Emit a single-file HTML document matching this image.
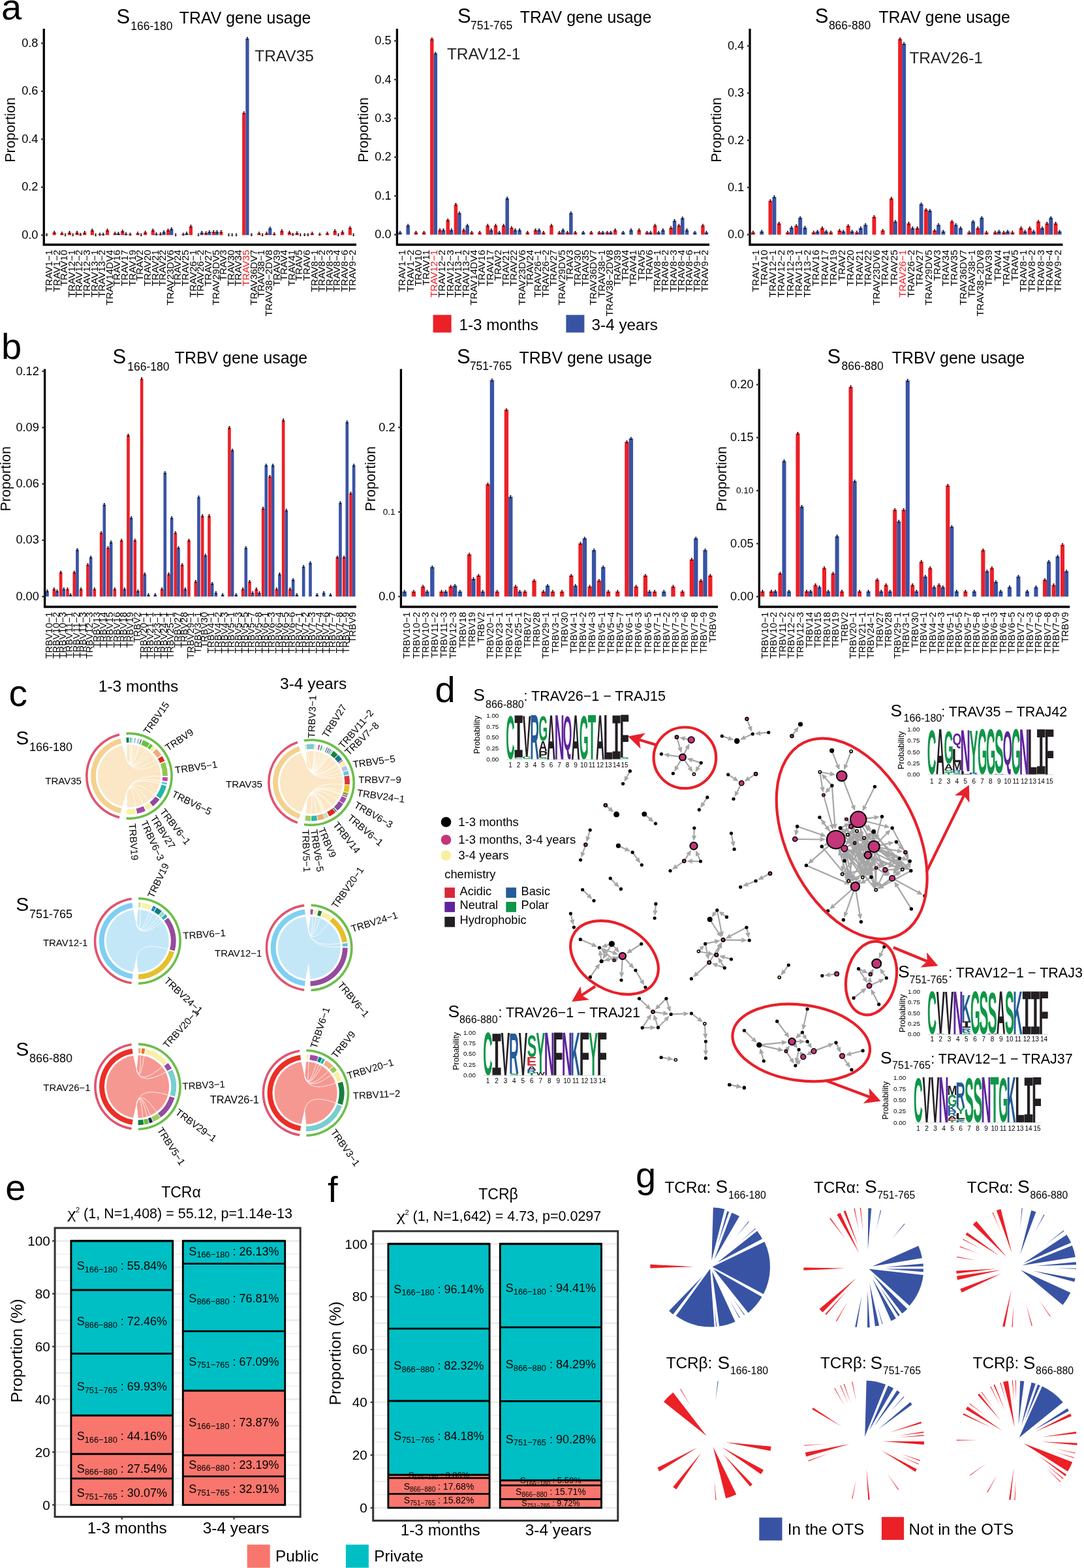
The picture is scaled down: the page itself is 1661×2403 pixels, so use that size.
<!DOCTYPE html>
<html><head><meta charset="utf-8"><title>Figure</title>
<style>
html,body{margin:0;padding:0;background:#fff;}
svg{display:block;font-family:"Liberation Sans",Arial,Helvetica,sans-serif;}
</style></head><body>
<svg width="1661" height="2403" viewBox="0 0 1661 2403">
<rect width="1661" height="2403" fill="#fff"/>
<text x="2.0" y="30.3" font-size="56">a</text>
<text x="2.0" y="550.3" font-size="56">b</text>
<rect x="68.99" y="359.56" width="5.23" height="0.73" fill="#EC2027"/>
<path d="M70.51 357.96h2.2M71.61 357.96v3.2M70.51 361.17h2.2" stroke="#000" stroke-width="1.1" fill="none"/>
<text transform="translate(79.89,383.00) rotate(-90)" font-size="15.0" text-anchor="end">TRAV1−1</text>
<rect x="80.61" y="355.89" width="5.23" height="4.41" fill="#EC2027"/>
<path d="M82.13 354.29h2.2M83.23 354.29v3.2M82.13 357.49h2.2" stroke="#000" stroke-width="1.1" fill="none"/>
<text transform="translate(91.51,383.00) rotate(-90)" font-size="15.0" text-anchor="end">TRAV1−2</text>
<rect x="92.23" y="357.36" width="5.23" height="2.94" fill="#EC2027"/>
<path d="M93.75 355.76h2.2M94.85 355.76v3.2M93.75 358.96h2.2" stroke="#000" stroke-width="1.1" fill="none"/>
<rect x="97.46" y="359.93" width="5.23" height="0.37" fill="#3953A4"/>
<path d="M98.98 358.33h2.2M100.08 358.33v3.2M98.98 361.53h2.2" stroke="#000" stroke-width="1.1" fill="none"/>
<text transform="translate(103.13,383.00) rotate(-90)" font-size="15.0" text-anchor="end">TRAV10</text>
<rect x="103.85" y="356.26" width="5.23" height="4.04" fill="#EC2027"/>
<path d="M105.37 354.66h2.2M106.47 354.66v3.2M105.37 357.86h2.2" stroke="#000" stroke-width="1.1" fill="none"/>
<rect x="109.08" y="359.93" width="5.23" height="0.37" fill="#3953A4"/>
<path d="M110.60 358.33h2.2M111.70 358.33v3.2M110.60 361.53h2.2" stroke="#000" stroke-width="1.1" fill="none"/>
<text transform="translate(114.75,383.00) rotate(-90)" font-size="15.0" text-anchor="end">TRAV12−1</text>
<rect x="115.47" y="356.26" width="5.23" height="4.04" fill="#EC2027"/>
<path d="M116.99 354.66h2.2M118.09 354.66v3.2M116.99 357.86h2.2" stroke="#000" stroke-width="1.1" fill="none"/>
<rect x="120.70" y="359.20" width="5.23" height="1.10" fill="#3953A4"/>
<path d="M122.22 357.60h2.2M123.32 357.60v3.2M122.22 360.80h2.2" stroke="#000" stroke-width="1.1" fill="none"/>
<text transform="translate(126.37,383.00) rotate(-90)" font-size="15.0" text-anchor="end">TRAV12−2</text>
<rect x="127.09" y="356.26" width="5.23" height="4.04" fill="#EC2027"/>
<path d="M128.61 354.66h2.2M129.71 354.66v3.2M128.61 357.86h2.2" stroke="#000" stroke-width="1.1" fill="none"/>
<text transform="translate(137.99,383.00) rotate(-90)" font-size="15.0" text-anchor="end">TRAV12−3</text>
<rect x="138.71" y="352.58" width="5.23" height="7.72" fill="#EC2027"/>
<path d="M140.23 350.98h2.2M141.33 350.98v3.2M140.23 354.18h2.2" stroke="#000" stroke-width="1.1" fill="none"/>
<rect x="143.94" y="359.93" width="5.23" height="0.37" fill="#3953A4"/>
<path d="M145.46 358.33h2.2M146.56 358.33v3.2M145.46 361.53h2.2" stroke="#000" stroke-width="1.1" fill="none"/>
<text transform="translate(149.61,383.00) rotate(-90)" font-size="15.0" text-anchor="end">TRAV13−1</text>
<rect x="150.33" y="358.83" width="5.23" height="1.47" fill="#EC2027"/>
<path d="M151.85 357.23h2.2M152.95 357.23v3.2M151.85 360.43h2.2" stroke="#000" stroke-width="1.1" fill="none"/>
<rect x="155.56" y="358.83" width="5.23" height="1.47" fill="#3953A4"/>
<path d="M157.08 357.23h2.2M158.18 357.23v3.2M157.08 360.43h2.2" stroke="#000" stroke-width="1.1" fill="none"/>
<text transform="translate(161.23,383.00) rotate(-90)" font-size="15.0" text-anchor="end">TRAV13−2</text>
<rect x="161.95" y="352.58" width="5.23" height="7.72" fill="#EC2027"/>
<path d="M163.47 350.98h2.2M164.57 350.98v3.2M163.47 354.18h2.2" stroke="#000" stroke-width="1.1" fill="none"/>
<text transform="translate(172.85,383.00) rotate(-90)" font-size="15.0" text-anchor="end">TRAV14DV4</text>
<rect x="173.57" y="357.36" width="5.23" height="2.94" fill="#EC2027"/>
<path d="M175.09 355.76h2.2M176.19 355.76v3.2M175.09 358.96h2.2" stroke="#000" stroke-width="1.1" fill="none"/>
<rect x="178.80" y="357.73" width="5.23" height="2.57" fill="#3953A4"/>
<path d="M180.32 356.13h2.2M181.42 356.13v3.2M180.32 359.33h2.2" stroke="#000" stroke-width="1.1" fill="none"/>
<text transform="translate(184.47,383.00) rotate(-90)" font-size="15.0" text-anchor="end">TRAV16</text>
<rect x="185.19" y="354.05" width="5.23" height="6.25" fill="#EC2027"/>
<path d="M186.71 352.45h2.2M187.81 352.45v3.2M186.71 355.65h2.2" stroke="#000" stroke-width="1.1" fill="none"/>
<rect x="190.42" y="358.46" width="5.23" height="1.84" fill="#3953A4"/>
<path d="M191.94 356.86h2.2M193.04 356.86v3.2M191.94 360.06h2.2" stroke="#000" stroke-width="1.1" fill="none"/>
<text transform="translate(196.09,383.00) rotate(-90)" font-size="15.0" text-anchor="end">TRAV17</text>
<rect x="196.81" y="358.83" width="5.23" height="1.47" fill="#EC2027"/>
<path d="M198.33 357.23h2.2M199.43 357.23v3.2M198.33 360.43h2.2" stroke="#000" stroke-width="1.1" fill="none"/>
<text transform="translate(207.71,383.00) rotate(-90)" font-size="15.0" text-anchor="end">TRAV19</text>
<rect x="208.43" y="357.36" width="5.23" height="2.94" fill="#EC2027"/>
<path d="M209.95 355.76h2.2M211.05 355.76v3.2M209.95 358.96h2.2" stroke="#000" stroke-width="1.1" fill="none"/>
<rect x="213.66" y="359.93" width="5.23" height="0.37" fill="#3953A4"/>
<path d="M215.18 358.33h2.2M216.28 358.33v3.2M215.18 361.53h2.2" stroke="#000" stroke-width="1.1" fill="none"/>
<text transform="translate(219.33,383.00) rotate(-90)" font-size="15.0" text-anchor="end">TRAV2</text>
<rect x="220.05" y="355.89" width="5.23" height="4.41" fill="#EC2027"/>
<path d="M221.57 354.29h2.2M222.67 354.29v3.2M221.57 357.49h2.2" stroke="#000" stroke-width="1.1" fill="none"/>
<text transform="translate(230.95,383.00) rotate(-90)" font-size="15.0" text-anchor="end">TRAV20</text>
<rect x="231.68" y="352.58" width="5.23" height="7.72" fill="#EC2027"/>
<path d="M233.19 350.98h2.2M234.29 350.98v3.2M233.19 354.18h2.2" stroke="#000" stroke-width="1.1" fill="none"/>
<rect x="236.90" y="358.46" width="5.23" height="1.84" fill="#3953A4"/>
<path d="M238.42 356.86h2.2M239.52 356.86v3.2M238.42 360.06h2.2" stroke="#000" stroke-width="1.1" fill="none"/>
<text transform="translate(242.57,383.00) rotate(-90)" font-size="15.0" text-anchor="end">TRAV21</text>
<rect x="243.30" y="358.46" width="5.23" height="1.84" fill="#EC2027"/>
<path d="M244.81 356.86h2.2M245.91 356.86v3.2M244.81 360.06h2.2" stroke="#000" stroke-width="1.1" fill="none"/>
<rect x="248.52" y="355.52" width="5.23" height="4.78" fill="#3953A4"/>
<path d="M250.04 353.92h2.2M251.14 353.92v3.2M250.04 357.12h2.2" stroke="#000" stroke-width="1.1" fill="none"/>
<text transform="translate(254.19,383.00) rotate(-90)" font-size="15.0" text-anchor="end">TRAV22</text>
<rect x="254.92" y="352.58" width="5.23" height="7.72" fill="#EC2027"/>
<path d="M256.43 350.98h2.2M257.53 350.98v3.2M256.43 354.18h2.2" stroke="#000" stroke-width="1.1" fill="none"/>
<rect x="260.14" y="350.75" width="5.23" height="9.55" fill="#3953A4"/>
<path d="M261.66 349.14h2.2M262.76 349.14v3.2M261.66 352.35h2.2" stroke="#000" stroke-width="1.1" fill="none"/>
<text transform="translate(265.81,383.00) rotate(-90)" font-size="15.0" text-anchor="end">TRAV23DV6</text>
<rect x="266.54" y="359.93" width="5.23" height="0.37" fill="#EC2027"/>
<path d="M268.05 358.33h2.2M269.15 358.33v3.2M268.05 361.53h2.2" stroke="#000" stroke-width="1.1" fill="none"/>
<text transform="translate(277.43,383.00) rotate(-90)" font-size="15.0" text-anchor="end">TRAV24</text>
<rect x="278.16" y="358.83" width="5.23" height="1.47" fill="#EC2027"/>
<path d="M279.67 357.23h2.2M280.77 357.23v3.2M279.67 360.43h2.2" stroke="#000" stroke-width="1.1" fill="none"/>
<rect x="283.38" y="357.36" width="5.23" height="2.94" fill="#3953A4"/>
<path d="M284.90 355.76h2.2M286.00 355.76v3.2M284.90 358.96h2.2" stroke="#000" stroke-width="1.1" fill="none"/>
<text transform="translate(289.05,383.00) rotate(-90)" font-size="15.0" text-anchor="end">TRAV25</text>
<rect x="289.78" y="346.70" width="5.23" height="13.60" fill="#EC2027"/>
<path d="M291.29 345.10h2.2M292.39 345.10v3.2M291.29 348.30h2.2" stroke="#000" stroke-width="1.1" fill="none"/>
<text transform="translate(300.67,383.00) rotate(-90)" font-size="15.0" text-anchor="end">TRAV26−1</text>
<rect x="301.40" y="359.93" width="5.23" height="0.37" fill="#EC2027"/>
<path d="M302.91 358.33h2.2M304.01 358.33v3.2M302.91 361.53h2.2" stroke="#000" stroke-width="1.1" fill="none"/>
<rect x="306.62" y="356.26" width="5.23" height="4.04" fill="#3953A4"/>
<path d="M308.14 354.66h2.2M309.24 354.66v3.2M308.14 357.86h2.2" stroke="#000" stroke-width="1.1" fill="none"/>
<text transform="translate(312.30,383.00) rotate(-90)" font-size="15.0" text-anchor="end">TRAV26−2</text>
<rect x="313.02" y="356.99" width="5.23" height="3.31" fill="#EC2027"/>
<path d="M314.53 355.39h2.2M315.63 355.39v3.2M314.53 358.59h2.2" stroke="#000" stroke-width="1.1" fill="none"/>
<rect x="318.25" y="355.16" width="5.23" height="5.15" fill="#3953A4"/>
<path d="M319.76 353.56h2.2M320.86 353.56v3.2M319.76 356.76h2.2" stroke="#000" stroke-width="1.1" fill="none"/>
<text transform="translate(323.92,383.00) rotate(-90)" font-size="15.0" text-anchor="end">TRAV27</text>
<rect x="324.64" y="355.16" width="5.23" height="5.15" fill="#EC2027"/>
<path d="M326.15 353.56h2.2M327.25 353.56v3.2M326.15 356.76h2.2" stroke="#000" stroke-width="1.1" fill="none"/>
<rect x="329.87" y="355.16" width="5.23" height="5.15" fill="#3953A4"/>
<path d="M331.38 353.56h2.2M332.48 353.56v3.2M331.38 356.76h2.2" stroke="#000" stroke-width="1.1" fill="none"/>
<text transform="translate(335.54,383.00) rotate(-90)" font-size="15.0" text-anchor="end">TRAV29DV5</text>
<rect x="336.26" y="355.16" width="5.23" height="5.15" fill="#EC2027"/>
<path d="M337.77 353.56h2.2M338.87 353.56v3.2M337.77 356.76h2.2" stroke="#000" stroke-width="1.1" fill="none"/>
<text transform="translate(347.16,383.00) rotate(-90)" font-size="15.0" text-anchor="end">TRAV3</text>
<rect x="347.88" y="359.93" width="5.23" height="0.37" fill="#EC2027"/>
<path d="M349.39 358.33h2.2M350.49 358.33v3.2M349.39 361.53h2.2" stroke="#000" stroke-width="1.1" fill="none"/>
<rect x="353.11" y="359.93" width="5.23" height="0.37" fill="#3953A4"/>
<path d="M354.62 358.33h2.2M355.72 358.33v3.2M354.62 361.53h2.2" stroke="#000" stroke-width="1.1" fill="none"/>
<text transform="translate(358.78,383.00) rotate(-90)" font-size="15.0" text-anchor="end">TRAV30</text>
<rect x="359.50" y="359.93" width="5.23" height="0.37" fill="#3953A4"/>
<path d="M361.01 358.33h2.2M362.11 358.33v3.2M361.01 361.53h2.2" stroke="#000" stroke-width="1.1" fill="none"/>
<text transform="translate(370.40,383.00) rotate(-90)" font-size="15.0" text-anchor="end">TRAV34</text>
<rect x="371.12" y="172.88" width="5.23" height="187.43" fill="#EC2027"/>
<path d="M372.63 171.28h2.2M373.73 171.28v3.2M372.63 174.47h2.2" stroke="#000" stroke-width="1.1" fill="none"/>
<rect x="376.35" y="58.95" width="5.23" height="301.35" fill="#3953A4"/>
<path d="M377.86 57.35h2.2M378.96 57.35v3.2M377.86 60.55h2.2" stroke="#000" stroke-width="1.1" fill="none"/>
<text transform="translate(382.02,383.00) rotate(-90)" font-size="15.0" text-anchor="end" fill="#EC2027">TRAV35</text>
<rect x="382.74" y="359.56" width="5.23" height="0.73" fill="#EC2027"/>
<path d="M384.25 357.96h2.2M385.35 357.96v3.2M384.25 361.17h2.2" stroke="#000" stroke-width="1.1" fill="none"/>
<text transform="translate(393.64,383.00) rotate(-90)" font-size="15.0" text-anchor="end">TRAV36DV7</text>
<rect x="394.36" y="357.36" width="5.23" height="2.94" fill="#EC2027"/>
<path d="M395.87 355.76h2.2M396.97 355.76v3.2M395.87 358.96h2.2" stroke="#000" stroke-width="1.1" fill="none"/>
<rect x="399.59" y="359.93" width="5.23" height="0.37" fill="#3953A4"/>
<path d="M401.10 358.33h2.2M402.20 358.33v3.2M401.10 361.53h2.2" stroke="#000" stroke-width="1.1" fill="none"/>
<text transform="translate(405.26,383.00) rotate(-90)" font-size="15.0" text-anchor="end">TRAV38−1</text>
<rect x="405.98" y="357.36" width="5.23" height="2.94" fill="#EC2027"/>
<path d="M407.49 355.76h2.2M408.59 355.76v3.2M407.49 358.96h2.2" stroke="#000" stroke-width="1.1" fill="none"/>
<rect x="411.21" y="349.64" width="5.23" height="10.66" fill="#3953A4"/>
<path d="M412.72 348.04h2.2M413.82 348.04v3.2M412.72 351.24h2.2" stroke="#000" stroke-width="1.1" fill="none"/>
<text transform="translate(416.88,383.00) rotate(-90)" font-size="15.0" text-anchor="end">TRAV38−2DV8</text>
<rect x="417.60" y="358.46" width="5.23" height="1.84" fill="#EC2027"/>
<path d="M419.11 356.86h2.2M420.21 356.86v3.2M419.11 360.06h2.2" stroke="#000" stroke-width="1.1" fill="none"/>
<text transform="translate(428.50,383.00) rotate(-90)" font-size="15.0" text-anchor="end">TRAV39</text>
<rect x="429.22" y="353.69" width="5.23" height="6.61" fill="#EC2027"/>
<path d="M430.73 352.08h2.2M431.83 352.08v3.2M430.73 355.29h2.2" stroke="#000" stroke-width="1.1" fill="none"/>
<text transform="translate(440.12,383.00) rotate(-90)" font-size="15.0" text-anchor="end">TRAV4</text>
<rect x="440.84" y="355.89" width="5.23" height="4.41" fill="#EC2027"/>
<path d="M442.35 354.29h2.2M443.45 354.29v3.2M442.35 357.49h2.2" stroke="#000" stroke-width="1.1" fill="none"/>
<rect x="446.07" y="359.20" width="5.23" height="1.10" fill="#3953A4"/>
<path d="M447.58 357.60h2.2M448.68 357.60v3.2M447.58 360.80h2.2" stroke="#000" stroke-width="1.1" fill="none"/>
<text transform="translate(451.74,383.00) rotate(-90)" font-size="15.0" text-anchor="end">TRAV41</text>
<rect x="452.46" y="356.99" width="5.23" height="3.31" fill="#EC2027"/>
<path d="M453.97 355.39h2.2M455.07 355.39v3.2M453.97 358.59h2.2" stroke="#000" stroke-width="1.1" fill="none"/>
<rect x="457.69" y="359.93" width="5.23" height="0.37" fill="#3953A4"/>
<path d="M459.20 358.33h2.2M460.30 358.33v3.2M459.20 361.53h2.2" stroke="#000" stroke-width="1.1" fill="none"/>
<text transform="translate(463.36,383.00) rotate(-90)" font-size="15.0" text-anchor="end">TRAV5</text>
<rect x="464.08" y="359.56" width="5.23" height="0.73" fill="#EC2027"/>
<path d="M465.59 357.96h2.2M466.69 357.96v3.2M465.59 361.17h2.2" stroke="#000" stroke-width="1.1" fill="none"/>
<rect x="469.31" y="359.56" width="5.23" height="0.73" fill="#3953A4"/>
<path d="M470.82 357.96h2.2M471.92 357.96v3.2M470.82 361.17h2.2" stroke="#000" stroke-width="1.1" fill="none"/>
<text transform="translate(474.98,383.00) rotate(-90)" font-size="15.0" text-anchor="end">TRAV6</text>
<rect x="475.70" y="357.36" width="5.23" height="2.94" fill="#EC2027"/>
<path d="M477.21 355.76h2.2M478.31 355.76v3.2M477.21 358.96h2.2" stroke="#000" stroke-width="1.1" fill="none"/>
<text transform="translate(486.60,383.00) rotate(-90)" font-size="15.0" text-anchor="end">TRAV8−1</text>
<rect x="487.32" y="358.83" width="5.23" height="1.47" fill="#EC2027"/>
<path d="M488.83 357.23h2.2M489.93 357.23v3.2M488.83 360.43h2.2" stroke="#000" stroke-width="1.1" fill="none"/>
<text transform="translate(498.22,383.00) rotate(-90)" font-size="15.0" text-anchor="end">TRAV8−2</text>
<rect x="498.94" y="357.36" width="5.23" height="2.94" fill="#EC2027"/>
<path d="M500.45 355.76h2.2M501.55 355.76v3.2M500.45 358.96h2.2" stroke="#000" stroke-width="1.1" fill="none"/>
<text transform="translate(509.84,383.00) rotate(-90)" font-size="15.0" text-anchor="end">TRAV8−3</text>
<rect x="510.56" y="353.69" width="5.23" height="6.61" fill="#EC2027"/>
<path d="M512.07 352.08h2.2M513.17 352.08v3.2M512.07 355.29h2.2" stroke="#000" stroke-width="1.1" fill="none"/>
<rect x="515.79" y="359.93" width="5.23" height="0.37" fill="#3953A4"/>
<path d="M517.30 358.33h2.2M518.40 358.33v3.2M517.30 361.53h2.2" stroke="#000" stroke-width="1.1" fill="none"/>
<text transform="translate(521.46,383.00) rotate(-90)" font-size="15.0" text-anchor="end">TRAV8−4</text>
<rect x="522.18" y="355.52" width="5.23" height="4.78" fill="#EC2027"/>
<path d="M523.69 353.92h2.2M524.79 353.92v3.2M523.69 357.12h2.2" stroke="#000" stroke-width="1.1" fill="none"/>
<text transform="translate(533.08,383.00) rotate(-90)" font-size="15.0" text-anchor="end">TRAV8−6</text>
<rect x="533.80" y="348.91" width="5.23" height="11.39" fill="#EC2027"/>
<path d="M535.31 347.31h2.2M536.41 347.31v3.2M535.31 350.51h2.2" stroke="#000" stroke-width="1.1" fill="none"/>
<rect x="539.03" y="359.93" width="5.23" height="0.37" fill="#3953A4"/>
<path d="M540.54 358.33h2.2M541.64 358.33v3.2M540.54 361.53h2.2" stroke="#000" stroke-width="1.1" fill="none"/>
<text transform="translate(544.70,383.00) rotate(-90)" font-size="15.0" text-anchor="end">TRAV9−2</text>
<path d="M67.25 44.00V376.60M65.65 375.00H546.00" stroke="#000" stroke-width="3.3" fill="none"/>
<path d="M63.05 360.30H67.25" stroke="#333" stroke-width="2.4"/>
<text x="58.5" y="365.8" font-size="18.2" text-anchor="end">0.0</text>
<path d="M63.05 286.80H67.25" stroke="#333" stroke-width="2.4"/>
<text x="58.5" y="292.3" font-size="18.2" text-anchor="end">0.2</text>
<path d="M63.05 213.30H67.25" stroke="#333" stroke-width="2.4"/>
<text x="58.5" y="218.8" font-size="18.2" text-anchor="end">0.4</text>
<path d="M63.05 139.80H67.25" stroke="#333" stroke-width="2.4"/>
<text x="58.5" y="145.3" font-size="18.2" text-anchor="end">0.6</text>
<path d="M63.05 66.30H67.25" stroke="#333" stroke-width="2.4"/>
<text x="58.5" y="71.8" font-size="18.2" text-anchor="end">0.8</text>
<text x="178.5" y="35.6" font-size="31">S</text>
<text x="200.2" y="45.7" font-size="17.5">166-180</text>
<text x="274.8" y="35.6" font-size="24.9">TRAV gene usage</text>
<text transform="translate(22.90,248.80) rotate(-90)" font-size="21.6">Proportion</text>
<text x="390.2" y="94.0" font-size="24.5" fill="#222">TRAV35</text>
<rect x="610.23" y="356.04" width="5.49" height="3.56" fill="#3953A4"/>
<path d="M611.88 354.44h2.2M612.98 354.44v3.2M611.88 357.64h2.2" stroke="#000" stroke-width="1.1" fill="none"/>
<text transform="translate(621.40,383.00) rotate(-90)" font-size="15.0" text-anchor="end">TRAV1−1</text>
<rect x="622.44" y="345.34" width="5.49" height="14.26" fill="#3953A4"/>
<path d="M624.09 343.74h2.2M625.19 343.74v3.2M624.09 346.94h2.2" stroke="#000" stroke-width="1.1" fill="none"/>
<text transform="translate(633.60,383.00) rotate(-90)" font-size="15.0" text-anchor="end">TRAV1−2</text>
<rect x="634.65" y="356.04" width="5.49" height="3.56" fill="#EC2027"/>
<path d="M636.30 354.44h2.2M637.40 354.44v3.2M636.30 357.64h2.2" stroke="#000" stroke-width="1.1" fill="none"/>
<text transform="translate(645.81,383.00) rotate(-90)" font-size="15.0" text-anchor="end">TRAV10</text>
<rect x="646.86" y="356.04" width="5.49" height="3.56" fill="#EC2027"/>
<path d="M648.51 354.44h2.2M649.61 354.44v3.2M648.51 357.64h2.2" stroke="#000" stroke-width="1.1" fill="none"/>
<text transform="translate(658.02,383.00) rotate(-90)" font-size="15.0" text-anchor="end">TRAV11</text>
<rect x="659.07" y="59.63" width="5.49" height="299.97" fill="#EC2027"/>
<path d="M660.72 58.03h2.2M661.82 58.03v3.2M660.72 61.23h2.2" stroke="#000" stroke-width="1.1" fill="none"/>
<rect x="664.56" y="81.61" width="5.49" height="277.99" fill="#3953A4"/>
<path d="M666.21 80.01h2.2M667.31 80.01v3.2M666.21 83.21h2.2" stroke="#000" stroke-width="1.1" fill="none"/>
<text transform="translate(670.23,383.00) rotate(-90)" font-size="15.0" text-anchor="end" fill="#EC2027">TRAV12−1</text>
<rect x="671.28" y="352.47" width="5.49" height="7.13" fill="#EC2027"/>
<path d="M672.92 350.87h2.2M674.02 350.87v3.2M672.92 354.07h2.2" stroke="#000" stroke-width="1.1" fill="none"/>
<rect x="676.77" y="352.47" width="5.49" height="7.13" fill="#3953A4"/>
<path d="M678.42 350.87h2.2M679.52 350.87v3.2M678.42 354.07h2.2" stroke="#000" stroke-width="1.1" fill="none"/>
<text transform="translate(682.44,383.00) rotate(-90)" font-size="15.0" text-anchor="end">TRAV12−2</text>
<rect x="683.49" y="337.03" width="5.49" height="22.57" fill="#EC2027"/>
<path d="M685.13 335.43h2.2M686.23 335.43v3.2M685.13 338.63h2.2" stroke="#000" stroke-width="1.1" fill="none"/>
<rect x="688.98" y="352.47" width="5.49" height="7.13" fill="#3953A4"/>
<path d="M690.63 350.87h2.2M691.73 350.87v3.2M690.63 354.07h2.2" stroke="#000" stroke-width="1.1" fill="none"/>
<text transform="translate(694.65,383.00) rotate(-90)" font-size="15.0" text-anchor="end">TRAV12−3</text>
<rect x="695.70" y="313.27" width="5.49" height="46.33" fill="#EC2027"/>
<path d="M697.34 311.67h2.2M698.44 311.67v3.2M697.34 314.87h2.2" stroke="#000" stroke-width="1.1" fill="none"/>
<rect x="701.19" y="326.34" width="5.49" height="33.26" fill="#3953A4"/>
<path d="M702.84 324.74h2.2M703.94 324.74v3.2M702.84 327.94h2.2" stroke="#000" stroke-width="1.1" fill="none"/>
<text transform="translate(706.86,383.00) rotate(-90)" font-size="15.0" text-anchor="end">TRAV13−1</text>
<rect x="707.90" y="352.47" width="5.49" height="7.13" fill="#EC2027"/>
<path d="M709.55 350.87h2.2M710.65 350.87v3.2M709.55 354.07h2.2" stroke="#000" stroke-width="1.1" fill="none"/>
<rect x="713.40" y="345.34" width="5.49" height="14.26" fill="#3953A4"/>
<path d="M715.05 343.74h2.2M716.15 343.74v3.2M715.05 346.94h2.2" stroke="#000" stroke-width="1.1" fill="none"/>
<text transform="translate(719.07,383.00) rotate(-90)" font-size="15.0" text-anchor="end">TRAV13−2</text>
<rect x="720.11" y="356.04" width="5.49" height="3.56" fill="#EC2027"/>
<path d="M721.76 354.44h2.2M722.86 354.44v3.2M721.76 357.64h2.2" stroke="#000" stroke-width="1.1" fill="none"/>
<text transform="translate(731.28,383.00) rotate(-90)" font-size="15.0" text-anchor="end">TRAV14DV4</text>
<rect x="732.32" y="356.04" width="5.49" height="3.56" fill="#EC2027"/>
<path d="M733.97 354.44h2.2M735.07 354.44v3.2M733.97 357.64h2.2" stroke="#000" stroke-width="1.1" fill="none"/>
<text transform="translate(743.49,383.00) rotate(-90)" font-size="15.0" text-anchor="end">TRAV16</text>
<rect x="744.53" y="345.34" width="5.49" height="14.26" fill="#EC2027"/>
<path d="M746.18 343.74h2.2M747.28 343.74v3.2M746.18 346.94h2.2" stroke="#000" stroke-width="1.1" fill="none"/>
<rect x="750.03" y="352.47" width="5.49" height="7.13" fill="#3953A4"/>
<path d="M751.67 350.87h2.2M752.77 350.87v3.2M751.67 354.07h2.2" stroke="#000" stroke-width="1.1" fill="none"/>
<text transform="translate(755.70,383.00) rotate(-90)" font-size="15.0" text-anchor="end">TRAV17</text>
<rect x="756.74" y="345.34" width="5.49" height="14.26" fill="#EC2027"/>
<path d="M758.39 343.74h2.2M759.49 343.74v3.2M758.39 346.94h2.2" stroke="#000" stroke-width="1.1" fill="none"/>
<rect x="762.24" y="356.04" width="5.49" height="3.56" fill="#3953A4"/>
<path d="M763.88 354.44h2.2M764.98 354.44v3.2M763.88 357.64h2.2" stroke="#000" stroke-width="1.1" fill="none"/>
<text transform="translate(767.91,383.00) rotate(-90)" font-size="15.0" text-anchor="end">TRAV2</text>
<rect x="768.95" y="345.34" width="5.49" height="14.26" fill="#EC2027"/>
<path d="M770.60 343.74h2.2M771.70 343.74v3.2M770.60 346.94h2.2" stroke="#000" stroke-width="1.1" fill="none"/>
<rect x="774.44" y="303.76" width="5.49" height="55.84" fill="#3953A4"/>
<path d="M776.09 302.16h2.2M777.19 302.16v3.2M776.09 305.36h2.2" stroke="#000" stroke-width="1.1" fill="none"/>
<text transform="translate(780.11,383.00) rotate(-90)" font-size="15.0" text-anchor="end">TRAV21</text>
<rect x="781.16" y="348.91" width="5.49" height="10.69" fill="#EC2027"/>
<path d="M782.81 347.31h2.2M783.91 347.31v3.2M782.81 350.51h2.2" stroke="#000" stroke-width="1.1" fill="none"/>
<rect x="786.65" y="352.47" width="5.49" height="7.13" fill="#3953A4"/>
<path d="M788.30 350.87h2.2M789.40 350.87v3.2M788.30 354.07h2.2" stroke="#000" stroke-width="1.1" fill="none"/>
<text transform="translate(792.32,383.00) rotate(-90)" font-size="15.0" text-anchor="end">TRAV22</text>
<rect x="793.37" y="352.47" width="5.49" height="7.13" fill="#3953A4"/>
<path d="M795.02 350.87h2.2M796.12 350.87v3.2M795.02 354.07h2.2" stroke="#000" stroke-width="1.1" fill="none"/>
<text transform="translate(804.53,383.00) rotate(-90)" font-size="15.0" text-anchor="end">TRAV23DV6</text>
<rect x="805.58" y="356.04" width="5.49" height="3.56" fill="#EC2027"/>
<path d="M807.23 354.44h2.2M808.33 354.44v3.2M807.23 357.64h2.2" stroke="#000" stroke-width="1.1" fill="none"/>
<text transform="translate(816.74,383.00) rotate(-90)" font-size="15.0" text-anchor="end">TRAV24</text>
<rect x="817.79" y="352.47" width="5.49" height="7.13" fill="#EC2027"/>
<path d="M819.43 350.87h2.2M820.53 350.87v3.2M819.43 354.07h2.2" stroke="#000" stroke-width="1.1" fill="none"/>
<rect x="823.28" y="352.47" width="5.49" height="7.13" fill="#3953A4"/>
<path d="M824.93 350.87h2.2M826.03 350.87v3.2M824.93 354.07h2.2" stroke="#000" stroke-width="1.1" fill="none"/>
<text transform="translate(828.95,383.00) rotate(-90)" font-size="15.0" text-anchor="end">TRAV26−1</text>
<rect x="830.00" y="356.04" width="5.49" height="3.56" fill="#EC2027"/>
<path d="M831.64 354.44h2.2M832.74 354.44v3.2M831.64 357.64h2.2" stroke="#000" stroke-width="1.1" fill="none"/>
<text transform="translate(841.16,383.00) rotate(-90)" font-size="15.0" text-anchor="end">TRAV26−2</text>
<rect x="842.21" y="345.34" width="5.49" height="14.26" fill="#EC2027"/>
<path d="M843.85 343.74h2.2M844.95 343.74v3.2M843.85 346.94h2.2" stroke="#000" stroke-width="1.1" fill="none"/>
<text transform="translate(853.37,383.00) rotate(-90)" font-size="15.0" text-anchor="end">TRAV27</text>
<rect x="854.42" y="356.04" width="5.49" height="3.56" fill="#EC2027"/>
<path d="M856.06 354.44h2.2M857.16 354.44v3.2M856.06 357.64h2.2" stroke="#000" stroke-width="1.1" fill="none"/>
<rect x="859.91" y="352.47" width="5.49" height="7.13" fill="#3953A4"/>
<path d="M861.56 350.87h2.2M862.66 350.87v3.2M861.56 354.07h2.2" stroke="#000" stroke-width="1.1" fill="none"/>
<text transform="translate(865.58,383.00) rotate(-90)" font-size="15.0" text-anchor="end">TRAV29DV5</text>
<rect x="866.62" y="356.04" width="5.49" height="3.56" fill="#EC2027"/>
<path d="M868.27 354.44h2.2M869.37 354.44v3.2M868.27 357.64h2.2" stroke="#000" stroke-width="1.1" fill="none"/>
<rect x="872.12" y="326.34" width="5.49" height="33.26" fill="#3953A4"/>
<path d="M873.77 324.74h2.2M874.87 324.74v3.2M873.77 327.94h2.2" stroke="#000" stroke-width="1.1" fill="none"/>
<text transform="translate(877.79,383.00) rotate(-90)" font-size="15.0" text-anchor="end">TRAV3</text>
<rect x="878.83" y="356.04" width="5.49" height="3.56" fill="#EC2027"/>
<path d="M880.48 354.44h2.2M881.58 354.44v3.2M880.48 357.64h2.2" stroke="#000" stroke-width="1.1" fill="none"/>
<text transform="translate(890.00,383.00) rotate(-90)" font-size="15.0" text-anchor="end">TRAV30</text>
<rect x="891.04" y="356.04" width="5.49" height="3.56" fill="#3953A4"/>
<path d="M892.69 354.44h2.2M893.79 354.44v3.2M892.69 357.64h2.2" stroke="#000" stroke-width="1.1" fill="none"/>
<text transform="translate(902.21,383.00) rotate(-90)" font-size="15.0" text-anchor="end">TRAV35</text>
<rect x="903.25" y="356.04" width="5.49" height="3.56" fill="#EC2027"/>
<path d="M904.90 354.44h2.2M906.00 354.44v3.2M904.90 357.64h2.2" stroke="#000" stroke-width="1.1" fill="none"/>
<text transform="translate(914.42,383.00) rotate(-90)" font-size="15.0" text-anchor="end">TRAV36DV7</text>
<rect x="915.46" y="356.04" width="5.49" height="3.56" fill="#EC2027"/>
<path d="M917.11 354.44h2.2M918.21 354.44v3.2M917.11 357.64h2.2" stroke="#000" stroke-width="1.1" fill="none"/>
<rect x="920.96" y="356.04" width="5.49" height="3.56" fill="#3953A4"/>
<path d="M922.60 354.44h2.2M923.70 354.44v3.2M922.60 357.64h2.2" stroke="#000" stroke-width="1.1" fill="none"/>
<text transform="translate(926.63,383.00) rotate(-90)" font-size="15.0" text-anchor="end">TRAV38−1</text>
<rect x="927.67" y="356.04" width="5.49" height="3.56" fill="#EC2027"/>
<path d="M929.32 354.44h2.2M930.42 354.44v3.2M929.32 357.64h2.2" stroke="#000" stroke-width="1.1" fill="none"/>
<rect x="933.16" y="356.04" width="5.49" height="3.56" fill="#3953A4"/>
<path d="M934.81 354.44h2.2M935.91 354.44v3.2M934.81 357.64h2.2" stroke="#000" stroke-width="1.1" fill="none"/>
<text transform="translate(938.83,383.00) rotate(-90)" font-size="15.0" text-anchor="end">TRAV38−2DV8</text>
<rect x="939.88" y="352.47" width="5.49" height="7.13" fill="#EC2027"/>
<path d="M941.53 350.87h2.2M942.63 350.87v3.2M941.53 354.07h2.2" stroke="#000" stroke-width="1.1" fill="none"/>
<text transform="translate(951.04,383.00) rotate(-90)" font-size="15.0" text-anchor="end">TRAV39</text>
<rect x="952.09" y="356.04" width="5.49" height="3.56" fill="#3953A4"/>
<path d="M953.74 354.44h2.2M954.84 354.44v3.2M953.74 357.64h2.2" stroke="#000" stroke-width="1.1" fill="none"/>
<text transform="translate(963.25,383.00) rotate(-90)" font-size="15.0" text-anchor="end">TRAV4</text>
<rect x="964.30" y="352.47" width="5.49" height="7.13" fill="#3953A4"/>
<path d="M965.94 350.87h2.2M967.04 350.87v3.2M965.94 354.07h2.2" stroke="#000" stroke-width="1.1" fill="none"/>
<text transform="translate(975.46,383.00) rotate(-90)" font-size="15.0" text-anchor="end">TRAV41</text>
<rect x="976.51" y="352.47" width="5.49" height="7.13" fill="#EC2027"/>
<path d="M978.15 350.87h2.2M979.25 350.87v3.2M978.15 354.07h2.2" stroke="#000" stroke-width="1.1" fill="none"/>
<text transform="translate(987.67,383.00) rotate(-90)" font-size="15.0" text-anchor="end">TRAV5</text>
<rect x="988.72" y="356.04" width="5.49" height="3.56" fill="#EC2027"/>
<path d="M990.36 354.44h2.2M991.46 354.44v3.2M990.36 357.64h2.2" stroke="#000" stroke-width="1.1" fill="none"/>
<rect x="994.21" y="356.04" width="5.49" height="3.56" fill="#3953A4"/>
<path d="M995.86 354.44h2.2M996.96 354.44v3.2M995.86 357.64h2.2" stroke="#000" stroke-width="1.1" fill="none"/>
<text transform="translate(999.88,383.00) rotate(-90)" font-size="15.0" text-anchor="end">TRAV6</text>
<rect x="1000.93" y="345.34" width="5.49" height="14.26" fill="#EC2027"/>
<path d="M1002.57 343.74h2.2M1003.67 343.74v3.2M1002.57 346.94h2.2" stroke="#000" stroke-width="1.1" fill="none"/>
<rect x="1006.42" y="356.04" width="5.49" height="3.56" fill="#3953A4"/>
<path d="M1008.07 354.44h2.2M1009.17 354.44v3.2M1008.07 357.64h2.2" stroke="#000" stroke-width="1.1" fill="none"/>
<text transform="translate(1012.09,383.00) rotate(-90)" font-size="15.0" text-anchor="end">TRAV8−1</text>
<rect x="1013.13" y="352.47" width="5.49" height="7.13" fill="#3953A4"/>
<path d="M1014.78 350.87h2.2M1015.88 350.87v3.2M1014.78 354.07h2.2" stroke="#000" stroke-width="1.1" fill="none"/>
<text transform="translate(1024.30,383.00) rotate(-90)" font-size="15.0" text-anchor="end">TRAV8−2</text>
<rect x="1025.34" y="348.91" width="5.49" height="10.69" fill="#EC2027"/>
<path d="M1026.99 347.31h2.2M1028.09 347.31v3.2M1026.99 350.51h2.2" stroke="#000" stroke-width="1.1" fill="none"/>
<rect x="1030.84" y="338.22" width="5.49" height="21.38" fill="#3953A4"/>
<path d="M1032.48 336.62h2.2M1033.58 336.62v3.2M1032.48 339.82h2.2" stroke="#000" stroke-width="1.1" fill="none"/>
<text transform="translate(1036.51,383.00) rotate(-90)" font-size="15.0" text-anchor="end">TRAV8−3</text>
<rect x="1037.55" y="345.34" width="5.49" height="14.26" fill="#EC2027"/>
<path d="M1039.20 343.74h2.2M1040.30 343.74v3.2M1039.20 346.94h2.2" stroke="#000" stroke-width="1.1" fill="none"/>
<rect x="1043.05" y="334.06" width="5.49" height="25.54" fill="#3953A4"/>
<path d="M1044.69 332.46h2.2M1045.79 332.46v3.2M1044.69 335.66h2.2" stroke="#000" stroke-width="1.1" fill="none"/>
<text transform="translate(1048.72,383.00) rotate(-90)" font-size="15.0" text-anchor="end">TRAV8−4</text>
<rect x="1049.76" y="352.47" width="5.49" height="7.13" fill="#3953A4"/>
<path d="M1051.41 350.87h2.2M1052.51 350.87v3.2M1051.41 354.07h2.2" stroke="#000" stroke-width="1.1" fill="none"/>
<text transform="translate(1060.93,383.00) rotate(-90)" font-size="15.0" text-anchor="end">TRAV8−6</text>
<rect x="1061.97" y="356.04" width="5.49" height="3.56" fill="#3953A4"/>
<path d="M1063.62 354.44h2.2M1064.72 354.44v3.2M1063.62 357.64h2.2" stroke="#000" stroke-width="1.1" fill="none"/>
<text transform="translate(1073.14,383.00) rotate(-90)" font-size="15.0" text-anchor="end">TRAV9−1</text>
<rect x="1074.18" y="345.34" width="5.49" height="14.26" fill="#EC2027"/>
<path d="M1075.83 343.74h2.2M1076.93 343.74v3.2M1075.83 346.94h2.2" stroke="#000" stroke-width="1.1" fill="none"/>
<rect x="1079.67" y="356.04" width="5.49" height="3.56" fill="#3953A4"/>
<path d="M1081.32 354.44h2.2M1082.42 354.44v3.2M1081.32 357.64h2.2" stroke="#000" stroke-width="1.1" fill="none"/>
<text transform="translate(1085.34,383.00) rotate(-90)" font-size="15.0" text-anchor="end">TRAV9−2</text>
<path d="M608.40 44.00V376.60M606.80 375.00H1087.00" stroke="#000" stroke-width="3.3" fill="none"/>
<path d="M604.20 359.60H608.4" stroke="#333" stroke-width="2.4"/>
<text x="599.6" y="365.1" font-size="18.2" text-anchor="end">0.0</text>
<path d="M604.20 300.20H608.4" stroke="#333" stroke-width="2.4"/>
<text x="599.6" y="305.7" font-size="18.2" text-anchor="end">0.1</text>
<path d="M604.20 240.80H608.4" stroke="#333" stroke-width="2.4"/>
<text x="599.6" y="246.3" font-size="18.2" text-anchor="end">0.2</text>
<path d="M604.20 181.40H608.4" stroke="#333" stroke-width="2.4"/>
<text x="599.6" y="186.9" font-size="18.2" text-anchor="end">0.3</text>
<path d="M604.20 122.00H608.4" stroke="#333" stroke-width="2.4"/>
<text x="599.6" y="127.5" font-size="18.2" text-anchor="end">0.4</text>
<path d="M604.20 62.60H608.4" stroke="#333" stroke-width="2.4"/>
<text x="599.6" y="68.1" font-size="18.2" text-anchor="end">0.5</text>
<text x="701.0" y="35.4" font-size="31">S</text>
<text x="721.0" y="45.2" font-size="17.5">751-765</text>
<text x="796.7" y="35.4" font-size="24.9">TRAV gene usage</text>
<text transform="translate(563.90,248.80) rotate(-90)" font-size="21.6">Proportion</text>
<text x="684.9" y="91.2" font-size="24.5" fill="#222">TRAV12-1</text>
<rect x="1150.99" y="355.99" width="5.96" height="3.62" fill="#EC2027"/>
<path d="M1152.87 354.38h2.2M1153.97 354.38v3.2M1152.87 357.59h2.2" stroke="#000" stroke-width="1.1" fill="none"/>
<text transform="translate(1162.62,383.00) rotate(-90)" font-size="15.0" text-anchor="end">TRAV1−1</text>
<rect x="1164.23" y="354.54" width="5.96" height="5.06" fill="#3953A4"/>
<path d="M1166.11 352.94h2.2M1167.21 352.94v3.2M1166.11 356.14h2.2" stroke="#000" stroke-width="1.1" fill="none"/>
<text transform="translate(1175.86,383.00) rotate(-90)" font-size="15.0" text-anchor="end">TRAV10</text>
<rect x="1177.48" y="307.54" width="5.96" height="52.06" fill="#EC2027"/>
<path d="M1179.36 305.94h2.2M1180.46 305.94v3.2M1179.36 309.14h2.2" stroke="#000" stroke-width="1.1" fill="none"/>
<rect x="1183.44" y="301.76" width="5.96" height="57.84" fill="#3953A4"/>
<path d="M1185.32 300.16h2.2M1186.42 300.16v3.2M1185.32 303.36h2.2" stroke="#000" stroke-width="1.1" fill="none"/>
<text transform="translate(1189.11,383.00) rotate(-90)" font-size="15.0" text-anchor="end">TRAV12−1</text>
<rect x="1190.72" y="342.25" width="5.96" height="17.35" fill="#EC2027"/>
<path d="M1192.60 340.65h2.2M1193.70 340.65v3.2M1192.60 343.85h2.2" stroke="#000" stroke-width="1.1" fill="none"/>
<text transform="translate(1202.36,383.00) rotate(-90)" font-size="15.0" text-anchor="end">TRAV12−2</text>
<rect x="1203.97" y="355.99" width="5.96" height="3.62" fill="#EC2027"/>
<path d="M1205.85 354.38h2.2M1206.95 354.38v3.2M1205.85 357.59h2.2" stroke="#000" stroke-width="1.1" fill="none"/>
<rect x="1209.93" y="348.75" width="5.96" height="10.84" fill="#3953A4"/>
<path d="M1211.81 347.15h2.2M1212.91 347.15v3.2M1211.81 350.36h2.2" stroke="#000" stroke-width="1.1" fill="none"/>
<text transform="translate(1215.60,383.00) rotate(-90)" font-size="15.0" text-anchor="end">TRAV12−3</text>
<rect x="1217.22" y="345.86" width="5.96" height="13.74" fill="#EC2027"/>
<path d="M1219.10 344.26h2.2M1220.20 344.26v3.2M1219.10 347.46h2.2" stroke="#000" stroke-width="1.1" fill="none"/>
<rect x="1223.18" y="333.57" width="5.96" height="26.03" fill="#3953A4"/>
<path d="M1225.06 331.97h2.2M1226.16 331.97v3.2M1225.06 335.17h2.2" stroke="#000" stroke-width="1.1" fill="none"/>
<text transform="translate(1228.85,383.00) rotate(-90)" font-size="15.0" text-anchor="end">TRAV13−1</text>
<rect x="1230.46" y="348.75" width="5.96" height="10.84" fill="#3953A4"/>
<path d="M1232.34 347.15h2.2M1233.44 347.15v3.2M1232.34 350.36h2.2" stroke="#000" stroke-width="1.1" fill="none"/>
<text transform="translate(1242.09,383.00) rotate(-90)" font-size="15.0" text-anchor="end">TRAV13−2</text>
<rect x="1243.71" y="355.99" width="5.96" height="3.62" fill="#EC2027"/>
<path d="M1245.59 354.38h2.2M1246.69 354.38v3.2M1245.59 357.59h2.2" stroke="#000" stroke-width="1.1" fill="none"/>
<rect x="1249.67" y="354.54" width="5.96" height="5.06" fill="#3953A4"/>
<path d="M1251.55 352.94h2.2M1252.65 352.94v3.2M1251.55 356.14h2.2" stroke="#000" stroke-width="1.1" fill="none"/>
<text transform="translate(1255.34,383.00) rotate(-90)" font-size="15.0" text-anchor="end">TRAV16</text>
<rect x="1256.95" y="349.48" width="5.96" height="10.12" fill="#EC2027"/>
<path d="M1258.83 347.88h2.2M1259.93 347.88v3.2M1258.83 351.08h2.2" stroke="#000" stroke-width="1.1" fill="none"/>
<rect x="1262.91" y="354.54" width="5.96" height="5.06" fill="#3953A4"/>
<path d="M1264.79 352.94h2.2M1265.89 352.94v3.2M1264.79 356.14h2.2" stroke="#000" stroke-width="1.1" fill="none"/>
<text transform="translate(1268.58,383.00) rotate(-90)" font-size="15.0" text-anchor="end">TRAV17</text>
<rect x="1270.20" y="355.99" width="5.96" height="3.62" fill="#EC2027"/>
<path d="M1272.08 354.38h2.2M1273.18 354.38v3.2M1272.08 357.59h2.2" stroke="#000" stroke-width="1.1" fill="none"/>
<text transform="translate(1281.83,383.00) rotate(-90)" font-size="15.0" text-anchor="end">TRAV19</text>
<rect x="1283.45" y="353.09" width="5.96" height="6.51" fill="#EC2027"/>
<path d="M1285.33 351.49h2.2M1286.43 351.49v3.2M1285.33 354.69h2.2" stroke="#000" stroke-width="1.1" fill="none"/>
<rect x="1289.41" y="354.54" width="5.96" height="5.06" fill="#3953A4"/>
<path d="M1291.29 352.94h2.2M1292.39 352.94v3.2M1291.29 356.14h2.2" stroke="#000" stroke-width="1.1" fill="none"/>
<text transform="translate(1295.08,383.00) rotate(-90)" font-size="15.0" text-anchor="end">TRAV2</text>
<rect x="1296.69" y="345.86" width="5.96" height="13.74" fill="#EC2027"/>
<path d="M1298.57 344.26h2.2M1299.67 344.26v3.2M1298.57 347.46h2.2" stroke="#000" stroke-width="1.1" fill="none"/>
<rect x="1302.65" y="354.54" width="5.96" height="5.06" fill="#3953A4"/>
<path d="M1304.53 352.94h2.2M1305.63 352.94v3.2M1304.53 356.14h2.2" stroke="#000" stroke-width="1.1" fill="none"/>
<text transform="translate(1308.32,383.00) rotate(-90)" font-size="15.0" text-anchor="end">TRAV20</text>
<rect x="1309.94" y="355.99" width="5.96" height="3.62" fill="#EC2027"/>
<path d="M1311.82 354.38h2.2M1312.92 354.38v3.2M1311.82 357.59h2.2" stroke="#000" stroke-width="1.1" fill="none"/>
<rect x="1315.90" y="349.48" width="5.96" height="10.12" fill="#3953A4"/>
<path d="M1317.78 347.88h2.2M1318.88 347.88v3.2M1317.78 351.08h2.2" stroke="#000" stroke-width="1.1" fill="none"/>
<text transform="translate(1321.57,383.00) rotate(-90)" font-size="15.0" text-anchor="end">TRAV21</text>
<rect x="1323.18" y="344.42" width="5.96" height="15.18" fill="#3953A4"/>
<path d="M1325.06 342.82h2.2M1326.16 342.82v3.2M1325.06 346.02h2.2" stroke="#000" stroke-width="1.1" fill="none"/>
<text transform="translate(1334.81,383.00) rotate(-90)" font-size="15.0" text-anchor="end">TRAV22</text>
<rect x="1336.43" y="332.13" width="5.96" height="27.47" fill="#EC2027"/>
<path d="M1338.31 330.53h2.2M1339.41 330.53v3.2M1338.31 333.73h2.2" stroke="#000" stroke-width="1.1" fill="none"/>
<text transform="translate(1348.06,383.00) rotate(-90)" font-size="15.0" text-anchor="end">TRAV23DV6</text>
<rect x="1349.67" y="353.09" width="5.96" height="6.51" fill="#EC2027"/>
<path d="M1351.56 351.49h2.2M1352.66 351.49v3.2M1351.56 354.69h2.2" stroke="#000" stroke-width="1.1" fill="none"/>
<text transform="translate(1361.31,383.00) rotate(-90)" font-size="15.0" text-anchor="end">TRAV24</text>
<rect x="1362.92" y="303.93" width="5.96" height="55.67" fill="#EC2027"/>
<path d="M1364.80 302.33h2.2M1365.90 302.33v3.2M1364.80 305.53h2.2" stroke="#000" stroke-width="1.1" fill="none"/>
<rect x="1368.88" y="339.36" width="5.96" height="20.24" fill="#3953A4"/>
<path d="M1370.76 337.76h2.2M1371.86 337.76v3.2M1370.76 340.96h2.2" stroke="#000" stroke-width="1.1" fill="none"/>
<text transform="translate(1374.55,383.00) rotate(-90)" font-size="15.0" text-anchor="end">TRAV25</text>
<rect x="1376.17" y="59.56" width="5.96" height="300.04" fill="#EC2027"/>
<path d="M1378.05 57.96h2.2M1379.15 57.96v3.2M1378.05 61.16h2.2" stroke="#000" stroke-width="1.1" fill="none"/>
<rect x="1382.13" y="66.79" width="5.96" height="292.81" fill="#3953A4"/>
<path d="M1384.01 65.19h2.2M1385.11 65.19v3.2M1384.01 68.39h2.2" stroke="#000" stroke-width="1.1" fill="none"/>
<text transform="translate(1387.80,383.00) rotate(-90)" font-size="15.0" text-anchor="end" fill="#EC2027">TRAV26−1</text>
<rect x="1389.41" y="342.25" width="5.96" height="17.35" fill="#EC2027"/>
<path d="M1391.29 340.65h2.2M1392.39 340.65v3.2M1391.29 343.85h2.2" stroke="#000" stroke-width="1.1" fill="none"/>
<rect x="1395.37" y="349.48" width="5.96" height="10.12" fill="#3953A4"/>
<path d="M1397.25 347.88h2.2M1398.35 347.88v3.2M1397.25 351.08h2.2" stroke="#000" stroke-width="1.1" fill="none"/>
<text transform="translate(1401.04,383.00) rotate(-90)" font-size="15.0" text-anchor="end">TRAV26−2</text>
<rect x="1402.66" y="349.48" width="5.96" height="10.12" fill="#EC2027"/>
<path d="M1404.54 347.88h2.2M1405.64 347.88v3.2M1404.54 351.08h2.2" stroke="#000" stroke-width="1.1" fill="none"/>
<rect x="1408.62" y="312.61" width="5.96" height="47.00" fill="#3953A4"/>
<path d="M1410.50 311.00h2.2M1411.60 311.00v3.2M1410.50 314.21h2.2" stroke="#000" stroke-width="1.1" fill="none"/>
<text transform="translate(1414.29,383.00) rotate(-90)" font-size="15.0" text-anchor="end">TRAV27</text>
<rect x="1415.90" y="321.28" width="5.96" height="38.32" fill="#EC2027"/>
<path d="M1417.78 319.68h2.2M1418.88 319.68v3.2M1417.78 322.88h2.2" stroke="#000" stroke-width="1.1" fill="none"/>
<rect x="1421.86" y="322.73" width="5.96" height="36.87" fill="#3953A4"/>
<path d="M1423.74 321.13h2.2M1424.84 321.13v3.2M1423.74 324.33h2.2" stroke="#000" stroke-width="1.1" fill="none"/>
<text transform="translate(1427.53,383.00) rotate(-90)" font-size="15.0" text-anchor="end">TRAV29DV5</text>
<rect x="1429.15" y="353.09" width="5.96" height="6.51" fill="#EC2027"/>
<path d="M1431.03 351.49h2.2M1432.13 351.49v3.2M1431.03 354.69h2.2" stroke="#000" stroke-width="1.1" fill="none"/>
<rect x="1435.11" y="344.42" width="5.96" height="15.18" fill="#3953A4"/>
<path d="M1436.99 342.82h2.2M1438.09 342.82v3.2M1436.99 346.02h2.2" stroke="#000" stroke-width="1.1" fill="none"/>
<text transform="translate(1440.78,383.00) rotate(-90)" font-size="15.0" text-anchor="end">TRAV3</text>
<rect x="1442.40" y="354.54" width="5.96" height="5.06" fill="#3953A4"/>
<path d="M1444.28 352.94h2.2M1445.38 352.94v3.2M1444.28 356.14h2.2" stroke="#000" stroke-width="1.1" fill="none"/>
<text transform="translate(1454.03,383.00) rotate(-90)" font-size="15.0" text-anchor="end">TRAV34</text>
<rect x="1455.64" y="339.36" width="5.96" height="20.24" fill="#EC2027"/>
<path d="M1457.52 337.76h2.2M1458.62 337.76v3.2M1457.52 340.96h2.2" stroke="#000" stroke-width="1.1" fill="none"/>
<rect x="1461.60" y="344.42" width="5.96" height="15.18" fill="#3953A4"/>
<path d="M1463.48 342.82h2.2M1464.58 342.82v3.2M1463.48 346.02h2.2" stroke="#000" stroke-width="1.1" fill="none"/>
<text transform="translate(1467.27,383.00) rotate(-90)" font-size="15.0" text-anchor="end">TRAV35</text>
<rect x="1468.89" y="349.48" width="5.96" height="10.12" fill="#3953A4"/>
<path d="M1470.77 347.88h2.2M1471.87 347.88v3.2M1470.77 351.08h2.2" stroke="#000" stroke-width="1.1" fill="none"/>
<text transform="translate(1480.52,383.00) rotate(-90)" font-size="15.0" text-anchor="end">TRAV36DV7</text>
<rect x="1482.13" y="355.99" width="5.96" height="3.62" fill="#EC2027"/>
<path d="M1484.01 354.38h2.2M1485.11 354.38v3.2M1484.01 357.59h2.2" stroke="#000" stroke-width="1.1" fill="none"/>
<rect x="1488.09" y="339.36" width="5.96" height="20.24" fill="#3953A4"/>
<path d="M1489.97 337.76h2.2M1491.07 337.76v3.2M1489.97 340.96h2.2" stroke="#000" stroke-width="1.1" fill="none"/>
<text transform="translate(1493.76,383.00) rotate(-90)" font-size="15.0" text-anchor="end">TRAV38−1</text>
<rect x="1495.38" y="349.48" width="5.96" height="10.12" fill="#EC2027"/>
<path d="M1497.26 347.88h2.2M1498.36 347.88v3.2M1497.26 351.08h2.2" stroke="#000" stroke-width="1.1" fill="none"/>
<rect x="1501.34" y="333.57" width="5.96" height="26.03" fill="#3953A4"/>
<path d="M1503.22 331.97h2.2M1504.32 331.97v3.2M1503.22 335.17h2.2" stroke="#000" stroke-width="1.1" fill="none"/>
<text transform="translate(1507.01,383.00) rotate(-90)" font-size="15.0" text-anchor="end">TRAV38−2DV8</text>
<rect x="1508.63" y="355.99" width="5.96" height="3.62" fill="#EC2027"/>
<path d="M1510.51 354.38h2.2M1511.61 354.38v3.2M1510.51 357.59h2.2" stroke="#000" stroke-width="1.1" fill="none"/>
<text transform="translate(1520.26,383.00) rotate(-90)" font-size="15.0" text-anchor="end">TRAV39</text>
<rect x="1521.87" y="355.99" width="5.96" height="3.62" fill="#EC2027"/>
<path d="M1523.75 354.38h2.2M1524.85 354.38v3.2M1523.75 357.59h2.2" stroke="#000" stroke-width="1.1" fill="none"/>
<rect x="1527.83" y="354.54" width="5.96" height="5.06" fill="#3953A4"/>
<path d="M1529.71 352.94h2.2M1530.81 352.94v3.2M1529.71 356.14h2.2" stroke="#000" stroke-width="1.1" fill="none"/>
<text transform="translate(1533.50,383.00) rotate(-90)" font-size="15.0" text-anchor="end">TRAV4</text>
<rect x="1535.12" y="355.99" width="5.96" height="3.62" fill="#EC2027"/>
<path d="M1537.00 354.38h2.2M1538.10 354.38v3.2M1537.00 357.59h2.2" stroke="#000" stroke-width="1.1" fill="none"/>
<rect x="1541.08" y="354.54" width="5.96" height="5.06" fill="#3953A4"/>
<path d="M1542.96 352.94h2.2M1544.06 352.94v3.2M1542.96 356.14h2.2" stroke="#000" stroke-width="1.1" fill="none"/>
<text transform="translate(1546.75,383.00) rotate(-90)" font-size="15.0" text-anchor="end">TRAV41</text>
<rect x="1548.36" y="355.99" width="5.96" height="3.62" fill="#EC2027"/>
<path d="M1550.24 354.38h2.2M1551.34 354.38v3.2M1550.24 357.59h2.2" stroke="#000" stroke-width="1.1" fill="none"/>
<text transform="translate(1559.99,383.00) rotate(-90)" font-size="15.0" text-anchor="end">TRAV5</text>
<rect x="1561.61" y="349.48" width="5.96" height="10.12" fill="#EC2027"/>
<path d="M1563.49 347.88h2.2M1564.59 347.88v3.2M1563.49 351.08h2.2" stroke="#000" stroke-width="1.1" fill="none"/>
<rect x="1567.57" y="354.54" width="5.96" height="5.06" fill="#3953A4"/>
<path d="M1569.45 352.94h2.2M1570.55 352.94v3.2M1569.45 356.14h2.2" stroke="#000" stroke-width="1.1" fill="none"/>
<text transform="translate(1573.24,383.00) rotate(-90)" font-size="15.0" text-anchor="end">TRAV8−1</text>
<rect x="1574.85" y="349.48" width="5.96" height="10.12" fill="#EC2027"/>
<path d="M1576.73 347.88h2.2M1577.83 347.88v3.2M1576.73 351.08h2.2" stroke="#000" stroke-width="1.1" fill="none"/>
<rect x="1580.81" y="354.54" width="5.96" height="5.06" fill="#3953A4"/>
<path d="M1582.70 352.94h2.2M1583.80 352.94v3.2M1582.70 356.14h2.2" stroke="#000" stroke-width="1.1" fill="none"/>
<text transform="translate(1586.48,383.00) rotate(-90)" font-size="15.0" text-anchor="end">TRAV8−2</text>
<rect x="1588.10" y="339.36" width="5.96" height="20.24" fill="#EC2027"/>
<path d="M1589.98 337.76h2.2M1591.08 337.76v3.2M1589.98 340.96h2.2" stroke="#000" stroke-width="1.1" fill="none"/>
<rect x="1594.06" y="349.48" width="5.96" height="10.12" fill="#3953A4"/>
<path d="M1595.94 347.88h2.2M1597.04 347.88v3.2M1595.94 351.08h2.2" stroke="#000" stroke-width="1.1" fill="none"/>
<text transform="translate(1599.73,383.00) rotate(-90)" font-size="15.0" text-anchor="end">TRAV8−3</text>
<rect x="1601.35" y="342.25" width="5.96" height="17.35" fill="#EC2027"/>
<path d="M1603.23 340.65h2.2M1604.33 340.65v3.2M1603.23 343.85h2.2" stroke="#000" stroke-width="1.1" fill="none"/>
<rect x="1607.31" y="333.57" width="5.96" height="26.03" fill="#3953A4"/>
<path d="M1609.19 331.97h2.2M1610.29 331.97v3.2M1609.19 335.17h2.2" stroke="#000" stroke-width="1.1" fill="none"/>
<text transform="translate(1612.98,383.00) rotate(-90)" font-size="15.0" text-anchor="end">TRAV8−4</text>
<rect x="1614.59" y="342.25" width="5.96" height="17.35" fill="#EC2027"/>
<path d="M1616.47 340.65h2.2M1617.57 340.65v3.2M1616.47 343.85h2.2" stroke="#000" stroke-width="1.1" fill="none"/>
<rect x="1620.55" y="354.54" width="5.96" height="5.06" fill="#3953A4"/>
<path d="M1622.43 352.94h2.2M1623.53 352.94v3.2M1622.43 356.14h2.2" stroke="#000" stroke-width="1.1" fill="none"/>
<text transform="translate(1626.22,383.00) rotate(-90)" font-size="15.0" text-anchor="end">TRAV9−2</text>
<path d="M1149.00 44.00V376.60M1147.40 375.00H1628.50" stroke="#000" stroke-width="3.3" fill="none"/>
<path d="M1144.80 359.60H1149" stroke="#333" stroke-width="2.4"/>
<text x="1140.2" y="365.1" font-size="18.2" text-anchor="end">0.0</text>
<path d="M1144.80 287.30H1149" stroke="#333" stroke-width="2.4"/>
<text x="1140.2" y="292.8" font-size="18.2" text-anchor="end">0.1</text>
<path d="M1144.80 215.00H1149" stroke="#333" stroke-width="2.4"/>
<text x="1140.2" y="220.5" font-size="18.2" text-anchor="end">0.2</text>
<path d="M1144.80 142.70H1149" stroke="#333" stroke-width="2.4"/>
<text x="1140.2" y="148.2" font-size="18.2" text-anchor="end">0.3</text>
<path d="M1144.80 70.40H1149" stroke="#333" stroke-width="2.4"/>
<text x="1140.2" y="75.9" font-size="18.2" text-anchor="end">0.4</text>
<text x="1248.8" y="35.2" font-size="31">S</text>
<text x="1269.9" y="45.0" font-size="17.5">866-880</text>
<text x="1346.4" y="35.2" font-size="24.9">TRAV gene usage</text>
<text transform="translate(1104.90,248.80) rotate(-90)" font-size="21.6">Proportion</text>
<text x="1393.4" y="96.6" font-size="24.5" fill="#222">TRAV26-1</text>
<rect x="663.6" y="482.6" width="28" height="27" fill="#EC2027"/>
<text x="703.4" y="505.5" font-size="24.3">1-3 months</text>
<rect x="867.4" y="482.6" width="28" height="27" fill="#3953A4"/>
<text x="906.6" y="505.5" font-size="24.3">3-4 years</text>
<rect x="70.15" y="905.57" width="4.65" height="8.63" fill="#3953A4"/>
<path d="M71.38 903.97h2.2M72.47 903.97v3.2M71.38 907.17h2.2" stroke="#000" stroke-width="1.1" fill="none"/>
<text transform="translate(80.29,938.00) rotate(-90)" font-size="14.5" text-anchor="end">TRBV10−1</text>
<rect x="80.48" y="902.69" width="4.65" height="11.51" fill="#EC2027"/>
<path d="M81.71 901.09h2.2M82.81 901.09v3.2M81.71 904.29h2.2" stroke="#000" stroke-width="1.1" fill="none"/>
<rect x="85.13" y="905.57" width="4.65" height="8.63" fill="#3953A4"/>
<path d="M86.36 903.97h2.2M87.46 903.97v3.2M86.36 907.17h2.2" stroke="#000" stroke-width="1.1" fill="none"/>
<text transform="translate(90.62,938.00) rotate(-90)" font-size="14.5" text-anchor="end">TRBV10−2</text>
<rect x="90.82" y="876.80" width="4.65" height="37.40" fill="#EC2027"/>
<path d="M92.04 875.20h2.2M93.14 875.20v3.2M92.04 878.40h2.2" stroke="#000" stroke-width="1.1" fill="none"/>
<rect x="95.47" y="902.69" width="4.65" height="11.51" fill="#3953A4"/>
<path d="M96.69 901.09h2.2M97.79 901.09v3.2M96.69 904.29h2.2" stroke="#000" stroke-width="1.1" fill="none"/>
<text transform="translate(100.96,938.00) rotate(-90)" font-size="14.5" text-anchor="end">TRBV10−3</text>
<rect x="101.15" y="902.69" width="4.65" height="11.51" fill="#EC2027"/>
<path d="M102.37 901.09h2.2M103.47 901.09v3.2M102.37 904.29h2.2" stroke="#000" stroke-width="1.1" fill="none"/>
<rect x="105.80" y="911.32" width="4.65" height="2.88" fill="#3953A4"/>
<path d="M107.02 909.72h2.2M108.12 909.72v3.2M107.02 912.92h2.2" stroke="#000" stroke-width="1.1" fill="none"/>
<text transform="translate(111.29,938.00) rotate(-90)" font-size="14.5" text-anchor="end">TRBV11−1</text>
<rect x="111.48" y="876.80" width="4.65" height="37.40" fill="#EC2027"/>
<path d="M112.71 875.20h2.2M113.81 875.20v3.2M112.71 878.40h2.2" stroke="#000" stroke-width="1.1" fill="none"/>
<rect x="116.13" y="842.28" width="4.65" height="71.92" fill="#3953A4"/>
<path d="M117.36 840.68h2.2M118.46 840.68v3.2M117.36 843.88h2.2" stroke="#000" stroke-width="1.1" fill="none"/>
<text transform="translate(121.62,938.00) rotate(-90)" font-size="14.5" text-anchor="end">TRBV11−2</text>
<rect x="121.82" y="902.69" width="4.65" height="11.51" fill="#EC2027"/>
<path d="M123.04 901.09h2.2M124.14 901.09v3.2M123.04 904.29h2.2" stroke="#000" stroke-width="1.1" fill="none"/>
<text transform="translate(131.96,938.00) rotate(-90)" font-size="14.5" text-anchor="end">TRBV11−3</text>
<rect x="132.15" y="865.29" width="4.65" height="48.91" fill="#EC2027"/>
<path d="M133.37 863.69h2.2M134.47 863.69v3.2M133.37 866.89h2.2" stroke="#000" stroke-width="1.1" fill="none"/>
<rect x="136.80" y="853.78" width="4.65" height="60.42" fill="#3953A4"/>
<path d="M138.02 852.18h2.2M139.12 852.18v3.2M138.02 855.38h2.2" stroke="#000" stroke-width="1.1" fill="none"/>
<text transform="translate(142.29,938.00) rotate(-90)" font-size="14.5" text-anchor="end">TRBV12−3</text>
<rect x="142.48" y="902.69" width="4.65" height="11.51" fill="#EC2027"/>
<path d="M143.71 901.09h2.2M144.81 901.09v3.2M143.71 904.29h2.2" stroke="#000" stroke-width="1.1" fill="none"/>
<text transform="translate(152.62,938.00) rotate(-90)" font-size="14.5" text-anchor="end">TRBV13</text>
<rect x="152.82" y="816.38" width="4.65" height="97.82" fill="#EC2027"/>
<path d="M154.04 814.78h2.2M155.14 814.78v3.2M154.04 817.98h2.2" stroke="#000" stroke-width="1.1" fill="none"/>
<rect x="157.47" y="773.23" width="4.65" height="140.97" fill="#3953A4"/>
<path d="M158.69 771.63h2.2M159.79 771.63v3.2M158.69 774.83h2.2" stroke="#000" stroke-width="1.1" fill="none"/>
<text transform="translate(162.96,938.00) rotate(-90)" font-size="14.5" text-anchor="end">TRBV14</text>
<rect x="163.15" y="839.40" width="4.65" height="74.80" fill="#EC2027"/>
<path d="M164.37 837.80h2.2M165.47 837.80v3.2M164.37 841.00h2.2" stroke="#000" stroke-width="1.1" fill="none"/>
<rect x="167.80" y="830.77" width="4.65" height="83.43" fill="#3953A4"/>
<path d="M169.02 829.17h2.2M170.12 829.17v3.2M169.02 832.37h2.2" stroke="#000" stroke-width="1.1" fill="none"/>
<text transform="translate(173.29,938.00) rotate(-90)" font-size="14.5" text-anchor="end">TRBV15</text>
<rect x="173.48" y="902.69" width="4.65" height="11.51" fill="#EC2027"/>
<path d="M174.71 901.09h2.2M175.81 901.09v3.2M174.71 904.29h2.2" stroke="#000" stroke-width="1.1" fill="none"/>
<text transform="translate(183.62,938.00) rotate(-90)" font-size="14.5" text-anchor="end">TRBV16</text>
<rect x="183.82" y="827.89" width="4.65" height="86.31" fill="#EC2027"/>
<path d="M185.04 826.29h2.2M186.14 826.29v3.2M185.04 829.49h2.2" stroke="#000" stroke-width="1.1" fill="none"/>
<rect x="188.47" y="902.69" width="4.65" height="11.51" fill="#3953A4"/>
<path d="M189.69 901.09h2.2M190.79 901.09v3.2M189.69 904.29h2.2" stroke="#000" stroke-width="1.1" fill="none"/>
<text transform="translate(193.96,938.00) rotate(-90)" font-size="14.5" text-anchor="end">TRBV18</text>
<rect x="194.15" y="666.78" width="4.65" height="247.42" fill="#EC2027"/>
<path d="M195.37 665.18h2.2M196.47 665.18v3.2M195.37 668.38h2.2" stroke="#000" stroke-width="1.1" fill="none"/>
<rect x="198.80" y="793.37" width="4.65" height="120.83" fill="#3953A4"/>
<path d="M200.02 791.77h2.2M201.12 791.77v3.2M200.02 794.97h2.2" stroke="#000" stroke-width="1.1" fill="none"/>
<text transform="translate(204.29,938.00) rotate(-90)" font-size="14.5" text-anchor="end">TRBV19</text>
<rect x="204.48" y="827.89" width="4.65" height="86.31" fill="#EC2027"/>
<path d="M205.71 826.29h2.2M206.81 826.29v3.2M205.71 829.49h2.2" stroke="#000" stroke-width="1.1" fill="none"/>
<rect x="209.13" y="905.57" width="4.65" height="8.63" fill="#3953A4"/>
<path d="M210.36 903.97h2.2M211.46 903.97v3.2M210.36 907.17h2.2" stroke="#000" stroke-width="1.1" fill="none"/>
<text transform="translate(214.62,938.00) rotate(-90)" font-size="14.5" text-anchor="end">TRBV2</text>
<rect x="214.82" y="580.47" width="4.65" height="333.73" fill="#EC2027"/>
<path d="M216.04 578.87h2.2M217.14 578.87v3.2M216.04 582.07h2.2" stroke="#000" stroke-width="1.1" fill="none"/>
<rect x="219.47" y="879.68" width="4.65" height="34.52" fill="#3953A4"/>
<path d="M220.69 878.08h2.2M221.79 878.08v3.2M220.69 881.28h2.2" stroke="#000" stroke-width="1.1" fill="none"/>
<text transform="translate(224.96,938.00) rotate(-90)" font-size="14.5" text-anchor="end">TRBV20−1</text>
<rect x="225.15" y="911.32" width="4.65" height="2.88" fill="#3953A4"/>
<path d="M226.37 909.72h2.2M227.47 909.72v3.2M226.37 912.92h2.2" stroke="#000" stroke-width="1.1" fill="none"/>
<text transform="translate(235.29,938.00) rotate(-90)" font-size="14.5" text-anchor="end">TRBV21−1</text>
<rect x="235.48" y="911.32" width="4.65" height="2.88" fill="#3953A4"/>
<path d="M236.71 909.72h2.2M237.81 909.72v3.2M236.71 912.92h2.2" stroke="#000" stroke-width="1.1" fill="none"/>
<text transform="translate(245.62,938.00) rotate(-90)" font-size="14.5" text-anchor="end">TRBV23−1</text>
<rect x="245.82" y="902.69" width="4.65" height="11.51" fill="#EC2027"/>
<path d="M247.04 901.09h2.2M248.14 901.09v3.2M247.04 904.29h2.2" stroke="#000" stroke-width="1.1" fill="none"/>
<rect x="250.47" y="724.32" width="4.65" height="189.88" fill="#3953A4"/>
<path d="M251.69 722.72h2.2M252.79 722.72v3.2M251.69 725.92h2.2" stroke="#000" stroke-width="1.1" fill="none"/>
<text transform="translate(255.96,938.00) rotate(-90)" font-size="14.5" text-anchor="end">TRBV24−1</text>
<rect x="256.15" y="879.68" width="4.65" height="34.52" fill="#EC2027"/>
<path d="M257.37 878.08h2.2M258.47 878.08v3.2M257.37 881.28h2.2" stroke="#000" stroke-width="1.1" fill="none"/>
<rect x="260.80" y="793.37" width="4.65" height="120.83" fill="#3953A4"/>
<path d="M262.02 791.77h2.2M263.12 791.77v3.2M262.02 794.97h2.2" stroke="#000" stroke-width="1.1" fill="none"/>
<text transform="translate(266.29,938.00) rotate(-90)" font-size="14.5" text-anchor="end">TRBV25−1</text>
<rect x="266.48" y="816.38" width="4.65" height="97.82" fill="#EC2027"/>
<path d="M267.71 814.78h2.2M268.81 814.78v3.2M267.71 817.98h2.2" stroke="#000" stroke-width="1.1" fill="none"/>
<rect x="271.13" y="839.40" width="4.65" height="74.80" fill="#3953A4"/>
<path d="M272.36 837.80h2.2M273.46 837.80v3.2M272.36 841.00h2.2" stroke="#000" stroke-width="1.1" fill="none"/>
<text transform="translate(276.62,938.00) rotate(-90)" font-size="14.5" text-anchor="end">TRBV27</text>
<rect x="276.82" y="865.29" width="4.65" height="48.91" fill="#EC2027"/>
<path d="M278.04 863.69h2.2M279.14 863.69v3.2M278.04 866.89h2.2" stroke="#000" stroke-width="1.1" fill="none"/>
<rect x="281.47" y="902.69" width="4.65" height="11.51" fill="#3953A4"/>
<path d="M282.69 901.09h2.2M283.79 901.09v3.2M282.69 904.29h2.2" stroke="#000" stroke-width="1.1" fill="none"/>
<text transform="translate(286.96,938.00) rotate(-90)" font-size="14.5" text-anchor="end">TRBV28</text>
<rect x="287.15" y="827.89" width="4.65" height="86.31" fill="#EC2027"/>
<path d="M288.37 826.29h2.2M289.47 826.29v3.2M288.37 829.49h2.2" stroke="#000" stroke-width="1.1" fill="none"/>
<text transform="translate(297.29,938.00) rotate(-90)" font-size="14.5" text-anchor="end">TRBV29−1</text>
<rect x="297.48" y="891.18" width="4.65" height="23.02" fill="#EC2027"/>
<path d="M298.71 889.58h2.2M299.81 889.58v3.2M298.71 892.78h2.2" stroke="#000" stroke-width="1.1" fill="none"/>
<rect x="302.13" y="761.72" width="4.65" height="152.48" fill="#3953A4"/>
<path d="M303.36 760.12h2.2M304.46 760.12v3.2M303.36 763.32h2.2" stroke="#000" stroke-width="1.1" fill="none"/>
<text transform="translate(307.62,938.00) rotate(-90)" font-size="14.5" text-anchor="end">TRBV3−1</text>
<rect x="307.82" y="790.49" width="4.65" height="123.71" fill="#EC2027"/>
<path d="M309.04 788.89h2.2M310.14 788.89v3.2M309.04 792.09h2.2" stroke="#000" stroke-width="1.1" fill="none"/>
<rect x="312.47" y="850.91" width="4.65" height="63.29" fill="#3953A4"/>
<path d="M313.69 849.31h2.2M314.79 849.31v3.2M313.69 852.51h2.2" stroke="#000" stroke-width="1.1" fill="none"/>
<text transform="translate(317.96,938.00) rotate(-90)" font-size="14.5" text-anchor="end">TRBV30</text>
<rect x="318.15" y="790.49" width="4.65" height="123.71" fill="#EC2027"/>
<path d="M319.37 788.89h2.2M320.47 788.89v3.2M319.37 792.09h2.2" stroke="#000" stroke-width="1.1" fill="none"/>
<rect x="322.80" y="894.06" width="4.65" height="20.14" fill="#3953A4"/>
<path d="M324.02 892.46h2.2M325.12 892.46v3.2M324.02 895.66h2.2" stroke="#000" stroke-width="1.1" fill="none"/>
<text transform="translate(328.29,938.00) rotate(-90)" font-size="14.5" text-anchor="end">TRBV4−1</text>
<rect x="328.48" y="908.45" width="4.65" height="5.75" fill="#3953A4"/>
<path d="M329.71 906.85h2.2M330.81 906.85v3.2M329.71 910.05h2.2" stroke="#000" stroke-width="1.1" fill="none"/>
<text transform="translate(338.62,938.00) rotate(-90)" font-size="14.5" text-anchor="end">TRBV4−2</text>
<rect x="338.82" y="911.32" width="4.65" height="2.88" fill="#3953A4"/>
<path d="M340.04 909.72h2.2M341.14 909.72v3.2M340.04 912.92h2.2" stroke="#000" stroke-width="1.1" fill="none"/>
<text transform="translate(348.96,938.00) rotate(-90)" font-size="14.5" text-anchor="end">TRBV4−3</text>
<rect x="349.15" y="655.27" width="4.65" height="258.93" fill="#EC2027"/>
<path d="M350.37 653.67h2.2M351.47 653.67v3.2M350.37 656.87h2.2" stroke="#000" stroke-width="1.1" fill="none"/>
<rect x="353.80" y="689.79" width="4.65" height="224.41" fill="#3953A4"/>
<path d="M355.02 688.19h2.2M356.12 688.19v3.2M355.02 691.39h2.2" stroke="#000" stroke-width="1.1" fill="none"/>
<text transform="translate(359.29,938.00) rotate(-90)" font-size="14.5" text-anchor="end">TRBV5−1</text>
<rect x="359.48" y="911.32" width="4.65" height="2.88" fill="#3953A4"/>
<path d="M360.71 909.72h2.2M361.81 909.72v3.2M360.71 912.92h2.2" stroke="#000" stroke-width="1.1" fill="none"/>
<text transform="translate(369.62,938.00) rotate(-90)" font-size="14.5" text-anchor="end">TRBV5−3</text>
<rect x="369.82" y="902.69" width="4.65" height="11.51" fill="#EC2027"/>
<path d="M371.04 901.09h2.2M372.14 901.09v3.2M371.04 904.29h2.2" stroke="#000" stroke-width="1.1" fill="none"/>
<rect x="374.47" y="839.40" width="4.65" height="74.80" fill="#3953A4"/>
<path d="M375.69 837.80h2.2M376.79 837.80v3.2M375.69 841.00h2.2" stroke="#000" stroke-width="1.1" fill="none"/>
<text transform="translate(379.96,938.00) rotate(-90)" font-size="14.5" text-anchor="end">TRBV5−5</text>
<rect x="380.15" y="891.18" width="4.65" height="23.02" fill="#EC2027"/>
<path d="M381.37 889.58h2.2M382.47 889.58v3.2M381.37 892.78h2.2" stroke="#000" stroke-width="1.1" fill="none"/>
<rect x="384.80" y="908.45" width="4.65" height="5.75" fill="#3953A4"/>
<path d="M386.02 906.85h2.2M387.12 906.85v3.2M386.02 910.05h2.2" stroke="#000" stroke-width="1.1" fill="none"/>
<text transform="translate(390.29,938.00) rotate(-90)" font-size="14.5" text-anchor="end">TRBV5−7</text>
<rect x="390.48" y="902.69" width="4.65" height="11.51" fill="#EC2027"/>
<path d="M391.71 901.09h2.2M392.81 901.09v3.2M391.71 904.29h2.2" stroke="#000" stroke-width="1.1" fill="none"/>
<rect x="395.13" y="908.45" width="4.65" height="5.75" fill="#3953A4"/>
<path d="M396.36 906.85h2.2M397.46 906.85v3.2M396.36 910.05h2.2" stroke="#000" stroke-width="1.1" fill="none"/>
<text transform="translate(400.62,938.00) rotate(-90)" font-size="14.5" text-anchor="end">TRBV5−8</text>
<rect x="400.82" y="778.98" width="4.65" height="135.22" fill="#EC2027"/>
<path d="M402.04 777.38h2.2M403.14 777.38v3.2M402.04 780.58h2.2" stroke="#000" stroke-width="1.1" fill="none"/>
<rect x="405.47" y="712.81" width="4.65" height="201.39" fill="#3953A4"/>
<path d="M406.69 711.21h2.2M407.79 711.21v3.2M406.69 714.41h2.2" stroke="#000" stroke-width="1.1" fill="none"/>
<text transform="translate(410.96,938.00) rotate(-90)" font-size="14.5" text-anchor="end">TRBV6−1</text>
<rect x="411.15" y="730.07" width="4.65" height="184.13" fill="#EC2027"/>
<path d="M412.37 728.47h2.2M413.47 728.47v3.2M412.37 731.67h2.2" stroke="#000" stroke-width="1.1" fill="none"/>
<rect x="415.80" y="712.81" width="4.65" height="201.39" fill="#3953A4"/>
<path d="M417.02 711.21h2.2M418.12 711.21v3.2M417.02 714.41h2.2" stroke="#000" stroke-width="1.1" fill="none"/>
<text transform="translate(421.29,938.00) rotate(-90)" font-size="14.5" text-anchor="end">TRBV6−3</text>
<rect x="421.48" y="902.69" width="4.65" height="11.51" fill="#EC2027"/>
<path d="M422.71 901.09h2.2M423.81 901.09v3.2M422.71 904.29h2.2" stroke="#000" stroke-width="1.1" fill="none"/>
<rect x="426.13" y="879.68" width="4.65" height="34.52" fill="#3953A4"/>
<path d="M427.36 878.08h2.2M428.46 878.08v3.2M427.36 881.28h2.2" stroke="#000" stroke-width="1.1" fill="none"/>
<text transform="translate(431.62,938.00) rotate(-90)" font-size="14.5" text-anchor="end">TRBV6−4</text>
<rect x="431.82" y="643.76" width="4.65" height="270.44" fill="#EC2027"/>
<path d="M433.04 642.16h2.2M434.14 642.16v3.2M433.04 645.36h2.2" stroke="#000" stroke-width="1.1" fill="none"/>
<rect x="436.47" y="781.86" width="4.65" height="132.34" fill="#3953A4"/>
<path d="M437.69 780.26h2.2M438.79 780.26v3.2M437.69 783.46h2.2" stroke="#000" stroke-width="1.1" fill="none"/>
<text transform="translate(441.96,938.00) rotate(-90)" font-size="14.5" text-anchor="end">TRBV6−5</text>
<rect x="442.15" y="902.69" width="4.65" height="11.51" fill="#EC2027"/>
<path d="M443.37 901.09h2.2M444.47 901.09v3.2M443.37 904.29h2.2" stroke="#000" stroke-width="1.1" fill="none"/>
<rect x="446.80" y="888.31" width="4.65" height="25.89" fill="#3953A4"/>
<path d="M448.02 886.71h2.2M449.12 886.71v3.2M448.02 889.91h2.2" stroke="#000" stroke-width="1.1" fill="none"/>
<text transform="translate(452.29,938.00) rotate(-90)" font-size="14.5" text-anchor="end">TRBV6−6</text>
<rect x="452.48" y="911.32" width="4.65" height="2.88" fill="#3953A4"/>
<path d="M453.71 909.72h2.2M454.81 909.72v3.2M453.71 912.92h2.2" stroke="#000" stroke-width="1.1" fill="none"/>
<text transform="translate(462.62,938.00) rotate(-90)" font-size="14.5" text-anchor="end">TRBV7−1</text>
<rect x="462.82" y="868.17" width="4.65" height="46.03" fill="#3953A4"/>
<path d="M464.04 866.57h2.2M465.14 866.57v3.2M464.04 869.77h2.2" stroke="#000" stroke-width="1.1" fill="none"/>
<text transform="translate(472.96,938.00) rotate(-90)" font-size="14.5" text-anchor="end">TRBV7−2</text>
<rect x="473.15" y="862.41" width="4.65" height="51.79" fill="#3953A4"/>
<path d="M474.37 860.81h2.2M475.47 860.81v3.2M474.37 864.01h2.2" stroke="#000" stroke-width="1.1" fill="none"/>
<text transform="translate(483.29,938.00) rotate(-90)" font-size="14.5" text-anchor="end">TRBV7−3</text>
<rect x="483.48" y="911.32" width="4.65" height="2.88" fill="#3953A4"/>
<path d="M484.71 909.72h2.2M485.81 909.72v3.2M484.71 912.92h2.2" stroke="#000" stroke-width="1.1" fill="none"/>
<text transform="translate(493.62,938.00) rotate(-90)" font-size="14.5" text-anchor="end">TRBV7−4</text>
<rect x="493.82" y="908.45" width="4.65" height="5.75" fill="#3953A4"/>
<path d="M495.04 906.85h2.2M496.14 906.85v3.2M495.04 910.05h2.2" stroke="#000" stroke-width="1.1" fill="none"/>
<text transform="translate(503.96,938.00) rotate(-90)" font-size="14.5" text-anchor="end">TRBV7−6</text>
<rect x="504.15" y="911.32" width="4.65" height="2.88" fill="#3953A4"/>
<path d="M505.37 909.72h2.2M506.47 909.72v3.2M505.37 912.92h2.2" stroke="#000" stroke-width="1.1" fill="none"/>
<text transform="translate(514.29,938.00) rotate(-90)" font-size="14.5" text-anchor="end">TRBV7−7</text>
<rect x="514.48" y="853.78" width="4.65" height="60.42" fill="#EC2027"/>
<path d="M515.71 852.18h2.2M516.81 852.18v3.2M515.71 855.38h2.2" stroke="#000" stroke-width="1.1" fill="none"/>
<rect x="519.13" y="770.35" width="4.65" height="143.85" fill="#3953A4"/>
<path d="M520.36 768.75h2.2M521.46 768.75v3.2M520.36 771.95h2.2" stroke="#000" stroke-width="1.1" fill="none"/>
<text transform="translate(524.62,938.00) rotate(-90)" font-size="14.5" text-anchor="end">TRBV7−8</text>
<rect x="524.82" y="853.78" width="4.65" height="60.42" fill="#EC2027"/>
<path d="M526.04 852.18h2.2M527.14 852.18v3.2M526.04 855.38h2.2" stroke="#000" stroke-width="1.1" fill="none"/>
<rect x="529.47" y="646.64" width="4.65" height="267.56" fill="#3953A4"/>
<path d="M530.69 645.04h2.2M531.79 645.04v3.2M530.69 648.24h2.2" stroke="#000" stroke-width="1.1" fill="none"/>
<text transform="translate(534.96,938.00) rotate(-90)" font-size="14.5" text-anchor="end">TRBV7−9</text>
<rect x="535.15" y="755.97" width="4.65" height="158.24" fill="#EC2027"/>
<path d="M536.38 754.37h2.2M537.48 754.37v3.2M536.38 757.57h2.2" stroke="#000" stroke-width="1.1" fill="none"/>
<rect x="539.80" y="712.81" width="4.65" height="201.39" fill="#3953A4"/>
<path d="M541.02 711.21h2.2M542.12 711.21v3.2M541.02 714.41h2.2" stroke="#000" stroke-width="1.1" fill="none"/>
<text transform="translate(545.29,938.00) rotate(-90)" font-size="14.5" text-anchor="end">TRBV9</text>
<path d="M68.60 565.40V931.60M67.00 930.00H546.00" stroke="#000" stroke-width="3.3" fill="none"/>
<path d="M64.40 914.20H68.6" stroke="#333" stroke-width="2.4"/>
<text x="59.8" y="919.7" font-size="18.2" text-anchor="end">0.00</text>
<path d="M64.40 827.89H68.6" stroke="#333" stroke-width="2.4"/>
<text x="59.8" y="833.4" font-size="18.2" text-anchor="end">0.03</text>
<path d="M64.40 741.58H68.6" stroke="#333" stroke-width="2.4"/>
<text x="59.8" y="747.1" font-size="18.2" text-anchor="end">0.06</text>
<path d="M64.40 655.27H68.6" stroke="#333" stroke-width="2.4"/>
<text x="59.8" y="660.8" font-size="18.2" text-anchor="end">0.09</text>
<path d="M64.40 568.96H68.6" stroke="#333" stroke-width="2.4"/>
<text x="59.8" y="574.5" font-size="18.2" text-anchor="end">0.12</text>
<text x="172.5" y="557.1" font-size="31">S</text>
<text x="195.3" y="567.7" font-size="17.5">166-180</text>
<text x="267.8" y="557.1" font-size="24.9">TRBV gene usage</text>
<text transform="translate(15.90,783.50) rotate(-90)" font-size="21.6">Proportion</text>
<rect x="616.53" y="906.42" width="6.39" height="7.78" fill="#3953A4"/>
<path d="M618.62 904.82h2.2M619.72 904.82v3.2M618.62 908.02h2.2" stroke="#000" stroke-width="1.1" fill="none"/>
<text transform="translate(628.41,938.00) rotate(-90)" font-size="14.5" text-anchor="end">TRBV10−1</text>
<rect x="630.73" y="906.42" width="6.39" height="7.78" fill="#EC2027"/>
<path d="M632.82 904.82h2.2M633.92 904.82v3.2M632.82 908.02h2.2" stroke="#000" stroke-width="1.1" fill="none"/>
<text transform="translate(642.61,938.00) rotate(-90)" font-size="14.5" text-anchor="end">TRBV10−2</text>
<rect x="644.93" y="898.65" width="6.39" height="15.55" fill="#EC2027"/>
<path d="M647.02 897.05h2.2M648.12 897.05v3.2M647.02 900.25h2.2" stroke="#000" stroke-width="1.1" fill="none"/>
<rect x="651.32" y="906.42" width="6.39" height="7.78" fill="#3953A4"/>
<path d="M653.41 904.82h2.2M654.51 904.82v3.2M653.41 908.02h2.2" stroke="#000" stroke-width="1.1" fill="none"/>
<text transform="translate(656.81,938.00) rotate(-90)" font-size="14.5" text-anchor="end">TRBV10−3</text>
<rect x="659.13" y="868.84" width="6.39" height="45.36" fill="#3953A4"/>
<path d="M661.22 867.24h2.2M662.32 867.24v3.2M661.22 870.44h2.2" stroke="#000" stroke-width="1.1" fill="none"/>
<text transform="translate(671.01,938.00) rotate(-90)" font-size="14.5" text-anchor="end">TRBV11−2</text>
<rect x="673.33" y="906.42" width="6.39" height="7.78" fill="#EC2027"/>
<path d="M675.42 904.82h2.2M676.52 904.82v3.2M675.42 908.02h2.2" stroke="#000" stroke-width="1.1" fill="none"/>
<rect x="679.71" y="906.42" width="6.39" height="7.78" fill="#3953A4"/>
<path d="M681.81 904.82h2.2M682.91 904.82v3.2M681.81 908.02h2.2" stroke="#000" stroke-width="1.1" fill="none"/>
<text transform="translate(685.21,938.00) rotate(-90)" font-size="14.5" text-anchor="end">TRBV11−3</text>
<rect x="687.52" y="898.65" width="6.39" height="15.55" fill="#EC2027"/>
<path d="M689.62 897.05h2.2M690.72 897.05v3.2M689.62 900.25h2.2" stroke="#000" stroke-width="1.1" fill="none"/>
<rect x="693.91" y="897.35" width="6.39" height="16.85" fill="#3953A4"/>
<path d="M696.01 895.75h2.2M697.11 895.75v3.2M696.01 898.95h2.2" stroke="#000" stroke-width="1.1" fill="none"/>
<text transform="translate(699.40,938.00) rotate(-90)" font-size="14.5" text-anchor="end">TRBV12−3</text>
<rect x="701.72" y="906.42" width="6.39" height="7.78" fill="#3953A4"/>
<path d="M703.82 904.82h2.2M704.92 904.82v3.2M703.82 908.02h2.2" stroke="#000" stroke-width="1.1" fill="none"/>
<text transform="translate(713.60,938.00) rotate(-90)" font-size="14.5" text-anchor="end">TRBV18</text>
<rect x="715.92" y="849.40" width="6.39" height="64.80" fill="#EC2027"/>
<path d="M718.02 847.80h2.2M719.12 847.80v3.2M718.02 851.00h2.2" stroke="#000" stroke-width="1.1" fill="none"/>
<rect x="722.31" y="886.98" width="6.39" height="27.22" fill="#3953A4"/>
<path d="M724.41 885.38h2.2M725.51 885.38v3.2M724.41 888.58h2.2" stroke="#000" stroke-width="1.1" fill="none"/>
<text transform="translate(727.80,938.00) rotate(-90)" font-size="14.5" text-anchor="end">TRBV19</text>
<rect x="730.12" y="881.80" width="6.39" height="32.40" fill="#EC2027"/>
<path d="M732.22 880.20h2.2M733.32 880.20v3.2M732.22 883.40h2.2" stroke="#000" stroke-width="1.1" fill="none"/>
<rect x="736.51" y="906.42" width="6.39" height="7.78" fill="#3953A4"/>
<path d="M738.60 904.82h2.2M739.70 904.82v3.2M738.60 908.02h2.2" stroke="#000" stroke-width="1.1" fill="none"/>
<text transform="translate(742.00,938.00) rotate(-90)" font-size="14.5" text-anchor="end">TRBV2</text>
<rect x="744.32" y="741.83" width="6.39" height="172.37" fill="#EC2027"/>
<path d="M746.41 740.23h2.2M747.51 740.23v3.2M746.41 743.43h2.2" stroke="#000" stroke-width="1.1" fill="none"/>
<rect x="750.71" y="582.42" width="6.39" height="331.78" fill="#3953A4"/>
<path d="M752.80 580.82h2.2M753.90 580.82v3.2M752.80 584.02h2.2" stroke="#000" stroke-width="1.1" fill="none"/>
<text transform="translate(756.20,938.00) rotate(-90)" font-size="14.5" text-anchor="end">TRBV20−1</text>
<rect x="758.52" y="906.42" width="6.39" height="7.78" fill="#EC2027"/>
<path d="M760.61 904.82h2.2M761.71 904.82v3.2M760.61 908.02h2.2" stroke="#000" stroke-width="1.1" fill="none"/>
<text transform="translate(770.40,938.00) rotate(-90)" font-size="14.5" text-anchor="end">TRBV23−1</text>
<rect x="772.72" y="627.78" width="6.39" height="286.42" fill="#EC2027"/>
<path d="M774.81 626.18h2.2M775.91 626.18v3.2M774.81 629.38h2.2" stroke="#000" stroke-width="1.1" fill="none"/>
<rect x="779.11" y="761.27" width="6.39" height="152.93" fill="#3953A4"/>
<path d="M781.20 759.67h2.2M782.30 759.67v3.2M781.20 762.87h2.2" stroke="#000" stroke-width="1.1" fill="none"/>
<text transform="translate(784.60,938.00) rotate(-90)" font-size="14.5" text-anchor="end">TRBV24−1</text>
<rect x="786.92" y="898.65" width="6.39" height="15.55" fill="#EC2027"/>
<path d="M789.01 897.05h2.2M790.11 897.05v3.2M789.01 900.25h2.2" stroke="#000" stroke-width="1.1" fill="none"/>
<rect x="793.31" y="906.42" width="6.39" height="7.78" fill="#3953A4"/>
<path d="M795.40 904.82h2.2M796.50 904.82v3.2M795.40 908.02h2.2" stroke="#000" stroke-width="1.1" fill="none"/>
<text transform="translate(798.80,938.00) rotate(-90)" font-size="14.5" text-anchor="end">TRBV25−1</text>
<rect x="801.11" y="906.42" width="6.39" height="7.78" fill="#EC2027"/>
<path d="M803.21 904.82h2.2M804.31 904.82v3.2M803.21 908.02h2.2" stroke="#000" stroke-width="1.1" fill="none"/>
<text transform="translate(813.00,938.00) rotate(-90)" font-size="14.5" text-anchor="end">TRBV27</text>
<rect x="815.31" y="889.58" width="6.39" height="24.62" fill="#EC2027"/>
<path d="M817.41 887.98h2.2M818.51 887.98v3.2M817.41 891.18h2.2" stroke="#000" stroke-width="1.1" fill="none"/>
<text transform="translate(827.19,938.00) rotate(-90)" font-size="14.5" text-anchor="end">TRBV28</text>
<rect x="829.51" y="906.42" width="6.39" height="7.78" fill="#EC2027"/>
<path d="M831.61 904.82h2.2M832.71 904.82v3.2M831.61 908.02h2.2" stroke="#000" stroke-width="1.1" fill="none"/>
<rect x="835.90" y="897.35" width="6.39" height="16.85" fill="#3953A4"/>
<path d="M838.00 895.75h2.2M839.10 895.75v3.2M838.00 898.95h2.2" stroke="#000" stroke-width="1.1" fill="none"/>
<text transform="translate(841.39,938.00) rotate(-90)" font-size="14.5" text-anchor="end">TRBV29−1</text>
<rect x="843.71" y="906.42" width="6.39" height="7.78" fill="#EC2027"/>
<path d="M845.81 904.82h2.2M846.91 904.82v3.2M845.81 908.02h2.2" stroke="#000" stroke-width="1.1" fill="none"/>
<text transform="translate(855.59,938.00) rotate(-90)" font-size="14.5" text-anchor="end">TRBV3−1</text>
<rect x="857.91" y="906.42" width="6.39" height="7.78" fill="#EC2027"/>
<path d="M860.00 904.82h2.2M861.10 904.82v3.2M860.00 908.02h2.2" stroke="#000" stroke-width="1.1" fill="none"/>
<text transform="translate(869.79,938.00) rotate(-90)" font-size="14.5" text-anchor="end">TRBV30</text>
<rect x="872.11" y="881.80" width="6.39" height="32.40" fill="#EC2027"/>
<path d="M874.20 880.20h2.2M875.30 880.20v3.2M874.20 883.40h2.2" stroke="#000" stroke-width="1.1" fill="none"/>
<rect x="878.50" y="897.35" width="6.39" height="16.85" fill="#3953A4"/>
<path d="M880.59 895.75h2.2M881.69 895.75v3.2M880.59 898.95h2.2" stroke="#000" stroke-width="1.1" fill="none"/>
<text transform="translate(883.99,938.00) rotate(-90)" font-size="14.5" text-anchor="end">TRBV4−1</text>
<rect x="886.31" y="832.55" width="6.39" height="81.65" fill="#EC2027"/>
<path d="M888.40 830.95h2.2M889.50 830.95v3.2M888.40 834.15h2.2" stroke="#000" stroke-width="1.1" fill="none"/>
<rect x="892.70" y="824.78" width="6.39" height="89.42" fill="#3953A4"/>
<path d="M894.79 823.18h2.2M895.89 823.18v3.2M894.79 826.38h2.2" stroke="#000" stroke-width="1.1" fill="none"/>
<text transform="translate(898.19,938.00) rotate(-90)" font-size="14.5" text-anchor="end">TRBV4−2</text>
<rect x="900.51" y="898.65" width="6.39" height="15.55" fill="#EC2027"/>
<path d="M902.60 897.05h2.2M903.70 897.05v3.2M902.60 900.25h2.2" stroke="#000" stroke-width="1.1" fill="none"/>
<rect x="906.90" y="842.92" width="6.39" height="71.28" fill="#3953A4"/>
<path d="M908.99 841.32h2.2M910.09 841.32v3.2M908.99 844.52h2.2" stroke="#000" stroke-width="1.1" fill="none"/>
<text transform="translate(912.39,938.00) rotate(-90)" font-size="14.5" text-anchor="end">TRBV4−3</text>
<rect x="914.71" y="889.58" width="6.39" height="24.62" fill="#EC2027"/>
<path d="M916.80 887.98h2.2M917.90 887.98v3.2M916.80 891.18h2.2" stroke="#000" stroke-width="1.1" fill="none"/>
<rect x="921.09" y="868.84" width="6.39" height="45.36" fill="#3953A4"/>
<path d="M923.19 867.24h2.2M924.29 867.24v3.2M923.19 870.44h2.2" stroke="#000" stroke-width="1.1" fill="none"/>
<text transform="translate(926.59,938.00) rotate(-90)" font-size="14.5" text-anchor="end">TRBV5−1</text>
<rect x="928.90" y="906.42" width="6.39" height="7.78" fill="#EC2027"/>
<path d="M931.00 904.82h2.2M932.10 904.82v3.2M931.00 908.02h2.2" stroke="#000" stroke-width="1.1" fill="none"/>
<text transform="translate(940.78,938.00) rotate(-90)" font-size="14.5" text-anchor="end">TRBV5−4</text>
<rect x="943.10" y="906.42" width="6.39" height="7.78" fill="#EC2027"/>
<path d="M945.20 904.82h2.2M946.30 904.82v3.2M945.20 908.02h2.2" stroke="#000" stroke-width="1.1" fill="none"/>
<text transform="translate(954.98,938.00) rotate(-90)" font-size="14.5" text-anchor="end">TRBV5−7</text>
<rect x="957.30" y="677.03" width="6.39" height="237.17" fill="#EC2027"/>
<path d="M959.40 675.43h2.2M960.50 675.43v3.2M959.40 678.63h2.2" stroke="#000" stroke-width="1.1" fill="none"/>
<rect x="963.69" y="671.85" width="6.39" height="242.35" fill="#3953A4"/>
<path d="M965.79 670.25h2.2M966.89 670.25v3.2M965.79 673.45h2.2" stroke="#000" stroke-width="1.1" fill="none"/>
<text transform="translate(969.18,938.00) rotate(-90)" font-size="14.5" text-anchor="end">TRBV6−1</text>
<rect x="971.50" y="898.65" width="6.39" height="15.55" fill="#EC2027"/>
<path d="M973.60 897.05h2.2M974.70 897.05v3.2M973.60 900.25h2.2" stroke="#000" stroke-width="1.1" fill="none"/>
<text transform="translate(983.38,938.00) rotate(-90)" font-size="14.5" text-anchor="end">TRBV6−3</text>
<rect x="985.70" y="881.80" width="6.39" height="32.40" fill="#EC2027"/>
<path d="M987.79 880.20h2.2M988.89 880.20v3.2M987.79 883.40h2.2" stroke="#000" stroke-width="1.1" fill="none"/>
<rect x="992.09" y="906.42" width="6.39" height="7.78" fill="#3953A4"/>
<path d="M994.18 904.82h2.2M995.28 904.82v3.2M994.18 908.02h2.2" stroke="#000" stroke-width="1.1" fill="none"/>
<text transform="translate(997.58,938.00) rotate(-90)" font-size="14.5" text-anchor="end">TRBV6−5</text>
<rect x="999.90" y="906.42" width="6.39" height="7.78" fill="#EC2027"/>
<path d="M1001.99 904.82h2.2M1003.09 904.82v3.2M1001.99 908.02h2.2" stroke="#000" stroke-width="1.1" fill="none"/>
<text transform="translate(1011.78,938.00) rotate(-90)" font-size="14.5" text-anchor="end">TRBV7−1</text>
<rect x="1014.10" y="906.42" width="6.39" height="7.78" fill="#3953A4"/>
<path d="M1016.19 904.82h2.2M1017.29 904.82v3.2M1016.19 908.02h2.2" stroke="#000" stroke-width="1.1" fill="none"/>
<text transform="translate(1025.98,938.00) rotate(-90)" font-size="14.5" text-anchor="end">TRBV7−2</text>
<rect x="1028.30" y="898.65" width="6.39" height="15.55" fill="#EC2027"/>
<path d="M1030.39 897.05h2.2M1031.49 897.05v3.2M1030.39 900.25h2.2" stroke="#000" stroke-width="1.1" fill="none"/>
<text transform="translate(1040.18,938.00) rotate(-90)" font-size="14.5" text-anchor="end">TRBV7−3</text>
<rect x="1042.49" y="906.42" width="6.39" height="7.78" fill="#EC2027"/>
<path d="M1044.59 904.82h2.2M1045.69 904.82v3.2M1044.59 908.02h2.2" stroke="#000" stroke-width="1.1" fill="none"/>
<text transform="translate(1054.38,938.00) rotate(-90)" font-size="14.5" text-anchor="end">TRBV7−6</text>
<rect x="1056.69" y="857.18" width="6.39" height="57.02" fill="#EC2027"/>
<path d="M1058.79 855.58h2.2M1059.89 855.58v3.2M1058.79 858.78h2.2" stroke="#000" stroke-width="1.1" fill="none"/>
<rect x="1063.08" y="824.78" width="6.39" height="89.42" fill="#3953A4"/>
<path d="M1065.18 823.18h2.2M1066.28 823.18v3.2M1065.18 826.38h2.2" stroke="#000" stroke-width="1.1" fill="none"/>
<text transform="translate(1068.57,938.00) rotate(-90)" font-size="14.5" text-anchor="end">TRBV7−8</text>
<rect x="1070.89" y="889.58" width="6.39" height="24.62" fill="#EC2027"/>
<path d="M1072.99 887.98h2.2M1074.09 887.98v3.2M1072.99 891.18h2.2" stroke="#000" stroke-width="1.1" fill="none"/>
<rect x="1077.28" y="842.92" width="6.39" height="71.28" fill="#3953A4"/>
<path d="M1079.38 841.32h2.2M1080.48 841.32v3.2M1079.38 844.52h2.2" stroke="#000" stroke-width="1.1" fill="none"/>
<text transform="translate(1082.77,938.00) rotate(-90)" font-size="14.5" text-anchor="end">TRBV7−9</text>
<rect x="1085.09" y="881.80" width="6.39" height="32.40" fill="#EC2027"/>
<path d="M1087.19 880.20h2.2M1088.29 880.20v3.2M1087.19 883.40h2.2" stroke="#000" stroke-width="1.1" fill="none"/>
<text transform="translate(1096.97,938.00) rotate(-90)" font-size="14.5" text-anchor="end">TRBV9</text>
<path d="M614.40 565.40V931.60M612.80 930.00H1100.00" stroke="#000" stroke-width="3.3" fill="none"/>
<path d="M610.20 914.20H614.4" stroke="#333" stroke-width="2.4"/>
<text x="605.6" y="919.7" font-size="18.2" text-anchor="end">0.0</text>
<path d="M610.20 784.60H614.4" stroke="#333" stroke-width="2.4"/>
<text x="605.6" y="788.5" font-size="13.649999999999999" text-anchor="end">0.1</text>
<path d="M610.20 655.00H614.4" stroke="#333" stroke-width="2.4"/>
<text x="605.6" y="660.5" font-size="18.2" text-anchor="end">0.2</text>
<text x="699.9" y="556.7" font-size="31">S</text>
<text x="719.9" y="566.8" font-size="17.5">751-765</text>
<text x="795.6" y="556.7" font-size="24.9">TRBV gene usage</text>
<text transform="translate(574.90,783.50) rotate(-90)" font-size="21.6">Proportion</text>
<rect x="1165.33" y="906.18" width="6.08" height="8.12" fill="#EC2027"/>
<path d="M1167.27 904.58h2.2M1168.37 904.58v3.2M1167.27 907.78h2.2" stroke="#000" stroke-width="1.1" fill="none"/>
<text transform="translate(1176.90,938.00) rotate(-90)" font-size="14.5" text-anchor="end">TRBV10−1</text>
<rect x="1178.85" y="906.18" width="6.08" height="8.12" fill="#EC2027"/>
<path d="M1180.79 904.58h2.2M1181.89 904.58v3.2M1180.79 907.78h2.2" stroke="#000" stroke-width="1.1" fill="none"/>
<rect x="1184.93" y="906.18" width="6.08" height="8.12" fill="#3953A4"/>
<path d="M1186.87 904.58h2.2M1187.97 904.58v3.2M1186.87 907.78h2.2" stroke="#000" stroke-width="1.1" fill="none"/>
<text transform="translate(1190.42,938.00) rotate(-90)" font-size="14.5" text-anchor="end">TRBV10−2</text>
<rect x="1192.37" y="878.57" width="6.08" height="35.73" fill="#EC2027"/>
<path d="M1194.31 876.97h2.2M1195.41 876.97v3.2M1194.31 880.17h2.2" stroke="#000" stroke-width="1.1" fill="none"/>
<rect x="1198.45" y="706.43" width="6.08" height="207.87" fill="#3953A4"/>
<path d="M1200.39 704.83h2.2M1201.49 704.83v3.2M1200.39 708.03h2.2" stroke="#000" stroke-width="1.1" fill="none"/>
<text transform="translate(1203.94,938.00) rotate(-90)" font-size="14.5" text-anchor="end">TRBV11−2</text>
<rect x="1205.89" y="906.18" width="6.08" height="8.12" fill="#3953A4"/>
<path d="M1207.83 904.58h2.2M1208.93 904.58v3.2M1207.83 907.78h2.2" stroke="#000" stroke-width="1.1" fill="none"/>
<text transform="translate(1217.46,938.00) rotate(-90)" font-size="14.5" text-anchor="end">TRBV12−2</text>
<rect x="1219.41" y="664.20" width="6.08" height="250.10" fill="#EC2027"/>
<path d="M1221.35 662.60h2.2M1222.45 662.60v3.2M1221.35 665.80h2.2" stroke="#000" stroke-width="1.1" fill="none"/>
<rect x="1225.49" y="776.26" width="6.08" height="138.04" fill="#3953A4"/>
<path d="M1227.43 774.66h2.2M1228.53 774.66v3.2M1227.43 777.86h2.2" stroke="#000" stroke-width="1.1" fill="none"/>
<text transform="translate(1230.98,938.00) rotate(-90)" font-size="14.5" text-anchor="end">TRBV12−3</text>
<rect x="1232.93" y="906.18" width="6.08" height="8.12" fill="#EC2027"/>
<path d="M1234.87 904.58h2.2M1235.97 904.58v3.2M1234.87 907.78h2.2" stroke="#000" stroke-width="1.1" fill="none"/>
<rect x="1239.01" y="906.18" width="6.08" height="8.12" fill="#3953A4"/>
<path d="M1240.95 904.58h2.2M1242.05 904.58v3.2M1240.95 907.78h2.2" stroke="#000" stroke-width="1.1" fill="none"/>
<text transform="translate(1244.50,938.00) rotate(-90)" font-size="14.5" text-anchor="end">TRBV14</text>
<rect x="1246.45" y="896.44" width="6.08" height="17.86" fill="#EC2027"/>
<path d="M1248.39 894.84h2.2M1249.49 894.84v3.2M1248.39 898.04h2.2" stroke="#000" stroke-width="1.1" fill="none"/>
<rect x="1252.53" y="899.68" width="6.08" height="14.62" fill="#3953A4"/>
<path d="M1254.47 898.08h2.2M1255.57 898.08v3.2M1254.47 901.28h2.2" stroke="#000" stroke-width="1.1" fill="none"/>
<text transform="translate(1258.02,938.00) rotate(-90)" font-size="14.5" text-anchor="end">TRBV15</text>
<rect x="1259.97" y="870.45" width="6.08" height="43.85" fill="#EC2027"/>
<path d="M1261.91 868.85h2.2M1263.01 868.85v3.2M1261.91 872.05h2.2" stroke="#000" stroke-width="1.1" fill="none"/>
<rect x="1266.05" y="906.18" width="6.08" height="8.12" fill="#3953A4"/>
<path d="M1267.99 904.58h2.2M1269.09 904.58v3.2M1267.99 907.78h2.2" stroke="#000" stroke-width="1.1" fill="none"/>
<text transform="translate(1271.54,938.00) rotate(-90)" font-size="14.5" text-anchor="end">TRBV18</text>
<rect x="1273.49" y="878.57" width="6.08" height="35.73" fill="#EC2027"/>
<path d="M1275.43 876.97h2.2M1276.53 876.97v3.2M1275.43 880.17h2.2" stroke="#000" stroke-width="1.1" fill="none"/>
<rect x="1279.57" y="821.73" width="6.08" height="92.57" fill="#3953A4"/>
<path d="M1281.51 820.13h2.2M1282.61 820.13v3.2M1281.51 823.33h2.2" stroke="#000" stroke-width="1.1" fill="none"/>
<text transform="translate(1285.06,938.00) rotate(-90)" font-size="14.5" text-anchor="end">TRBV19</text>
<rect x="1287.01" y="906.18" width="6.08" height="8.12" fill="#EC2027"/>
<path d="M1288.95 904.58h2.2M1290.05 904.58v3.2M1288.95 907.78h2.2" stroke="#000" stroke-width="1.1" fill="none"/>
<text transform="translate(1298.58,938.00) rotate(-90)" font-size="14.5" text-anchor="end">TRBV2</text>
<rect x="1300.53" y="592.75" width="6.08" height="321.55" fill="#EC2027"/>
<path d="M1302.47 591.15h2.2M1303.57 591.15v3.2M1302.47 594.35h2.2" stroke="#000" stroke-width="1.1" fill="none"/>
<rect x="1306.61" y="737.28" width="6.08" height="177.02" fill="#3953A4"/>
<path d="M1308.55 735.68h2.2M1309.65 735.68v3.2M1308.55 738.88h2.2" stroke="#000" stroke-width="1.1" fill="none"/>
<text transform="translate(1312.10,938.00) rotate(-90)" font-size="14.5" text-anchor="end">TRBV20−1</text>
<rect x="1314.05" y="906.18" width="6.08" height="8.12" fill="#EC2027"/>
<path d="M1315.99 904.58h2.2M1317.09 904.58v3.2M1315.99 907.78h2.2" stroke="#000" stroke-width="1.1" fill="none"/>
<text transform="translate(1325.62,938.00) rotate(-90)" font-size="14.5" text-anchor="end">TRBV21−1</text>
<rect x="1327.57" y="906.18" width="6.08" height="8.12" fill="#3953A4"/>
<path d="M1329.51 904.58h2.2M1330.61 904.58v3.2M1329.51 907.78h2.2" stroke="#000" stroke-width="1.1" fill="none"/>
<text transform="translate(1339.14,938.00) rotate(-90)" font-size="14.5" text-anchor="end">TRBV24−1</text>
<rect x="1341.09" y="888.32" width="6.08" height="25.98" fill="#EC2027"/>
<path d="M1343.03 886.72h2.2M1344.13 886.72v3.2M1343.03 889.92h2.2" stroke="#000" stroke-width="1.1" fill="none"/>
<rect x="1347.17" y="906.18" width="6.08" height="8.12" fill="#3953A4"/>
<path d="M1349.11 904.58h2.2M1350.21 904.58v3.2M1349.11 907.78h2.2" stroke="#000" stroke-width="1.1" fill="none"/>
<text transform="translate(1352.66,938.00) rotate(-90)" font-size="14.5" text-anchor="end">TRBV27</text>
<rect x="1354.61" y="896.44" width="6.08" height="17.86" fill="#EC2027"/>
<path d="M1356.55 894.84h2.2M1357.65 894.84v3.2M1356.55 898.04h2.2" stroke="#000" stroke-width="1.1" fill="none"/>
<rect x="1360.69" y="906.18" width="6.08" height="8.12" fill="#3953A4"/>
<path d="M1362.63 904.58h2.2M1363.73 904.58v3.2M1362.63 907.78h2.2" stroke="#000" stroke-width="1.1" fill="none"/>
<text transform="translate(1366.18,938.00) rotate(-90)" font-size="14.5" text-anchor="end">TRBV28</text>
<rect x="1368.13" y="781.13" width="6.08" height="133.17" fill="#EC2027"/>
<path d="M1370.07 779.53h2.2M1371.17 779.53v3.2M1370.07 782.73h2.2" stroke="#000" stroke-width="1.1" fill="none"/>
<rect x="1374.21" y="799.00" width="6.08" height="115.30" fill="#3953A4"/>
<path d="M1376.15 797.40h2.2M1377.25 797.40v3.2M1376.15 800.60h2.2" stroke="#000" stroke-width="1.1" fill="none"/>
<text transform="translate(1379.70,938.00) rotate(-90)" font-size="14.5" text-anchor="end">TRBV29−1</text>
<rect x="1381.65" y="781.13" width="6.08" height="133.17" fill="#EC2027"/>
<path d="M1383.59 779.53h2.2M1384.69 779.53v3.2M1383.59 782.73h2.2" stroke="#000" stroke-width="1.1" fill="none"/>
<rect x="1387.73" y="583.00" width="6.08" height="331.30" fill="#3953A4"/>
<path d="M1389.67 581.40h2.2M1390.77 581.40v3.2M1389.67 584.60h2.2" stroke="#000" stroke-width="1.1" fill="none"/>
<text transform="translate(1393.22,938.00) rotate(-90)" font-size="14.5" text-anchor="end">TRBV3−1</text>
<rect x="1395.17" y="896.44" width="6.08" height="17.86" fill="#EC2027"/>
<path d="M1397.11 894.84h2.2M1398.21 894.84v3.2M1397.11 898.04h2.2" stroke="#000" stroke-width="1.1" fill="none"/>
<rect x="1401.25" y="906.18" width="6.08" height="8.12" fill="#3953A4"/>
<path d="M1403.19 904.58h2.2M1404.29 904.58v3.2M1403.19 907.78h2.2" stroke="#000" stroke-width="1.1" fill="none"/>
<text transform="translate(1406.74,938.00) rotate(-90)" font-size="14.5" text-anchor="end">TRBV30</text>
<rect x="1408.69" y="860.71" width="6.08" height="53.59" fill="#EC2027"/>
<path d="M1410.63 859.11h2.2M1411.73 859.11v3.2M1410.63 862.31h2.2" stroke="#000" stroke-width="1.1" fill="none"/>
<rect x="1414.77" y="883.44" width="6.08" height="30.86" fill="#3953A4"/>
<path d="M1416.71 881.84h2.2M1417.81 881.84v3.2M1416.71 885.04h2.2" stroke="#000" stroke-width="1.1" fill="none"/>
<text transform="translate(1420.26,938.00) rotate(-90)" font-size="14.5" text-anchor="end">TRBV4−1</text>
<rect x="1422.21" y="870.45" width="6.08" height="43.85" fill="#EC2027"/>
<path d="M1424.15 868.85h2.2M1425.25 868.85v3.2M1424.15 872.05h2.2" stroke="#000" stroke-width="1.1" fill="none"/>
<rect x="1428.29" y="899.68" width="6.08" height="14.62" fill="#3953A4"/>
<path d="M1430.23 898.08h2.2M1431.33 898.08v3.2M1430.23 901.28h2.2" stroke="#000" stroke-width="1.1" fill="none"/>
<text transform="translate(1433.78,938.00) rotate(-90)" font-size="14.5" text-anchor="end">TRBV4−2</text>
<rect x="1435.73" y="896.44" width="6.08" height="17.86" fill="#EC2027"/>
<path d="M1437.67 894.84h2.2M1438.77 894.84v3.2M1437.67 898.04h2.2" stroke="#000" stroke-width="1.1" fill="none"/>
<rect x="1441.81" y="899.68" width="6.08" height="14.62" fill="#3953A4"/>
<path d="M1443.75 898.08h2.2M1444.85 898.08v3.2M1443.75 901.28h2.2" stroke="#000" stroke-width="1.1" fill="none"/>
<text transform="translate(1447.30,938.00) rotate(-90)" font-size="14.5" text-anchor="end">TRBV4−3</text>
<rect x="1449.25" y="743.78" width="6.08" height="170.52" fill="#EC2027"/>
<path d="M1451.19 742.18h2.2M1452.29 742.18v3.2M1451.19 745.38h2.2" stroke="#000" stroke-width="1.1" fill="none"/>
<rect x="1455.33" y="807.12" width="6.08" height="107.18" fill="#3953A4"/>
<path d="M1457.27 805.52h2.2M1458.37 805.52v3.2M1457.27 808.72h2.2" stroke="#000" stroke-width="1.1" fill="none"/>
<text transform="translate(1460.82,938.00) rotate(-90)" font-size="14.5" text-anchor="end">TRBV5−1</text>
<rect x="1462.77" y="906.18" width="6.08" height="8.12" fill="#3953A4"/>
<path d="M1464.71 904.58h2.2M1465.81 904.58v3.2M1464.71 907.78h2.2" stroke="#000" stroke-width="1.1" fill="none"/>
<text transform="translate(1474.34,938.00) rotate(-90)" font-size="14.5" text-anchor="end">TRBV5−5</text>
<rect x="1476.29" y="906.18" width="6.08" height="8.12" fill="#EC2027"/>
<path d="M1478.23 904.58h2.2M1479.33 904.58v3.2M1478.23 907.78h2.2" stroke="#000" stroke-width="1.1" fill="none"/>
<text transform="translate(1487.86,938.00) rotate(-90)" font-size="14.5" text-anchor="end">TRBV5−7</text>
<rect x="1489.81" y="906.18" width="6.08" height="8.12" fill="#3953A4"/>
<path d="M1491.75 904.58h2.2M1492.85 904.58v3.2M1491.75 907.78h2.2" stroke="#000" stroke-width="1.1" fill="none"/>
<text transform="translate(1501.38,938.00) rotate(-90)" font-size="14.5" text-anchor="end">TRBV5−8</text>
<rect x="1503.33" y="842.84" width="6.08" height="71.46" fill="#EC2027"/>
<path d="M1505.27 841.24h2.2M1506.37 841.24v3.2M1505.27 844.44h2.2" stroke="#000" stroke-width="1.1" fill="none"/>
<rect x="1509.41" y="875.32" width="6.08" height="38.98" fill="#3953A4"/>
<path d="M1511.35 873.72h2.2M1512.45 873.72v3.2M1511.35 876.92h2.2" stroke="#000" stroke-width="1.1" fill="none"/>
<text transform="translate(1514.90,938.00) rotate(-90)" font-size="14.5" text-anchor="end">TRBV6−1</text>
<rect x="1516.85" y="870.45" width="6.08" height="43.85" fill="#EC2027"/>
<path d="M1518.79 868.85h2.2M1519.89 868.85v3.2M1518.79 872.05h2.2" stroke="#000" stroke-width="1.1" fill="none"/>
<rect x="1522.93" y="891.56" width="6.08" height="22.74" fill="#3953A4"/>
<path d="M1524.87 889.96h2.2M1525.97 889.96v3.2M1524.87 893.16h2.2" stroke="#000" stroke-width="1.1" fill="none"/>
<text transform="translate(1528.42,938.00) rotate(-90)" font-size="14.5" text-anchor="end">TRBV6−3</text>
<rect x="1530.36" y="906.18" width="6.08" height="8.12" fill="#3953A4"/>
<path d="M1532.31 904.58h2.2M1533.41 904.58v3.2M1532.31 907.78h2.2" stroke="#000" stroke-width="1.1" fill="none"/>
<text transform="translate(1541.94,938.00) rotate(-90)" font-size="14.5" text-anchor="end">TRBV6−4</text>
<rect x="1543.88" y="899.68" width="6.08" height="14.62" fill="#3953A4"/>
<path d="M1545.83 898.08h2.2M1546.93 898.08v3.2M1545.83 901.28h2.2" stroke="#000" stroke-width="1.1" fill="none"/>
<text transform="translate(1555.46,938.00) rotate(-90)" font-size="14.5" text-anchor="end">TRBV6−5</text>
<rect x="1557.40" y="883.44" width="6.08" height="30.86" fill="#3953A4"/>
<path d="M1559.35 881.84h2.2M1560.45 881.84v3.2M1559.35 885.04h2.2" stroke="#000" stroke-width="1.1" fill="none"/>
<text transform="translate(1568.98,938.00) rotate(-90)" font-size="14.5" text-anchor="end">TRBV7−2</text>
<rect x="1570.92" y="906.18" width="6.08" height="8.12" fill="#3953A4"/>
<path d="M1572.87 904.58h2.2M1573.97 904.58v3.2M1572.87 907.78h2.2" stroke="#000" stroke-width="1.1" fill="none"/>
<text transform="translate(1582.50,938.00) rotate(-90)" font-size="14.5" text-anchor="end">TRBV7−3</text>
<rect x="1584.44" y="899.68" width="6.08" height="14.62" fill="#3953A4"/>
<path d="M1586.39 898.08h2.2M1587.49 898.08v3.2M1586.39 901.28h2.2" stroke="#000" stroke-width="1.1" fill="none"/>
<text transform="translate(1596.02,938.00) rotate(-90)" font-size="14.5" text-anchor="end">TRBV7−6</text>
<rect x="1597.96" y="888.32" width="6.08" height="25.98" fill="#EC2027"/>
<path d="M1599.91 886.72h2.2M1601.01 886.72v3.2M1599.91 889.92h2.2" stroke="#000" stroke-width="1.1" fill="none"/>
<rect x="1604.05" y="860.71" width="6.08" height="53.59" fill="#3953A4"/>
<path d="M1605.99 859.11h2.2M1607.09 859.11v3.2M1605.99 862.31h2.2" stroke="#000" stroke-width="1.1" fill="none"/>
<text transform="translate(1609.54,938.00) rotate(-90)" font-size="14.5" text-anchor="end">TRBV7−8</text>
<rect x="1611.48" y="896.44" width="6.08" height="17.86" fill="#EC2027"/>
<path d="M1613.43 894.84h2.2M1614.53 894.84v3.2M1613.43 898.04h2.2" stroke="#000" stroke-width="1.1" fill="none"/>
<rect x="1617.57" y="852.59" width="6.08" height="61.71" fill="#3953A4"/>
<path d="M1619.51 850.99h2.2M1620.61 850.99v3.2M1619.51 854.19h2.2" stroke="#000" stroke-width="1.1" fill="none"/>
<text transform="translate(1623.06,938.00) rotate(-90)" font-size="14.5" text-anchor="end">TRBV7−9</text>
<rect x="1625.00" y="834.72" width="6.08" height="79.58" fill="#EC2027"/>
<path d="M1626.95 833.12h2.2M1628.05 833.12v3.2M1626.95 836.32h2.2" stroke="#000" stroke-width="1.1" fill="none"/>
<rect x="1631.09" y="875.32" width="6.08" height="38.98" fill="#3953A4"/>
<path d="M1633.03 873.72h2.2M1634.13 873.72v3.2M1633.03 876.92h2.2" stroke="#000" stroke-width="1.1" fill="none"/>
<text transform="translate(1636.58,938.00) rotate(-90)" font-size="14.5" text-anchor="end">TRBV9</text>
<path d="M1163.30 565.40V931.60M1161.70 930.00H1639.20" stroke="#000" stroke-width="3.3" fill="none"/>
<path d="M1159.10 914.30H1163.3" stroke="#333" stroke-width="2.4"/>
<text x="1154.5" y="919.8" font-size="18.2" text-anchor="end">0.00</text>
<path d="M1159.10 833.10H1163.3" stroke="#333" stroke-width="2.4"/>
<text x="1154.5" y="838.6" font-size="18.2" text-anchor="end">0.05</text>
<path d="M1159.10 751.90H1163.3" stroke="#333" stroke-width="2.4"/>
<text x="1154.5" y="755.8" font-size="13.649999999999999" text-anchor="end">0.10</text>
<path d="M1159.10 670.70H1163.3" stroke="#333" stroke-width="2.4"/>
<text x="1154.5" y="676.2" font-size="18.2" text-anchor="end">0.15</text>
<path d="M1159.10 589.50H1163.3" stroke="#333" stroke-width="2.4"/>
<text x="1154.5" y="595.0" font-size="18.2" text-anchor="end">0.20</text>
<text x="1267.4" y="556.5" font-size="31">S</text>
<text x="1289.6" y="567.2" font-size="17.5">866-880</text>
<text x="1366.8" y="556.5" font-size="24.9">TRBV gene usage</text>
<text transform="translate(1112.90,783.50) rotate(-90)" font-size="21.6">Proportion</text>
<text x="13.5" y="1081.5" font-size="57">c</text>
<text x="150.8" y="1059.6" font-size="24.5">1-3 months</text>
<text x="429.0" y="1056.0" font-size="24.5">3-4 years</text>
<text x="24.3" y="1140.8" font-size="30">S</text>
<text x="45.0" y="1151.3" font-size="18">166-180</text>
<text x="24.3" y="1396.0" font-size="30">S</text>
<text x="45.0" y="1406.5" font-size="18">751-765</text>
<text x="24.3" y="1617.6" font-size="30">S</text>
<text x="45.0" y="1628.1" font-size="18">866-880</text>
<path d="M182.70 1254.43A67.0 67.0 0 0 1 182.70 1123.97L183.52 1127.48A63.4 63.4 0 0 0 183.52 1250.92Z" fill="#E0546F"/>
<path d="M193.33 1122.36A67.0 67.0 0 1 1 193.33 1256.04L193.58 1252.45A63.4 63.4 0 1 0 193.58 1125.95Z" fill="#6BBE4A"/>
<path d="M184.53 1246.64A59.0 59.0 0 0 1 184.53 1131.76L186.31 1139.35A51.2 51.2 0 0 0 186.31 1239.05Z" fill="#F3D18E"/>
<circle cx="198.0" cy="1189.2" r="48.0" fill="#FBE7C5"/>
<path d="M186.81 1141.49L194.41 1165.47L194.58 1140.32Z" fill="#fff"/>
<path d="M194.58 1238.08L194.41 1212.93L186.81 1236.91Z" fill="#fff"/>
<path d="M193.37 1130.38A59.0 59.0 0 0 1 197.49 1130.20L197.55 1138.00A51.2 51.2 0 0 0 193.98 1138.16Z" fill="#0E7A3E"/>
<path d="M199.03 1130.21A59.0 59.0 0 0 1 200.57 1130.26L200.23 1138.05A51.2 51.2 0 0 0 198.89 1138.01Z" fill="#2BB5A8"/>
<path d="M201.60 1130.31A59.0 59.0 0 0 1 203.14 1130.42L202.46 1138.19A51.2 51.2 0 0 0 201.13 1138.10Z" fill="#7ECBCF"/>
<path d="M206.21 1130.77A59.0 59.0 0 0 1 208.25 1131.10L206.89 1138.78A51.2 51.2 0 0 0 205.13 1138.50Z" fill="#7ECBCF"/>
<path d="M211.27 1131.71A59.0 59.0 0 0 1 214.26 1132.49L212.11 1139.98A51.2 51.2 0 0 0 209.52 1139.31Z" fill="#B9C3E6"/>
<path d="M215.74 1132.93A59.0 59.0 0 0 1 217.21 1133.41L214.67 1140.79A51.2 51.2 0 0 0 213.40 1140.37Z" fill="#0E7A3E"/>
<path d="M219.14 1134.12A59.0 59.0 0 0 1 229.27 1139.17L225.13 1145.78A51.2 51.2 0 0 0 216.35 1141.40Z" fill="#6CBF45"/>
<path d="M230.13 1139.72A59.0 59.0 0 0 1 234.32 1142.71L229.52 1148.85A51.2 51.2 0 0 0 225.89 1146.26Z" fill="#6CBF45"/>
<path d="M235.13 1143.35A59.0 59.0 0 0 1 238.61 1146.40L233.24 1152.06A51.2 51.2 0 0 0 230.22 1149.41Z" fill="#F6F0A0"/>
<path d="M239.72 1147.48A59.0 59.0 0 0 1 247.48 1157.07L240.94 1161.31A51.2 51.2 0 0 0 234.20 1153.00Z" fill="#EFAC80"/>
<path d="M248.57 1158.81A59.0 59.0 0 0 1 252.31 1166.15L245.13 1169.19A51.2 51.2 0 0 0 241.89 1162.83Z" fill="#DD2A25"/>
<path d="M253.08 1168.06A59.0 59.0 0 0 1 257.00 1189.20L249.20 1189.20A51.2 51.2 0 0 0 245.80 1170.85Z" fill="#8FC851"/>
<path d="M256.96 1191.26A59.0 59.0 0 0 1 256.43 1197.41L248.70 1196.33A51.2 51.2 0 0 0 249.17 1190.99Z" fill="#C344A5"/>
<path d="M256.10 1199.45A59.0 59.0 0 0 1 255.49 1202.47L247.89 1200.72A51.2 51.2 0 0 0 248.42 1198.09Z" fill="#5BC5DC"/>
<path d="M254.99 1204.47A59.0 59.0 0 0 1 245.73 1223.88L239.42 1219.29A51.2 51.2 0 0 0 247.46 1202.45Z" fill="#26B5A8"/>
<path d="M244.49 1225.52A59.0 59.0 0 0 1 234.32 1235.69L229.52 1229.55A51.2 51.2 0 0 0 238.35 1220.72Z" fill="#92489D"/>
<path d="M233.09 1236.63A59.0 59.0 0 0 1 224.79 1241.77L221.24 1234.82A51.2 51.2 0 0 0 228.45 1230.36Z" fill="#F2F0A6"/>
<path d="M222.93 1242.67A59.0 59.0 0 0 1 210.27 1246.91L208.65 1239.28A51.2 51.2 0 0 0 219.64 1235.60Z" fill="#A24AA6"/>
<path d="M208.25 1247.30A59.0 59.0 0 0 1 193.88 1248.06L194.43 1240.28A51.2 51.2 0 0 0 206.89 1239.62Z" fill="#F7F2A3"/>
<path d="M194.11 1163.49Q202.00 1183.16 198.08 1141.20 M194.11 1163.49Q202.00 1183.42 200.60 1141.27 M194.11 1163.49Q202.00 1183.64 202.68 1141.43 M194.11 1163.49Q202.00 1184.09 206.83 1142.02 M194.11 1163.49Q202.00 1184.62 211.71 1143.20 M194.11 1163.49Q202.00 1184.89 214.10 1143.98 M194.11 1163.49Q202.00 1186.04 223.86 1148.76 M194.11 1163.49Q202.00 1186.58 227.95 1151.69 M194.11 1163.49Q202.00 1187.07 231.40 1154.73 M194.11 1163.49Q202.00 1188.27 238.53 1163.48 M194.11 1163.49Q202.00 1189.16 242.38 1170.91 M194.11 1214.91Q202.00 1187.20 246.00 1189.70 M194.11 1214.91Q202.00 1187.91 245.46 1196.38 M194.11 1214.91Q202.00 1188.36 244.65 1200.49 M194.11 1214.91Q202.00 1190.40 236.54 1217.82 M194.11 1214.91Q202.00 1191.82 227.15 1227.33 M194.11 1214.91Q202.00 1192.80 219.34 1232.19 M194.11 1214.91Q202.00 1194.13 207.49 1236.25" stroke="#fff" stroke-width="0.9" fill="none" opacity="0.9"/>
<path d="M455.30 1262.59A67.0 67.0 0 0 1 455.30 1135.81L456.46 1139.22A63.4 63.4 0 0 0 456.46 1259.18Z" fill="#E0546F"/>
<path d="M465.71 1133.16A67.0 67.0 0 1 1 465.71 1265.24L466.32 1261.69A63.4 63.4 0 1 0 466.32 1136.71Z" fill="#6BBE4A"/>
<path d="M457.89 1255.02A59.0 59.0 0 0 1 457.89 1143.38L460.42 1150.76A51.2 51.2 0 0 0 460.42 1247.64Z" fill="#F3D18E"/>
<circle cx="477.0" cy="1199.2" r="48.0" fill="#FBE7C5"/>
<path d="M461.13 1152.84L471.07 1175.94L468.74 1150.90Z" fill="#fff"/>
<path d="M468.74 1247.50L471.07 1222.46L461.13 1245.56Z" fill="#fff"/>
<path d="M467.06 1141.04A59.0 59.0 0 0 1 468.08 1140.88L469.26 1148.59A51.2 51.2 0 0 0 468.37 1148.73Z" fill="#B5D98A"/>
<path d="M469.30 1140.70A59.0 59.0 0 0 1 481.12 1140.34L480.57 1148.12A51.2 51.2 0 0 0 470.32 1148.44Z" fill="#7ECBCF"/>
<path d="M482.14 1140.42A59.0 59.0 0 0 1 483.17 1140.52L482.35 1148.28A51.2 51.2 0 0 0 481.46 1148.19Z" fill="#B5D98A"/>
<path d="M484.70 1140.70A59.0 59.0 0 0 1 485.72 1140.85L484.57 1148.56A51.2 51.2 0 0 0 483.68 1148.44Z" fill="#F6F0A0"/>
<path d="M488.26 1141.28A59.0 59.0 0 0 1 490.27 1141.71L488.52 1149.31A51.2 51.2 0 0 0 486.77 1148.94Z" fill="#C344A5"/>
<path d="M492.27 1142.21A59.0 59.0 0 0 1 494.25 1142.78L491.97 1150.24A51.2 51.2 0 0 0 490.25 1149.74Z" fill="#2BB5A8"/>
<path d="M496.21 1143.41A59.0 59.0 0 0 1 499.10 1144.50L496.18 1151.73A51.2 51.2 0 0 0 493.67 1150.79Z" fill="#F6F0A0"/>
<path d="M501.00 1145.30A59.0 59.0 0 0 1 502.40 1145.95L499.04 1152.99A51.2 51.2 0 0 0 497.82 1152.43Z" fill="#2E86C8"/>
<path d="M503.79 1146.63A59.0 59.0 0 0 1 505.15 1147.35L501.43 1154.20A51.2 51.2 0 0 0 500.24 1153.58Z" fill="#7B4EA8"/>
<path d="M506.50 1148.10A59.0 59.0 0 0 1 507.39 1148.63L503.37 1155.31A51.2 51.2 0 0 0 502.60 1154.86Z" fill="#0E7A3E"/>
<path d="M508.70 1149.44A59.0 59.0 0 0 1 509.56 1150.00L505.26 1156.51A51.2 51.2 0 0 0 504.51 1156.02Z" fill="#2BB5A8"/>
<path d="M510.84 1150.87A59.0 59.0 0 0 1 517.61 1156.40L512.24 1162.06A51.2 51.2 0 0 0 506.37 1157.26Z" fill="#1A8040"/>
<path d="M518.35 1157.12A59.0 59.0 0 0 1 524.12 1163.69L517.89 1168.39A51.2 51.2 0 0 0 512.89 1162.68Z" fill="#0D7F82"/>
<path d="M524.73 1164.52A59.0 59.0 0 0 1 525.62 1165.78L519.20 1170.20A51.2 51.2 0 0 0 518.42 1169.11Z" fill="#C344A5"/>
<path d="M526.48 1167.07A59.0 59.0 0 0 1 529.57 1172.41L522.62 1175.96A51.2 51.2 0 0 0 519.94 1171.31Z" fill="#F7F2A0"/>
<path d="M530.03 1173.34A59.0 59.0 0 0 1 532.79 1179.99L525.41 1182.53A51.2 51.2 0 0 0 523.02 1176.76Z" fill="#B9C3E6"/>
<path d="M533.11 1180.97A59.0 59.0 0 0 1 534.71 1186.93L527.08 1188.55A51.2 51.2 0 0 0 525.69 1183.38Z" fill="#5BC8DC"/>
<path d="M535.01 1188.45A59.0 59.0 0 0 1 535.92 1202.29L528.13 1201.88A51.2 51.2 0 0 0 527.34 1189.87Z" fill="#D23A3A"/>
<path d="M535.86 1203.32A59.0 59.0 0 0 1 533.99 1214.47L526.46 1212.45A51.2 51.2 0 0 0 528.08 1202.77Z" fill="#EBC12A"/>
<path d="M533.71 1215.46A59.0 59.0 0 0 1 532.44 1219.38L525.11 1216.71A51.2 51.2 0 0 0 526.22 1213.31Z" fill="#6BBE44"/>
<path d="M532.08 1220.34A59.0 59.0 0 0 1 531.51 1221.78L524.30 1218.79A51.2 51.2 0 0 0 524.80 1217.55Z" fill="#C02050"/>
<path d="M530.90 1223.20A59.0 59.0 0 0 1 526.48 1231.33L519.94 1227.09A51.2 51.2 0 0 0 523.77 1220.02Z" fill="#A04FA8"/>
<path d="M525.91 1232.19A59.0 59.0 0 0 1 517.24 1242.35L511.92 1236.65A51.2 51.2 0 0 0 519.45 1227.83Z" fill="#8E4A9D"/>
<path d="M516.09 1243.39A59.0 59.0 0 0 1 514.92 1244.40L509.91 1238.42A51.2 51.2 0 0 0 510.93 1237.55Z" fill="#0E7A3E"/>
<path d="M514.13 1245.05A59.0 59.0 0 0 1 504.70 1251.29L501.04 1244.41A51.2 51.2 0 0 0 509.22 1238.99Z" fill="#DA2A27"/>
<path d="M502.86 1252.23A59.0 59.0 0 0 1 501.93 1252.67L498.64 1245.60A51.2 51.2 0 0 0 499.44 1245.22Z" fill="#8FC851"/>
<path d="M501.00 1253.10A59.0 59.0 0 0 1 500.05 1253.51L497.01 1246.33A51.2 51.2 0 0 0 497.82 1245.97Z" fill="#8FC851"/>
<path d="M499.10 1253.90A59.0 59.0 0 0 1 498.14 1254.28L495.35 1247.00A51.2 51.2 0 0 0 496.18 1246.67Z" fill="#8FC851"/>
<path d="M497.18 1254.64A59.0 59.0 0 0 1 487.25 1257.30L485.89 1249.62A51.2 51.2 0 0 0 494.51 1247.31Z" fill="#EFAB7E"/>
<path d="M486.23 1257.47A59.0 59.0 0 0 1 477.00 1258.20L477.00 1250.40A51.2 51.2 0 0 0 485.01 1249.77Z" fill="#2BB5A8"/>
<path d="M475.97 1258.19A59.0 59.0 0 0 1 467.26 1257.39L468.55 1249.70A51.2 51.2 0 0 0 476.11 1250.39Z" fill="#9ACD5A"/>
<path d="M470.58 1174.01Q481.00 1192.43 470.24 1151.68 M470.58 1174.01Q481.00 1193.56 480.85 1151.35 M470.58 1174.01Q481.00 1193.73 482.52 1151.52 M470.58 1174.01Q481.00 1193.96 484.59 1151.80 M470.58 1174.01Q481.00 1194.36 488.29 1152.55 M470.58 1174.01Q481.00 1194.71 491.51 1153.45 M470.58 1174.01Q481.00 1195.16 495.45 1154.89 M470.58 1174.01Q481.00 1195.47 498.12 1156.09 M470.58 1174.01Q481.00 1195.73 500.34 1157.26 M470.58 1174.01Q481.00 1195.96 502.15 1158.32 M470.58 1174.01Q481.00 1196.18 503.91 1159.45 M470.58 1174.01Q481.00 1197.07 510.40 1164.73 M470.58 1174.01Q481.00 1197.91 515.63 1170.72 M470.58 1174.01Q481.00 1198.13 516.84 1172.43 M470.58 1174.01Q481.00 1198.80 519.99 1177.86 M470.58 1174.01Q481.00 1199.51 522.55 1184.05 M470.58 1174.01Q481.00 1200.13 524.05 1189.71 M470.58 1224.39Q481.00 1197.47 524.91 1202.21 M470.58 1224.39Q481.00 1198.53 523.23 1212.11 M470.58 1224.39Q481.00 1198.98 521.93 1216.09 M470.58 1224.39Q481.00 1199.20 521.15 1218.03 M470.58 1224.39Q481.00 1200.13 516.98 1225.76 M470.58 1224.39Q481.00 1201.38 509.37 1234.65 M470.58 1224.39Q481.00 1201.64 507.47 1236.29 M470.58 1224.39Q481.00 1202.71 499.09 1241.82 M470.58 1224.39Q481.00 1202.98 496.83 1242.91 M470.58 1224.39Q481.00 1203.16 495.29 1243.58 M470.58 1224.39Q481.00 1203.33 493.73 1244.19 M470.58 1224.39Q481.00 1204.31 484.84 1246.56 M470.58 1224.39Q481.00 1205.20 476.50 1247.20" stroke="#fff" stroke-width="0.9" fill="none" opacity="0.9"/>
<path d="M201.38 1508.35A67.0 67.0 0 0 1 201.38 1375.65L201.88 1379.22A63.4 63.4 0 0 0 201.88 1504.78Z" fill="#E0546F"/>
<path d="M212.10 1375.01A67.0 67.0 0 0 1 212.10 1508.99L212.03 1505.39A63.4 63.4 0 0 0 212.03 1378.61Z" fill="#6BBE4A"/>
<path d="M202.49 1500.43A59.0 59.0 0 0 1 202.49 1383.57L203.57 1391.30A51.2 51.2 0 0 0 203.57 1492.70Z" fill="#7FCFF3"/>
<circle cx="210.7" cy="1442.0" r="48.0" fill="#C4E7F8"/>
<path d="M203.88 1393.48L209.28 1418.04L211.73 1393.01Z" fill="#fff"/>
<path d="M211.73 1490.99L209.28 1465.96L203.88 1490.52Z" fill="#fff"/>
<path d="M212.24 1383.02A59.0 59.0 0 0 1 215.84 1383.22L215.16 1390.99A51.2 51.2 0 0 0 212.04 1390.82Z" fill="#D4E38A"/>
<path d="M217.89 1383.44A59.0 59.0 0 0 1 232.80 1387.30L229.88 1394.53A51.2 51.2 0 0 0 216.94 1391.18Z" fill="#F8F2A8"/>
<path d="M234.70 1388.10A59.0 59.0 0 0 1 239.30 1390.40L235.52 1397.22A51.2 51.2 0 0 0 231.52 1395.23Z" fill="#2E86C8"/>
<path d="M240.20 1390.90A59.0 59.0 0 0 1 247.83 1396.15L242.92 1402.21A51.2 51.2 0 0 0 236.30 1397.66Z" fill="#0E7F80"/>
<path d="M248.62 1396.80A59.0 59.0 0 0 1 252.42 1400.28L246.90 1405.80A51.2 51.2 0 0 0 243.61 1402.78Z" fill="#9ED8D0"/>
<path d="M253.14 1401.02A59.0 59.0 0 0 1 256.55 1404.87L250.49 1409.78A51.2 51.2 0 0 0 247.53 1406.43Z" fill="#28B5A8"/>
<path d="M257.82 1406.49A59.0 59.0 0 0 1 267.69 1457.27L260.16 1455.25A51.2 51.2 0 0 0 251.59 1411.19Z" fill="#954B9D"/>
<path d="M267.12 1459.25A59.0 59.0 0 0 1 212.24 1500.98L212.04 1493.18A51.2 51.2 0 0 0 259.66 1456.97Z" fill="#E4C02C"/>
<path d="M209.16 1416.05Q214.70 1436.44 215.38 1394.23 M209.16 1416.05Q214.70 1437.96 229.15 1397.69 M209.16 1416.05Q214.70 1438.58 234.41 1400.26 M209.16 1416.05Q214.70 1439.47 241.30 1405.02 M209.16 1416.05Q214.70 1440.00 244.99 1408.42 M209.16 1416.05Q214.70 1440.53 248.32 1412.18 M209.16 1467.95Q214.70 1441.33 256.93 1454.91" stroke="#fff" stroke-width="0.9" fill="none" opacity="0.9"/>
<path d="M466.00 1518.96A67.0 67.0 0 0 1 466.00 1385.84L466.41 1389.42A63.4 63.4 0 0 0 466.41 1515.38Z" fill="#E0546F"/>
<path d="M476.74 1385.47A67.0 67.0 0 0 1 476.74 1519.33L476.58 1515.73A63.4 63.4 0 0 0 476.58 1389.07Z" fill="#6BBE4A"/>
<path d="M466.92 1511.01A59.0 59.0 0 0 1 466.92 1393.79L467.82 1401.54A51.2 51.2 0 0 0 467.82 1503.26Z" fill="#7FCFF3"/>
<circle cx="473.7" cy="1452.4" r="48.0" fill="#C4E7F8"/>
<path d="M468.07 1403.72L472.86 1428.41L475.92 1403.45Z" fill="#fff"/>
<path d="M475.92 1501.35L472.86 1476.39L468.07 1501.08Z" fill="#fff"/>
<path d="M475.76 1393.44A59.0 59.0 0 0 1 479.87 1393.72L479.05 1401.48A51.2 51.2 0 0 0 475.49 1401.23Z" fill="#A04CA8"/>
<path d="M481.40 1393.90A59.0 59.0 0 0 1 485.97 1394.69L484.35 1402.32A51.2 51.2 0 0 0 480.38 1401.64Z" fill="#F7F1A5"/>
<path d="M487.97 1395.15A59.0 59.0 0 0 1 493.39 1396.78L490.79 1404.14A51.2 51.2 0 0 0 486.09 1402.72Z" fill="#178041"/>
<path d="M494.84 1397.32A59.0 59.0 0 0 1 509.21 1405.28L504.51 1411.51A51.2 51.2 0 0 0 492.05 1404.60Z" fill="#F8F0A8"/>
<path d="M510.02 1405.91A59.0 59.0 0 0 1 531.97 1443.17L524.27 1444.39A51.2 51.2 0 0 0 505.22 1412.05Z" fill="#E4BF2C"/>
<path d="M532.26 1445.21A59.0 59.0 0 0 1 532.66 1450.34L524.87 1450.61A51.2 51.2 0 0 0 524.52 1446.16Z" fill="#5CC6DD"/>
<path d="M532.70 1452.40A59.0 59.0 0 0 1 475.76 1511.36L475.49 1503.57A51.2 51.2 0 0 0 524.90 1452.40Z" fill="#954B9D"/>
<path d="M472.79 1426.42Q477.70 1446.93 479.22 1404.72 M472.79 1426.42Q477.70 1447.47 484.17 1405.56 M472.79 1426.42Q477.70 1448.13 490.20 1407.32 M472.79 1426.42Q477.70 1449.69 502.99 1414.37 M472.79 1426.42Q477.70 1453.60 521.19 1445.39 M472.79 1426.42Q477.70 1454.22 521.69 1451.23" stroke="#fff" stroke-width="0.9" fill="none" opacity="0.9"/>
<path d="M201.31 1731.58A67.0 67.0 0 0 1 201.31 1599.02L201.84 1602.58A63.4 63.4 0 0 0 201.84 1728.02Z" fill="#E0546F"/>
<path d="M212.04 1598.31A67.0 67.0 0 0 1 212.04 1732.29L211.99 1728.69A63.4 63.4 0 0 0 211.99 1601.91Z" fill="#6BBE4A"/>
<path d="M202.48 1723.67A59.0 59.0 0 0 1 202.48 1606.93L203.62 1614.65A51.2 51.2 0 0 0 203.62 1715.95Z" fill="#EB2F26"/>
<circle cx="211.1" cy="1665.3" r="48.0" fill="#F59891"/>
<path d="M203.94 1616.83L209.51 1641.35L211.78 1616.30Z" fill="#fff"/>
<path d="M211.78 1714.30L209.51 1689.25L203.94 1713.77Z" fill="#fff"/>
<path d="M212.13 1606.31A59.0 59.0 0 0 1 215.73 1606.48L215.12 1614.26A51.2 51.2 0 0 0 211.99 1614.11Z" fill="#EFAE82"/>
<path d="M217.27 1606.62A59.0 59.0 0 0 1 222.36 1607.38L220.87 1615.04A51.2 51.2 0 0 0 216.45 1614.38Z" fill="#E07B25"/>
<path d="M223.87 1607.70A59.0 59.0 0 0 1 256.30 1627.38L250.32 1632.39A51.2 51.2 0 0 0 222.18 1615.31Z" fill="#F8F0A8"/>
<path d="M257.59 1628.98A59.0 59.0 0 0 1 263.19 1637.60L256.31 1641.26A51.2 51.2 0 0 0 251.45 1633.78Z" fill="#9A4BA2"/>
<path d="M264.13 1639.44A59.0 59.0 0 0 1 268.09 1680.57L260.56 1678.55A51.2 51.2 0 0 0 257.12 1642.86Z" fill="#78CED0"/>
<path d="M267.52 1682.55A59.0 59.0 0 0 1 246.61 1712.42L241.91 1706.19A51.2 51.2 0 0 0 260.06 1680.27Z" fill="#954B9D"/>
<path d="M245.78 1713.03A59.0 59.0 0 0 1 235.10 1719.20L231.92 1712.07A51.2 51.2 0 0 0 241.19 1706.72Z" fill="#9ACD57"/>
<path d="M234.15 1719.61A59.0 59.0 0 0 1 229.33 1721.41L226.92 1713.99A51.2 51.2 0 0 0 231.11 1712.43Z" fill="#232060"/>
<path d="M228.35 1721.72A59.0 59.0 0 0 1 221.35 1723.40L219.99 1715.72A51.2 51.2 0 0 0 226.07 1714.26Z" fill="#6BBE44"/>
<path d="M220.33 1723.57A59.0 59.0 0 0 1 211.61 1724.30L211.55 1716.50A51.2 51.2 0 0 0 219.11 1715.87Z" fill="#177F3E"/>
<path d="M209.38 1639.36Q215.10 1659.70 215.37 1617.49 M209.38 1639.36Q215.10 1660.28 220.75 1618.28 M209.38 1639.36Q215.10 1663.74 248.19 1634.83 M209.38 1639.36Q215.10 1664.81 253.72 1643.21 M209.38 1691.24Q215.10 1664.63 257.33 1678.21 M209.38 1691.24Q215.10 1668.01 239.58 1703.93 M209.38 1691.24Q215.10 1669.17 230.16 1709.35 M209.38 1691.24Q215.10 1669.70 225.45 1711.10 M209.38 1691.24Q215.10 1670.41 218.94 1712.66" stroke="#fff" stroke-width="0.9" fill="none" opacity="0.9"/>
<path d="M458.81 1741.28A67.0 67.0 0 0 1 458.81 1608.72L459.34 1612.28A63.4 63.4 0 0 0 459.34 1737.72Z" fill="#E0546F"/>
<path d="M469.54 1608.01A67.0 67.0 0 0 1 469.54 1741.99L469.49 1738.39A63.4 63.4 0 0 0 469.49 1611.61Z" fill="#6BBE4A"/>
<path d="M459.98 1733.37A59.0 59.0 0 0 1 459.98 1616.63L461.12 1624.35A51.2 51.2 0 0 0 461.12 1725.65Z" fill="#EB2F26"/>
<circle cx="468.6" cy="1675.0" r="48.0" fill="#F59891"/>
<path d="M461.44 1626.53L467.01 1651.05L469.28 1626.00Z" fill="#fff"/>
<path d="M469.28 1724.00L467.01 1698.95L461.44 1723.47Z" fill="#fff"/>
<path d="M469.63 1616.01A59.0 59.0 0 0 1 473.23 1616.18L472.62 1623.96A51.2 51.2 0 0 0 469.49 1623.81Z" fill="#F8F2A6"/>
<path d="M475.28 1616.38A59.0 59.0 0 0 1 487.81 1619.21L485.27 1626.59A51.2 51.2 0 0 0 474.40 1624.13Z" fill="#9C4CA3"/>
<path d="M488.78 1619.56A59.0 59.0 0 0 1 493.53 1621.53L490.24 1628.60A51.2 51.2 0 0 0 486.11 1626.89Z" fill="#0E7F80"/>
<path d="M494.46 1621.97A59.0 59.0 0 0 1 498.10 1623.90L494.20 1630.66A51.2 51.2 0 0 0 491.04 1628.98Z" fill="#28B5A8"/>
<path d="M499.87 1624.97A59.0 59.0 0 0 1 510.32 1633.28L504.80 1638.80A51.2 51.2 0 0 0 495.73 1631.58Z" fill="#ECB081"/>
<path d="M511.04 1634.02A59.0 59.0 0 0 1 516.33 1640.32L510.02 1644.91A51.2 51.2 0 0 0 505.43 1639.43Z" fill="#99CC55"/>
<path d="M517.51 1642.01A59.0 59.0 0 0 1 524.39 1655.79L517.01 1658.33A51.2 51.2 0 0 0 511.05 1646.37Z" fill="#F9EFA5"/>
<path d="M525.02 1657.75A59.0 59.0 0 0 1 524.71 1693.23L517.29 1690.82A51.2 51.2 0 0 0 517.56 1660.03Z" fill="#177F3E"/>
<path d="M524.04 1695.18A59.0 59.0 0 0 1 469.11 1734.00L469.05 1726.20A51.2 51.2 0 0 0 516.71 1692.51Z" fill="#78CED0"/>
<path d="M466.88 1649.06Q472.60 1669.40 472.87 1627.19 M466.88 1649.06Q472.60 1670.69 484.70 1629.78 M466.88 1649.06Q472.60 1671.22 489.34 1631.71 M466.88 1649.06Q472.60 1671.67 493.03 1633.68 M466.88 1649.06Q472.60 1673.00 502.89 1641.42 M466.88 1649.06Q472.60 1673.80 507.73 1647.19 M466.88 1649.06Q472.60 1675.31 514.15 1659.85 M466.88 1700.94Q472.60 1674.60 514.09 1690.31" stroke="#fff" stroke-width="0.9" fill="none" opacity="0.9"/>
<text transform="translate(239.2,1100.2) rotate(-55)" font-size="15" text-anchor="middle" dominant-baseline="central">TRBV15</text>
<text transform="translate(274.6,1133.5) rotate(-33.7)" font-size="15" text-anchor="middle" dominant-baseline="central">TRBV9</text>
<text transform="translate(300.5,1175.5) rotate(-8)" font-size="15" text-anchor="middle" dominant-baseline="central">TRBV5−1</text>
<text transform="translate(294.0,1230.0) rotate(26)" font-size="15" text-anchor="middle" dominant-baseline="central">TRBV6−5</text>
<text transform="translate(268.8,1266.6) rotate(52)" font-size="15" text-anchor="middle" dominant-baseline="central">TRBV6−1</text>
<text transform="translate(249.8,1275.0) rotate(57.4)" font-size="15" text-anchor="middle" dominant-baseline="central">TRBV27</text>
<text transform="translate(234.0,1288.0) rotate(65.6)" font-size="15" text-anchor="middle" dominant-baseline="central">TRBV6−3</text>
<text transform="translate(205.0,1290.1) rotate(86)" font-size="15" text-anchor="middle" dominant-baseline="central">TRBV19</text>
<text transform="translate(477.8,1098.3) rotate(-88)" font-size="15" text-anchor="middle" dominant-baseline="central">TRBV3−1</text>
<text transform="translate(512.0,1104.8) rotate(-58)" font-size="15" text-anchor="middle" dominant-baseline="central">TRBV27</text>
<text transform="translate(545.4,1117.0) rotate(-49.3)" font-size="15" text-anchor="middle" dominant-baseline="central">TRBV11−2</text>
<text transform="translate(554.3,1131.7) rotate(-44)" font-size="15" text-anchor="middle" dominant-baseline="central">TRBV7−8</text>
<text transform="translate(573.1,1166.7) rotate(-8)" font-size="15" text-anchor="middle" dominant-baseline="central">TRBV5−5</text>
<text transform="translate(582.0,1194.4) rotate(0)" font-size="15" text-anchor="middle" dominant-baseline="central">TRBV7−9</text>
<text transform="translate(583.7,1219.7) rotate(8)" font-size="15" text-anchor="middle" dominant-baseline="central">TRBV24−1</text>
<text transform="translate(572.5,1248.3) rotate(30)" font-size="15" text-anchor="middle" dominant-baseline="central">TRBV6−3</text>
<text transform="translate(560.0,1272.0) rotate(40)" font-size="15" text-anchor="middle" dominant-baseline="central">TRBV6−1</text>
<text transform="translate(531.5,1283.3) rotate(51.7)" font-size="15" text-anchor="middle" dominant-baseline="central">TRBV14</text>
<text transform="translate(501.8,1291.0) rotate(67)" font-size="15" text-anchor="middle" dominant-baseline="central">TRBV9</text>
<text transform="translate(486.2,1303.5) rotate(81)" font-size="15" text-anchor="middle" dominant-baseline="central">TRBV6−5</text>
<text transform="translate(469.6,1304.0) rotate(88)" font-size="15" text-anchor="middle" dominant-baseline="central">TRBV5−1</text>
<text transform="translate(242.2,1349.2) rotate(-64.4)" font-size="15" text-anchor="middle" dominant-baseline="central">TRBV19</text>
<text transform="translate(313.0,1431.5) rotate(-4)" font-size="15" text-anchor="middle" dominant-baseline="central">TRBV6−1</text>
<text transform="translate(281.2,1525.4) rotate(43)" font-size="15" text-anchor="middle" dominant-baseline="central">TRBV24−1</text>
<text transform="translate(532.3,1360.0) rotate(-55)" font-size="15" text-anchor="middle" dominant-baseline="central">TRBV20−1</text>
<text transform="translate(573.6,1412.5) rotate(-17.5)" font-size="15" text-anchor="middle" dominant-baseline="central">TRBV24−1</text>
<text transform="translate(541.8,1531.6) rotate(50)" font-size="15" text-anchor="middle" dominant-baseline="central">TRBV6−1</text>
<text transform="translate(277.0,1576.3) rotate(-48)" font-size="15" text-anchor="middle" dominant-baseline="central">TRBV20−1</text>
<text transform="translate(312.2,1662.7) rotate(-3)" font-size="15" text-anchor="middle" dominant-baseline="central">TRBV3−1</text>
<text transform="translate(300.7,1724.3) rotate(36.6)" font-size="15" text-anchor="middle" dominant-baseline="central">TRBV29−1</text>
<text transform="translate(262.6,1756.5) rotate(57)" font-size="15" text-anchor="middle" dominant-baseline="central">TRBV5−1</text>
<text transform="translate(490.0,1575.0) rotate(-71.6)" font-size="15" text-anchor="middle" dominant-baseline="central">TRBV6−1</text>
<text transform="translate(526.0,1600.7) rotate(-51.7)" font-size="15" text-anchor="middle" dominant-baseline="central">TRBV9</text>
<text transform="translate(567.4,1637.9) rotate(-17)" font-size="15" text-anchor="middle" dominant-baseline="central">TRBV20−1</text>
<text transform="translate(577.0,1677.2) rotate(-3)" font-size="15" text-anchor="middle" dominant-baseline="central">TRBV11−2</text>
<text transform="translate(529.4,1758.6) rotate(54.5)" font-size="15" text-anchor="middle" dominant-baseline="central">TRBV3−1</text>
<text x="124.9" y="1202.0" font-size="15" text-anchor="end">TRAV35</text>
<text x="402.0" y="1206.8" font-size="15.1" text-anchor="end">TRAV35</text>
<text x="134.4" y="1449.7" font-size="14.9" text-anchor="end">TRAV12-1</text>
<text x="401.2" y="1466.3" font-size="14.9" text-anchor="end">TRAV12−1</text>
<text x="138.5" y="1672.2" font-size="14.9" text-anchor="end">TRAV26−1</text>
<text x="397.0" y="1690.8" font-size="16.4" text-anchor="end">TRAV26-1</text>
<text x="666.5" y="1075.8" font-size="56">d</text>
<path d="M1037.0 1129.6L1041.7 1145.7M1059.2 1133.8L1049.5 1132.0M1046.0 1160.4L1052.6 1147.1M1046.0 1160.4L1025.2 1157.3M1074.3 1169.1L1060.6 1164.9M1046.0 1160.4L1037.4 1175.0M1046.0 1160.4L1056.7 1176.3M1074.3 1169.1L1069.9 1176.2M1144.4 1101.8L1149.0 1113.7M1153.3 1124.8L1141.6 1130.0M1106.3 1128.1L1116.3 1131.4M1177.7 1122.5L1165.1 1123.7M1213.4 1128.1L1218.9 1120.5M965.4 1181.7L960.4 1190.7M1115.7 1187.1L1124.7 1192.8M1158.1 1186.1L1147.7 1192.8M1136.2 1200.2L1129.4 1213.7M927.8 1234.1L934.0 1239.3M987.3 1247.6L995.4 1254.4M1083.8 1221.9L1077.8 1231.0M904.2 1272.0L901.0 1282.5M897.4 1294.6L893.3 1306.5M947.4 1296.1L958.3 1301.2M969.1 1306.2L976.3 1316.0M1063.8 1269.0L1063.5 1280.5M1048.3 1319.6L1054.5 1309.8M1073.5 1320.0L1069.5 1310.9M1048.3 1319.6L1036.8 1327.7M1073.5 1320.0L1060.9 1319.8M1120.5 1277.0L1122.9 1289.7M935.2 1346.1L943.0 1354.0M892.6 1363.5L901.4 1372.0M1004.9 1385.2L1004.1 1395.1M874.4 1400.1L876.6 1409.5M1180.0 1338.6L1168.7 1344.5M1158.1 1350.0L1145.7 1355.0M1098.8 1394.8L1095.3 1399.3M1098.8 1394.8L1105.4 1427.7M1087.7 1409.1L1101.0 1429.5M1113.5 1405.4L1107.7 1401.2M1143.9 1421.3L1119.4 1434.3M1108.0 1440.3L1136.3 1440.9M1080.7 1446.4L1095.4 1443.1M1070.4 1458.0L1085.2 1461.0M1097.8 1463.5L1102.8 1452.1M1086.7 1475.0L1101.3 1451.3M1120.5 1470.0L1110.2 1467.1M1110.3 1483.3L1098.8 1479.2M1086.7 1475.0L1068.2 1491.9M1080.7 1446.4L1084.1 1462.5M1070.4 1458.0L1074.1 1453.8M1110.3 1483.3L1104.7 1474.4M1143.9 1421.3L1145.7 1429.5M889.3 1439.7L907.6 1447.6M937.3 1446.6L929.6 1448.9M982.7 1446.6L966.9 1456.7M953.9 1465.1L933.5 1470.2M921.6 1473.2L938.9 1468.9M904.4 1497.4L914.5 1483.2M953.9 1465.1L952.6 1490.2M953.9 1465.1L965.9 1478.2M973.9 1487.0L983.0 1502.7M918.5 1452.3L939.3 1459.8M937.3 1446.6L943.5 1453.6M941.0 1471.7L942.3 1471.1M921.6 1473.2L920.2 1464.1M941.0 1471.7L927.5 1460.1M937.3 1446.6L927.9 1462.6M979.5 1530.3L991.4 1541.8M1020.9 1530.3L1009.5 1541.6M1000.5 1550.6L1016.3 1552.8M984.2 1575.1L993.5 1561.2M1008.4 1574.7L1004.5 1562.7M984.2 1575.1L996.5 1574.9M1028.1 1554.4L1047.5 1553.6M1059.4 1553.1L1070.2 1561.4M1079.8 1568.8L1080.7 1584.1M1081.4 1596.0L1081.4 1609.8M1013.1 1620.5L1023.4 1622.2M1118.0 1662.5L1128.6 1664.4M1008.4 1574.7L1019.8 1562.9M1020.9 1530.3L1024.7 1543.0M1354.8 1451.0L1350.3 1460.9M1315.5 1484.7L1322.4 1487.9M1333.7 1493.2L1334.8 1491.3M1332.0 1510.8L1332.6 1504.6M1308.1 1529.4L1321.1 1519.3M1346.7 1539.2L1338.3 1523.1M1358.3 1498.8L1353.0 1491.0M1332.0 1510.8L1347.5 1503.7M1315.5 1484.7L1324.6 1499.1M1208.3 1479.1L1201.5 1488.1M1282.1 1492.5L1271.7 1493.8M1237.1 1546.3L1231.9 1570.5M1190.7 1565.2L1204.3 1583.7M1140.4 1579.3L1153.6 1592.0M1163.3 1601.4L1198.1 1597.8M1170.3 1626.0L1167.0 1614.4M1213.5 1596.2L1217.4 1600.8M1229.4 1582.1L1225.1 1585.9M1237.1 1596.2L1239.8 1600.2M1246.9 1610.9L1242.3 1613.4M1218.8 1633.1L1222.2 1629.4M1230.8 1619.7L1228.7 1616.1M1204.4 1610.9L1206.0 1608.3M1281.0 1597.9L1284.6 1605.7M1322.1 1610.2L1304.0 1614.8M1290.5 1618.3L1298.2 1629.6M1246.9 1610.9L1269.9 1602.1M1224.1 1608.5L1221.3 1621.5M1213.5 1596.2L1225.2 1596.2M1204.4 1610.9L1212.3 1623.1M1229.4 1582.1L1232.2 1587.3M1163.3 1601.4L1192.4 1608.1M1117.6 1662.3L1128.8 1664.7M1274.6 1150.3L1283.2 1172.3M1304.2 1151.4L1296.2 1172.3M1256.3 1183.1L1272.0 1186.0M1274.9 1203.9L1264.4 1192.2M1274.9 1203.9L1269.8 1209.5M1256.3 1183.1L1260.0 1206.3M1289.8 1189.2L1307.2 1234.8M1340.4 1205.6L1325.3 1235.7M1274.9 1203.9L1279.1 1262.7M1261.9 1218.3L1274.4 1263.5M1255.9 1252.6L1266.6 1267.2M1221.6 1266.5L1220.5 1272.8M1218.2 1286.0L1256.6 1286.5M1221.6 1266.5L1257.9 1279.0M1280.8 1286.8L1263.0 1262.3M1315.2 1255.8L1339.6 1252.8M1315.2 1255.8L1355.5 1266.0M1287.6 1269.0L1294.9 1265.5M1280.8 1286.8L1270.0 1292.1M1280.8 1286.8L1244.6 1318.3M1339.2 1297.4L1361.7 1292.7M1339.2 1297.4L1358.7 1277.6M1339.2 1297.4L1383.1 1315.3M1339.2 1297.4L1367.5 1310.5M1310.4 1358.7L1299.4 1348.1M1310.4 1358.7L1307.4 1356.2M1310.4 1358.7L1314.7 1353.4M1367.1 1346.0L1406.4 1367.3M1396.4 1392.9L1374.7 1358.2M1310.4 1358.7L1277.6 1387.9M1310.4 1358.7L1296.3 1398.4M1310.4 1358.7L1317.4 1400.9M1329.9 1310.5L1336.0 1319.9M1356.4 1333.0L1358.9 1336.0M1339.2 1297.4L1375.0 1303.9M1387.4 1306.2L1392.4 1323.0M1382.8 1332.5L1378.0 1336.6M1335.0 1344.3L1325.0 1350.2M1280.8 1286.8L1289.5 1308.2M1293.8 1300.3L1293.9 1307.8M1294.0 1319.3L1303.9 1343.1M1329.9 1310.5L1333.2 1332.4M1342.6 1330.0L1342.3 1351.6M1356.4 1333.0L1370.6 1332.7M1373.4 1290.2L1379.1 1296.7M1367.1 1269.0L1388.6 1309.2M1315.2 1255.8L1329.8 1281.0M1280.8 1286.8L1283.9 1290.0M1293.8 1300.3L1314.8 1306.2M1304.0 1266.5L1299.0 1270.9M1297.2 1255.5L1293.6 1255.4M1309.6 1291.9L1318.3 1299.9M1313.0 1273.6L1325.2 1284.7M1298.9 1279.2L1302.9 1277.5M1324.0 1284.3L1326.5 1295.2M1338.7 1274.4L1338.8 1278.5M1315.2 1255.8L1298.8 1270.6M1329.9 1310.5L1346.0 1324.2M1293.8 1300.3L1305.8 1342.4M1235.5 1326.2L1294.9 1352.0M1280.8 1286.8L1297.7 1289.8M1298.9 1279.2L1302.8 1283.8M1304.0 1266.5L1306.3 1268.3M1339.2 1297.4L1307.5 1340.4M1329.9 1310.5L1324.6 1332.7M1342.6 1330.0L1355.0 1338.1M1378.4 1315.6L1372.1 1332.5M1339.2 1297.4L1385.8 1327.9M1351.5 1251.4L1344.1 1279.1M1315.2 1255.8L1328.7 1266.5M1287.6 1269.0L1312.8 1279.6M1297.2 1255.5L1305.0 1264.4M1259.2 1297.3L1299.6 1345.7M1280.8 1286.8L1296.7 1338.5M1293.8 1300.3L1291.6 1327.5M1356.4 1333.0L1347.3 1352.7M1342.6 1330.0L1302.6 1337.5M1329.9 1310.5L1371.5 1327.8M1367.1 1346.0L1352.1 1356.7M1339.2 1297.4L1350.5 1320.8M1315.2 1255.8L1325.8 1295.3M1304.0 1266.5L1307.0 1280.1M1342.6 1330.0L1331.8 1337.6M1300.3 1350.2L1295.7 1315.1M1298.9 1279.2L1329.2 1333.8M1378.4 1315.6L1380.0 1321.8M1321.8 1344.6L1332.7 1315.1M1335.0 1344.3L1320.1 1277.8M1378.4 1315.6L1321.0 1295.8M1300.3 1350.2L1331.7 1335.2M1356.4 1333.0L1347.3 1352.7M1378.4 1315.6L1311.5 1345.3M1300.3 1350.2L1367.4 1320.5M1338.7 1274.4L1375.4 1322.8M1293.8 1300.3L1332.3 1323.7M1382.8 1332.5L1307.8 1305.4M1290.6 1339.7L1331.2 1284.6M1315.2 1255.8L1387.2 1326.1M1339.2 1297.4L1313.9 1275.2M1321.8 1344.6L1294.8 1306.5M1287.6 1269.0L1294.9 1265.5M1309.6 1291.9L1367.1 1311.7M1335.0 1344.3L1338.0 1287.1M1342.2 1363.8L1326.7 1296.2M1338.7 1274.4L1324.7 1332.7M1294.0 1319.3L1294.0 1314.7M1298.9 1279.2L1318.9 1299.3M1280.8 1286.8L1283.9 1290.0M1378.4 1315.6L1367.1 1324.6M1309.6 1291.9L1385.0 1329.2M1324.0 1284.3L1373.4 1324.8M1287.6 1269.0L1312.8 1279.6M1290.6 1339.7L1331.2 1284.6M1321.8 1344.6L1303.0 1290.8M1300.3 1350.2L1310.0 1347.7M1324.0 1284.3L1322.2 1332.4M1342.6 1330.0L1318.7 1284.4M1395.8 1334.5L1331.3 1271.5M1309.6 1291.9L1329.8 1333.5M1395.8 1334.5L1352.9 1357.9M1304.0 1266.5L1337.7 1352.4M1313.0 1273.6L1302.3 1338.2M1321.8 1344.6L1326.3 1325.8M1342.2 1363.8L1373.1 1339.9M1356.4 1333.0L1370.6 1332.7M1321.8 1344.6L1312.3 1303.7M1287.6 1269.0L1318.7 1299.5M1339.2 1297.4L1367.5 1310.5M1382.8 1332.5L1381.1 1326.1M1339.2 1297.4L1310.1 1284.3M1339.2 1297.4L1333.2 1292.2M1293.8 1300.3L1305.4 1276.1M1287.6 1269.0L1312.8 1279.6M1324.0 1284.3L1326.5 1295.2M1280.8 1286.8L1326.8 1335.6M1335.0 1344.3L1297.4 1304.4M1338.7 1274.4L1341.7 1351.6M1321.8 1344.6L1314.5 1285.7M1300.3 1350.2L1307.7 1303.8M1290.6 1339.7L1330.7 1332.2M1280.8 1286.8L1283.4 1280.0M1315.2 1255.8L1329.8 1281.0M1329.9 1310.5L1333.2 1332.4M1300.3 1350.2L1287.9 1309.9M1356.4 1333.0L1330.8 1294.5M1287.6 1269.0L1328.6 1334.1M1309.6 1291.9L1306.1 1293.8M1342.2 1363.8L1295.9 1305.7M1313.0 1273.6L1308.4 1275.4M1293.8 1300.3L1327.7 1280.7M1338.7 1274.4L1302.5 1310.8M1290.6 1339.7L1331.2 1284.6" stroke="#A6A6A6" stroke-width="2.2" fill="none"/>
<path d="M1044.1 1153.9L1038.2 1146.8L1045.3 1144.7ZM1041.1 1130.4L1050.2 1128.3L1048.8 1135.6ZM1056.4 1139.5L1055.9 1148.8L1049.3 1145.5ZM1016.8 1156.1L1025.7 1153.7L1024.6 1161.0ZM1052.5 1162.4L1061.7 1161.4L1059.5 1168.4ZM1033.1 1182.4L1034.2 1173.2L1040.6 1176.9ZM1061.4 1183.4L1053.6 1178.4L1059.7 1174.3ZM1065.3 1183.4L1066.7 1174.2L1073.0 1178.1ZM1152.1 1121.6L1145.6 1115.0L1152.5 1112.4ZM1133.9 1133.5L1140.1 1126.7L1143.1 1133.4ZM1124.4 1134.0L1115.1 1134.9L1117.4 1127.9ZM1156.7 1124.5L1164.8 1120.0L1165.5 1127.4ZM1223.9 1113.6L1221.9 1122.6L1215.9 1118.3ZM956.3 1198.1L957.2 1188.9L963.6 1192.5ZM1131.8 1197.4L1122.7 1195.9L1126.6 1189.7ZM1140.6 1197.4L1145.7 1189.7L1149.7 1195.9ZM1125.5 1221.3L1126.1 1212.0L1132.7 1215.4ZM940.5 1244.7L931.6 1242.1L936.4 1236.4ZM1001.9 1259.9L993.0 1257.3L997.8 1251.6ZM1073.2 1238.1L1074.7 1228.9L1080.9 1233.0ZM898.6 1290.7L897.5 1281.5L904.6 1283.6ZM890.6 1314.6L889.8 1305.3L896.8 1307.7ZM966.0 1304.8L956.8 1304.5L959.9 1297.8ZM981.3 1322.9L973.3 1318.2L979.3 1313.8ZM1063.2 1289.0L1059.8 1280.4L1067.2 1280.6ZM1059.0 1302.7L1057.6 1311.8L1051.4 1307.9ZM1066.0 1303.2L1072.8 1309.4L1066.1 1312.4ZM1029.8 1332.6L1034.6 1324.6L1038.9 1330.7ZM1052.4 1319.7L1061.0 1316.1L1060.8 1323.5ZM1124.5 1298.1L1119.3 1290.4L1126.5 1289.0ZM949.0 1360.0L940.4 1356.6L945.6 1351.4ZM907.6 1377.9L898.9 1374.7L904.0 1369.4ZM1003.4 1403.6L1000.4 1394.8L1007.8 1395.4ZM878.6 1417.8L873.0 1410.4L880.2 1408.7ZM1161.1 1348.4L1166.9 1341.2L1170.4 1347.8ZM1137.9 1358.1L1144.4 1351.5L1147.1 1358.4ZM1090.6 1405.3L1092.4 1397.0L1098.2 1401.6ZM1107.1 1436.0L1101.8 1428.4L1109.1 1426.9ZM1105.6 1436.6L1097.9 1431.5L1104.1 1427.5ZM1101.6 1396.8L1109.9 1398.2L1105.6 1404.2ZM1111.9 1438.2L1117.7 1431.0L1121.1 1437.5ZM1144.8 1441.0L1136.2 1444.6L1136.4 1437.2ZM1103.7 1441.3L1096.2 1446.7L1094.6 1439.5ZM1093.5 1462.6L1084.4 1464.6L1085.9 1457.3ZM1106.2 1444.3L1106.2 1453.6L1099.4 1450.6ZM1105.7 1444.0L1104.4 1453.2L1098.1 1449.4ZM1102.0 1464.7L1111.2 1463.5L1109.2 1470.6ZM1090.8 1476.4L1100.0 1475.8L1097.5 1482.7ZM1061.9 1497.6L1065.7 1489.1L1070.7 1494.6ZM1085.8 1470.8L1080.5 1463.2L1087.7 1461.7ZM1078.4 1448.9L1076.9 1456.3L1071.3 1451.4ZM1100.1 1467.2L1107.8 1472.4L1101.6 1476.4ZM1147.5 1437.8L1142.1 1430.3L1149.3 1428.7ZM915.4 1451.0L906.1 1451.0L909.0 1444.2ZM921.8 1451.3L928.6 1445.4L930.7 1452.5ZM959.8 1461.3L964.9 1453.6L968.9 1459.8ZM925.3 1472.3L932.6 1466.6L934.4 1473.8ZM947.1 1466.8L939.8 1472.5L938.0 1465.3ZM919.4 1476.3L917.5 1485.4L911.5 1481.1ZM952.2 1498.7L948.9 1490.0L956.3 1490.4ZM971.6 1484.5L963.1 1480.7L968.6 1475.7ZM987.3 1510.1L979.8 1504.6L986.2 1500.9ZM947.3 1462.7L938.1 1463.3L940.6 1456.3ZM949.2 1459.9L940.8 1456.0L946.3 1451.1ZM947.7 1468.3L943.9 1474.4L940.6 1467.8ZM919.0 1455.7L923.9 1463.5L916.6 1464.6ZM921.1 1454.5L929.9 1457.3L925.1 1462.9ZM923.5 1469.9L924.7 1460.7L931.0 1464.5ZM997.5 1547.7L988.8 1544.4L993.9 1539.1ZM1003.5 1547.6L1006.9 1539.0L1012.1 1544.3ZM1024.7 1553.9L1015.8 1556.4L1016.8 1549.1ZM998.2 1554.1L996.5 1563.2L990.4 1559.1ZM1001.8 1554.6L1008.0 1561.5L1000.9 1563.8ZM1005.0 1574.8L996.6 1578.6L996.4 1571.2ZM1056.0 1553.2L1047.7 1557.3L1047.4 1549.9ZM1076.9 1566.6L1068.0 1564.4L1072.5 1558.5ZM1081.2 1592.6L1077.0 1584.3L1084.4 1583.9ZM1081.4 1618.3L1077.7 1609.8L1085.1 1609.8ZM1031.7 1623.6L1022.8 1625.9L1024.0 1618.6ZM1137.0 1665.9L1127.9 1668.0L1129.2 1660.8ZM1025.7 1556.8L1022.5 1565.5L1017.2 1560.4ZM1027.1 1551.1L1021.1 1544.1L1028.2 1541.9ZM1346.8 1468.7L1346.9 1459.4L1353.7 1462.5ZM1330.1 1491.5L1320.9 1491.3L1324.0 1484.6ZM1338.8 1484.3L1338.0 1493.1L1331.6 1489.4ZM1333.3 1497.2L1336.3 1504.9L1328.9 1504.2ZM1327.8 1514.1L1323.4 1522.2L1318.8 1516.4ZM1334.4 1515.5L1341.6 1521.4L1335.1 1524.8ZM1348.2 1484.0L1356.0 1488.9L1349.9 1493.1ZM1355.2 1500.2L1349.0 1507.1L1345.9 1500.4ZM1329.2 1506.3L1321.5 1501.1L1327.8 1497.2ZM1196.4 1494.8L1198.6 1485.8L1204.5 1490.3ZM1263.3 1494.9L1271.2 1490.1L1272.2 1497.5ZM1230.1 1578.8L1228.3 1569.7L1235.5 1571.2ZM1209.4 1590.6L1201.3 1585.9L1207.3 1581.5ZM1159.7 1597.9L1151.0 1594.7L1156.2 1589.4ZM1206.5 1596.9L1198.5 1601.5L1197.7 1594.1ZM1164.7 1606.2L1170.6 1613.4L1163.4 1615.4ZM1221.9 1605.9L1214.6 1603.2L1220.2 1598.3ZM1218.7 1591.6L1222.6 1583.1L1227.6 1588.7ZM1243.9 1606.4L1236.7 1602.3L1242.9 1598.2ZM1235.5 1617.1L1240.5 1610.2L1244.1 1616.7ZM1227.2 1623.7L1224.9 1631.8L1219.4 1626.9ZM1225.8 1611.4L1231.8 1614.2L1225.5 1618.0ZM1209.8 1602.2L1209.1 1610.3L1202.8 1606.4ZM1288.2 1613.4L1281.3 1607.3L1288.0 1604.1ZM1295.7 1617.0L1303.0 1611.3L1304.9 1618.4ZM1303.0 1636.6L1295.1 1631.7L1301.2 1627.5ZM1277.8 1599.1L1271.2 1605.6L1268.6 1598.7ZM1219.5 1629.8L1217.7 1620.7L1224.9 1622.2ZM1233.7 1596.2L1225.2 1599.9L1225.2 1592.5ZM1216.9 1630.2L1209.2 1625.1L1215.4 1621.1ZM1235.5 1593.2L1229.0 1589.1L1235.5 1585.5ZM1200.7 1610.0L1191.6 1611.7L1193.2 1604.5ZM1137.1 1666.5L1128.0 1668.3L1129.5 1661.1ZM1286.3 1180.3L1279.8 1173.7L1286.7 1171.0ZM1293.2 1180.2L1292.8 1171.0L1299.7 1173.6ZM1280.4 1187.5L1271.3 1189.6L1272.7 1182.3ZM1258.8 1185.9L1267.2 1189.7L1261.7 1194.7ZM1264.4 1215.6L1267.1 1207.0L1272.6 1212.0ZM1261.3 1214.6L1256.3 1206.8L1263.6 1205.7ZM1310.2 1242.7L1303.7 1236.1L1310.6 1233.5ZM1321.5 1243.3L1322.0 1234.0L1328.6 1237.4ZM1279.7 1271.1L1275.4 1262.9L1282.8 1262.4ZM1276.6 1271.7L1270.8 1264.5L1277.9 1262.5ZM1271.6 1274.1L1263.6 1269.4L1269.5 1265.1ZM1219.1 1281.0L1216.9 1272.2L1224.1 1273.4ZM1265.1 1286.6L1256.6 1290.2L1256.6 1282.8ZM1265.9 1281.7L1256.7 1282.5L1259.1 1275.5ZM1258.0 1255.4L1266.0 1260.1L1260.0 1264.5ZM1348.0 1251.8L1340.0 1256.5L1339.1 1249.2ZM1363.7 1268.1L1354.6 1269.6L1356.4 1262.5ZM1302.6 1261.8L1296.5 1268.8L1293.3 1262.2ZM1262.3 1295.8L1268.4 1288.7L1271.6 1295.4ZM1238.1 1323.9L1242.1 1315.5L1247.0 1321.1ZM1370.0 1290.9L1362.4 1296.3L1360.9 1289.1ZM1364.6 1271.5L1361.3 1280.2L1356.1 1275.0ZM1391.0 1318.5L1381.7 1318.7L1384.5 1311.8ZM1375.2 1314.1L1366.0 1313.9L1369.1 1307.2ZM1293.3 1342.3L1302.0 1345.5L1296.8 1350.8ZM1303.1 1352.6L1309.8 1353.3L1305.0 1359.0ZM1319.5 1347.5L1317.6 1355.7L1311.8 1351.1ZM1413.9 1371.3L1404.7 1370.5L1408.2 1364.0ZM1370.2 1351.0L1377.9 1356.3L1371.6 1360.2ZM1271.2 1393.6L1275.1 1385.2L1280.0 1390.7ZM1293.5 1406.4L1292.8 1397.2L1299.8 1399.6ZM1318.8 1409.2L1313.8 1401.5L1321.1 1400.3ZM1340.6 1327.0L1332.9 1321.9L1339.1 1317.8ZM1363.4 1341.4L1356.0 1338.3L1361.7 1333.6ZM1383.4 1305.5L1374.3 1307.6L1375.7 1300.3ZM1394.8 1331.1L1388.8 1324.0L1395.9 1321.9ZM1371.6 1342.2L1375.6 1333.8L1380.4 1339.4ZM1317.6 1354.5L1323.1 1347.0L1326.9 1353.4ZM1292.7 1316.1L1286.1 1309.6L1292.9 1306.8ZM1294.0 1315.8L1290.2 1307.9L1297.6 1307.8ZM1307.2 1350.9L1300.5 1344.5L1307.3 1341.7ZM1334.5 1340.8L1329.6 1333.0L1336.9 1331.9ZM1342.2 1360.1L1338.6 1351.6L1346.0 1351.6ZM1379.1 1332.6L1370.7 1336.4L1370.5 1329.0ZM1384.7 1303.1L1376.3 1299.2L1381.9 1294.3ZM1392.6 1316.7L1385.3 1311.0L1391.8 1307.5ZM1334.0 1288.4L1326.6 1282.9L1333.0 1279.2ZM1289.4 1295.7L1281.2 1292.6L1286.6 1287.5ZM1323.0 1308.5L1313.8 1309.8L1315.8 1302.7ZM1292.6 1276.5L1296.6 1268.1L1301.4 1273.6ZM1301.2 1255.6L1293.6 1259.1L1293.7 1251.7ZM1324.6 1305.6L1315.8 1302.6L1320.8 1297.2ZM1331.5 1290.4L1322.7 1287.4L1327.7 1282.0ZM1295.3 1280.7L1301.4 1274.1L1304.3 1280.9ZM1328.3 1303.5L1322.8 1296.0L1330.1 1294.4ZM1339.0 1287.0L1335.1 1278.6L1342.5 1278.4ZM1292.5 1276.3L1296.3 1267.9L1301.3 1273.3ZM1352.5 1329.7L1343.6 1327.0L1348.4 1321.4ZM1308.1 1350.6L1302.2 1343.5L1309.3 1341.4ZM1302.7 1355.4L1293.4 1355.4L1296.4 1348.6ZM1306.1 1291.3L1297.0 1293.4L1298.3 1286.1ZM1307.3 1289.1L1300.0 1286.2L1305.6 1281.4ZM1310.1 1271.3L1304.0 1271.2L1308.6 1265.4ZM1302.5 1347.2L1304.6 1338.2L1310.5 1342.6ZM1322.7 1341.0L1321.0 1331.9L1328.2 1333.6ZM1362.2 1342.8L1353.0 1341.2L1357.1 1335.0ZM1369.2 1340.5L1368.6 1331.2L1375.6 1333.8ZM1392.9 1332.6L1383.7 1331.0L1387.8 1324.8ZM1341.9 1287.4L1340.5 1278.2L1347.7 1280.1ZM1335.4 1271.8L1326.4 1269.4L1331.0 1263.6ZM1320.6 1282.9L1311.3 1283.0L1314.2 1276.2ZM1310.6 1270.8L1302.2 1266.8L1307.8 1262.0ZM1305.0 1352.2L1296.7 1348.1L1302.4 1343.4ZM1299.2 1346.7L1293.2 1339.6L1300.2 1337.5ZM1290.9 1336.0L1287.9 1327.2L1295.3 1327.8ZM1343.7 1360.4L1343.9 1351.2L1350.7 1354.3ZM1294.2 1339.0L1301.9 1333.8L1303.3 1341.1ZM1379.4 1331.1L1370.1 1331.2L1373.0 1324.4ZM1345.2 1361.6L1350.0 1353.7L1354.3 1359.7ZM1354.2 1328.4L1347.2 1322.4L1353.8 1319.1ZM1328.0 1303.5L1322.3 1296.3L1329.4 1294.4ZM1308.8 1288.4L1303.4 1280.9L1310.6 1279.3ZM1324.8 1342.5L1329.7 1334.6L1333.9 1340.6ZM1294.6 1306.6L1299.4 1314.6L1292.1 1315.6ZM1333.3 1341.2L1325.9 1335.6L1332.4 1332.0ZM1381.9 1328.9L1376.4 1322.8L1383.6 1320.9ZM1335.6 1307.2L1336.1 1316.4L1329.2 1313.9ZM1318.3 1269.5L1323.7 1276.9L1316.5 1278.6ZM1313.0 1293.1L1322.2 1292.3L1319.8 1299.3ZM1339.4 1331.6L1333.3 1338.6L1330.1 1331.9ZM1343.7 1360.4L1343.9 1351.2L1350.7 1354.3ZM1303.7 1348.7L1310.0 1341.9L1313.0 1348.6ZM1375.2 1317.0L1368.9 1323.8L1365.9 1317.1ZM1380.6 1329.6L1372.5 1325.0L1378.4 1320.5ZM1339.5 1328.1L1330.3 1326.9L1334.2 1320.5ZM1299.8 1302.5L1309.1 1301.9L1306.6 1308.8ZM1336.2 1277.8L1334.1 1286.8L1328.2 1282.4ZM1393.3 1332.1L1384.6 1328.8L1389.8 1323.5ZM1307.5 1269.6L1316.4 1272.4L1311.5 1278.0ZM1289.9 1299.6L1297.8 1304.4L1291.8 1308.7ZM1302.6 1261.8L1296.5 1268.8L1293.3 1262.2ZM1375.1 1314.5L1365.8 1315.2L1368.3 1308.2ZM1338.5 1278.6L1341.7 1287.3L1334.3 1286.9ZM1324.8 1287.9L1330.3 1295.4L1323.1 1297.0ZM1322.7 1341.0L1321.1 1331.9L1328.3 1333.6ZM1293.9 1306.7L1297.7 1314.6L1290.3 1314.7ZM1324.8 1305.4L1316.2 1301.9L1321.5 1296.7ZM1289.4 1295.7L1281.2 1292.6L1286.6 1287.5ZM1360.4 1329.8L1364.8 1321.7L1369.4 1327.5ZM1392.7 1332.9L1383.4 1332.5L1386.7 1325.9ZM1379.9 1330.2L1371.0 1327.6L1375.7 1321.9ZM1320.6 1282.9L1311.3 1283.0L1314.2 1276.2ZM1336.2 1277.8L1334.1 1286.8L1328.2 1282.4ZM1300.2 1282.8L1306.5 1289.6L1299.5 1292.0ZM1318.2 1345.5L1310.9 1351.3L1309.1 1344.1ZM1321.9 1340.9L1318.5 1332.3L1325.9 1332.5ZM1314.7 1276.9L1321.9 1282.7L1315.4 1286.1ZM1325.2 1265.6L1333.9 1268.9L1328.7 1274.2ZM1333.5 1341.2L1326.4 1335.1L1333.1 1331.9ZM1345.4 1362.0L1351.1 1354.7L1354.7 1361.2ZM1340.8 1360.4L1334.3 1353.8L1341.2 1351.1ZM1300.9 1346.5L1298.6 1337.6L1305.9 1338.8ZM1328.2 1317.5L1329.9 1326.6L1322.7 1324.9ZM1379.9 1334.8L1375.4 1342.9L1370.9 1337.0ZM1379.1 1332.6L1370.7 1336.4L1370.5 1329.0ZM1310.4 1295.4L1315.9 1302.9L1308.7 1304.5ZM1324.8 1305.5L1316.1 1302.1L1321.3 1296.9ZM1375.2 1314.1L1366.0 1313.9L1369.1 1307.2ZM1379.3 1319.0L1384.7 1325.2L1377.5 1327.0ZM1302.4 1280.8L1311.6 1280.9L1308.6 1287.6ZM1326.8 1286.7L1335.6 1289.4L1330.8 1295.0ZM1309.1 1268.4L1308.8 1277.7L1302.1 1274.5ZM1320.6 1282.9L1311.3 1283.0L1314.2 1276.2ZM1328.3 1303.5L1322.8 1296.0L1330.1 1294.4ZM1332.6 1341.8L1324.1 1338.1L1329.5 1333.0ZM1291.6 1298.2L1300.1 1301.9L1294.7 1306.9ZM1342.1 1360.1L1338.0 1351.8L1345.4 1351.5ZM1313.5 1277.3L1318.2 1285.3L1310.8 1286.2ZM1309.0 1295.5L1311.3 1304.4L1304.0 1303.3ZM1339.1 1330.7L1331.4 1335.9L1330.0 1328.6ZM1286.2 1272.5L1286.8 1281.3L1279.9 1278.7ZM1334.0 1288.4L1326.6 1282.9L1333.0 1279.2ZM1334.5 1340.8L1329.6 1333.0L1336.9 1331.9ZM1285.4 1301.8L1291.5 1308.8L1284.4 1311.0ZM1326.0 1287.4L1333.8 1292.4L1327.7 1296.5ZM1333.1 1341.3L1325.5 1336.1L1331.7 1332.2ZM1299.5 1297.3L1304.4 1290.5L1307.8 1297.0ZM1290.6 1299.1L1298.8 1303.4L1293.0 1308.0ZM1302.4 1277.8L1307.0 1272.0L1309.7 1278.9ZM1335.1 1276.5L1329.5 1284.0L1325.9 1277.5ZM1296.5 1316.8L1299.8 1308.2L1305.1 1313.4ZM1336.2 1277.8L1334.1 1286.8L1328.2 1282.4Z" fill="#A6A6A6"/>
<circle cx="1046" cy="1160.4" r="5.00" fill="#C4357A" stroke="#000" stroke-width="2.0"/>
<circle cx="1059.2" cy="1133.8" r="4.85" fill="#C4357A" stroke="#000" stroke-width="1.5"/>
<circle cx="1037" cy="1129.6" r="3.4"/><circle cx="1037" cy="1129.6" r="1.70" fill="#C4357A"/>
<circle cx="1013.4" cy="1155.6" r="2.6"/>
<circle cx="1074.3" cy="1169.1" r="2.6"/>
<circle cx="1031.4" cy="1185.3" r="2.6"/>
<circle cx="1063.4" cy="1186.4" r="2.8"/><circle cx="1063.4" cy="1186.4" r="1.26" fill="#F5EC8E"/>
<circle cx="1144.4" cy="1101.8" r="3.2"/><circle cx="1144.4" cy="1101.8" r="1.60" fill="#C4357A"/>
<circle cx="1153.3" cy="1124.8" r="2.6"/>
<circle cx="1129.2" cy="1135.6" r="4.3"/>
<circle cx="1106.3" cy="1128.1" r="2.6"/>
<circle cx="1177.7" cy="1122.5" r="2.6"/>
<circle cx="1226.5" cy="1110" r="3.6"/>
<circle cx="1213.4" cy="1128.1" r="3.3"/><circle cx="1213.4" cy="1128.1" r="1.65" fill="#C4357A"/>
<circle cx="965.4" cy="1181.7" r="2.6"/>
<circle cx="954.6" cy="1201.1" r="2.6"/>
<circle cx="1115.7" cy="1187.1" r="2.6"/>
<circle cx="1136.2" cy="1200.2" r="3.65" fill="#C4357A" stroke="#000" stroke-width="1.5"/>
<circle cx="1158.1" cy="1186.1" r="3.4"/><circle cx="1158.1" cy="1186.1" r="1.70" fill="#C4357A"/>
<circle cx="1124" cy="1224.3" r="2.6"/>
<circle cx="927.8" cy="1234.1" r="3.3"/><circle cx="927.8" cy="1234.1" r="1.65" fill="#C4357A"/>
<circle cx="944.6" cy="1248.1" r="4.5"/>
<circle cx="987.3" cy="1247.6" r="3.9"/>
<circle cx="1004.5" cy="1262.1" r="2.6"/>
<circle cx="1083.8" cy="1221.9" r="2.6"/>
<circle cx="1071.3" cy="1240.9" r="2.6"/>
<circle cx="904.2" cy="1272" r="2.6"/>
<circle cx="897.4" cy="1294.6" r="3.3"/><circle cx="897.4" cy="1294.6" r="1.65" fill="#C4357A"/>
<circle cx="889.5" cy="1317.8" r="2.6"/>
<circle cx="947.4" cy="1296.1" r="3.6"/>
<circle cx="969.1" cy="1306.2" r="2.6"/>
<circle cx="983.3" cy="1325.6" r="2.6"/>
<circle cx="1063.8" cy="1269" r="2.6"/>
<circle cx="1063" cy="1296.4" r="5.60" fill="#C4357A" stroke="#000" stroke-width="2.0"/>
<circle cx="1048.3" cy="1319.6" r="3.3"/><circle cx="1048.3" cy="1319.6" r="1.65" fill="#C4357A"/>
<circle cx="1073.5" cy="1320" r="2.6"/>
<circle cx="1027" cy="1334.5" r="2.6"/>
<circle cx="1120.5" cy="1277" r="2.6"/>
<circle cx="1125.1" cy="1301.4" r="2.6"/>
<circle cx="935.2" cy="1346.1" r="2.6"/>
<circle cx="951.4" cy="1362.4" r="2.6"/>
<circle cx="892.6" cy="1363.5" r="2.6"/>
<circle cx="910" cy="1380.3" r="2.6"/>
<circle cx="1004.9" cy="1385.2" r="2.6"/>
<circle cx="1003.1" cy="1407" r="2.6"/>
<circle cx="874.4" cy="1400.1" r="2.6"/>
<circle cx="879.4" cy="1421.1" r="2.6"/>
<circle cx="1180" cy="1338.6" r="3.4"/><circle cx="1180" cy="1338.6" r="1.70" fill="#C4357A"/>
<circle cx="1158.1" cy="1350" r="2.6"/>
<circle cx="1134.7" cy="1359.4" r="2.6"/>
<circle cx="1098.8" cy="1394.8" r="2.6"/>
<circle cx="1087.7" cy="1409.1" r="4.0"/>
<circle cx="1113.5" cy="1405.4" r="2.6"/>
<circle cx="1108" cy="1440.3" r="3.6"/><circle cx="1108" cy="1440.3" r="1.80" fill="#C4357A"/>
<circle cx="1143.9" cy="1421.3" r="2.6"/>
<circle cx="1148.2" cy="1441.1" r="2.6"/>
<circle cx="1080.7" cy="1446.4" r="2.6"/>
<circle cx="1070.4" cy="1458" r="2.8"/><circle cx="1070.4" cy="1458" r="1.26" fill="#F5EC8E"/>
<circle cx="1097.8" cy="1463.5" r="3.6"/><circle cx="1097.8" cy="1463.5" r="1.80" fill="#C4357A"/>
<circle cx="1086.7" cy="1475" r="3.5"/><circle cx="1086.7" cy="1475" r="1.75" fill="#C4357A"/>
<circle cx="1120.5" cy="1470" r="2.6"/>
<circle cx="1110.3" cy="1483.3" r="2.6"/>
<circle cx="1059.4" cy="1499.9" r="2.6"/>
<circle cx="937.3" cy="1446.6" r="4.6"/>
<circle cx="953.9" cy="1465.1" r="5.20" fill="#C4357A" stroke="#000" stroke-width="2.0"/>
<circle cx="941" cy="1471.7" r="2.8"/><circle cx="941" cy="1471.7" r="1.40" fill="#C4357A"/>
<circle cx="889.3" cy="1439.7" r="2.6"/>
<circle cx="918.5" cy="1452.3" r="2.6"/>
<circle cx="982.7" cy="1446.6" r="2.6"/>
<circle cx="921.6" cy="1473.2" r="3.0"/>
<circle cx="904.4" cy="1497.4" r="2.6"/>
<circle cx="952" cy="1502.1" r="2.6"/>
<circle cx="973.9" cy="1487" r="2.6"/>
<circle cx="989" cy="1513" r="2.6"/>
<circle cx="979.5" cy="1530.3" r="2.6"/>
<circle cx="1000.5" cy="1550.6" r="3.4"/><circle cx="1000.5" cy="1550.6" r="1.70" fill="#C4357A"/>
<circle cx="1020.9" cy="1530.3" r="2.6"/>
<circle cx="1028.1" cy="1554.4" r="2.6"/>
<circle cx="984.2" cy="1575.1" r="2.6"/>
<circle cx="1008.4" cy="1574.7" r="2.6"/>
<circle cx="1059.4" cy="1553.1" r="2.6"/>
<circle cx="1079.8" cy="1568.8" r="2.8"/><circle cx="1079.8" cy="1568.8" r="1.26" fill="#F5EC8E"/>
<circle cx="1081.4" cy="1596" r="2.6"/>
<circle cx="1081.4" cy="1621.7" r="2.6"/>
<circle cx="1013.1" cy="1620.5" r="2.6"/>
<circle cx="1035.3" cy="1624.2" r="2.8"/><circle cx="1035.3" cy="1624.2" r="1.26" fill="#F5EC8E"/>
<circle cx="1118" cy="1662.5" r="2.6"/>
<circle cx="1140.3" cy="1666.5" r="2.6"/>
<circle cx="1289.8" cy="1189.2" r="7.80" fill="#C4357A" stroke="#000" stroke-width="2.0"/>
<circle cx="1315.2" cy="1255.8" r="12.20" fill="#C4357A" stroke="#000" stroke-width="2.0"/>
<circle cx="1280.8" cy="1286.8" r="13.90" fill="#C4357A" stroke="#000" stroke-width="2.0"/>
<circle cx="1339.2" cy="1297.4" r="8.60" fill="#C4357A" stroke="#000" stroke-width="2.0"/>
<circle cx="1329.9" cy="1310.5" r="5.40" fill="#C4357A" stroke="#000" stroke-width="2.0"/>
<circle cx="1293.8" cy="1300.3" r="4.85" fill="#C4357A" stroke="#000" stroke-width="1.5"/>
<circle cx="1304" cy="1266.5" r="3.15" fill="#C4357A" stroke="#000" stroke-width="1.5"/>
<circle cx="1310.4" cy="1358.7" r="6.60" fill="#C4357A" stroke="#000" stroke-width="2.0"/>
<circle cx="1367.1" cy="1346" r="4.35" fill="#C4357A" stroke="#000" stroke-width="1.5"/>
<circle cx="1356.4" cy="1333" r="3.55" fill="#C4357A" stroke="#000" stroke-width="1.5"/>
<circle cx="1218.2" cy="1286" r="3.55" fill="#C4357A" stroke="#000" stroke-width="1.5"/>
<circle cx="1387.4" cy="1306.2" r="3.3"/><circle cx="1387.4" cy="1306.2" r="1.65" fill="#C4357A"/>
<circle cx="1342.6" cy="1330" r="2.8"/><circle cx="1342.6" cy="1330" r="1.40" fill="#C4357A"/>
<circle cx="1261.9" cy="1218.3" r="2.9"/><circle cx="1261.9" cy="1218.3" r="1.45" fill="#C4357A"/>
<circle cx="1297.2" cy="1255.5" r="2.8"/><circle cx="1297.2" cy="1255.5" r="1.40" fill="#C4357A"/>
<circle cx="1309.6" cy="1291.9" r="2.8"/><circle cx="1309.6" cy="1291.9" r="1.40" fill="#C4357A"/>
<circle cx="1274.6" cy="1150.3" r="3.6"/>
<circle cx="1304.2" cy="1151.4" r="2.9"/><circle cx="1304.2" cy="1151.4" r="1.30" fill="#F5EC8E"/>
<circle cx="1256.3" cy="1183.1" r="2.9"/><circle cx="1256.3" cy="1183.1" r="1.30" fill="#F5EC8E"/>
<circle cx="1274.9" cy="1203.9" r="2.7"/>
<circle cx="1340.4" cy="1205.6" r="2.7"/>
<circle cx="1255.9" cy="1252.6" r="2.7"/>
<circle cx="1351.5" cy="1251.4" r="2.7"/>
<circle cx="1221.6" cy="1266.5" r="2.7"/>
<circle cx="1287.6" cy="1269" r="3.0"/>
<circle cx="1313" cy="1273.6" r="2.9"/><circle cx="1313" cy="1273.6" r="1.30" fill="#F5EC8E"/>
<circle cx="1298.9" cy="1279.2" r="3.0"/><circle cx="1298.9" cy="1279.2" r="1.35" fill="#F5EC8E"/>
<circle cx="1338.7" cy="1274.4" r="3.4"/>
<circle cx="1367.1" cy="1269" r="2.7"/>
<circle cx="1324" cy="1284.3" r="2.9"/><circle cx="1324" cy="1284.3" r="1.30" fill="#F5EC8E"/>
<circle cx="1373.4" cy="1290.2" r="2.7"/>
<circle cx="1259.2" cy="1297.3" r="2.7"/>
<circle cx="1235.5" cy="1326.2" r="2.7"/>
<circle cx="1294" cy="1319.3" r="2.7"/>
<circle cx="1378.4" cy="1315.6" r="2.7"/>
<circle cx="1394.2" cy="1319.8" r="2.7"/>
<circle cx="1290.6" cy="1339.7" r="2.9"/><circle cx="1290.6" cy="1339.7" r="1.30" fill="#F5EC8E"/>
<circle cx="1300.3" cy="1350.2" r="2.9"/><circle cx="1300.3" cy="1350.2" r="1.30" fill="#F5EC8E"/>
<circle cx="1321.8" cy="1344.6" r="2.9"/><circle cx="1321.8" cy="1344.6" r="1.30" fill="#F5EC8E"/>
<circle cx="1335" cy="1344.3" r="2.7"/>
<circle cx="1382.8" cy="1332.5" r="2.9"/><circle cx="1382.8" cy="1332.5" r="1.30" fill="#F5EC8E"/>
<circle cx="1395.8" cy="1334.5" r="2.7"/>
<circle cx="1342.2" cy="1363.8" r="2.9"/><circle cx="1342.2" cy="1363.8" r="1.30" fill="#F5EC8E"/>
<circle cx="1417" cy="1373" r="2.7"/>
<circle cx="1396.4" cy="1392.9" r="2.7"/>
<circle cx="1268.6" cy="1395.9" r="2.7"/>
<circle cx="1292.3" cy="1409.7" r="2.7"/>
<circle cx="1319.4" cy="1412.7" r="2.7"/>
<circle cx="1343.2" cy="1476.7" r="7.00" fill="#C4357A" stroke="#000" stroke-width="2.0"/>
<circle cx="1333.7" cy="1493.2" r="3.2"/><circle cx="1333.7" cy="1493.2" r="1.60" fill="#C4357A"/>
<circle cx="1332" cy="1510.8" r="3.75" fill="#C4357A" stroke="#000" stroke-width="1.5"/>
<circle cx="1354.8" cy="1451" r="2.6"/>
<circle cx="1315.5" cy="1484.7" r="2.6"/>
<circle cx="1358.3" cy="1498.8" r="2.6"/>
<circle cx="1308.1" cy="1529.4" r="2.6"/>
<circle cx="1346.7" cy="1539.2" r="2.6"/>
<circle cx="1208.3" cy="1479.1" r="2.6"/>
<circle cx="1194.2" cy="1497.8" r="2.9"/><circle cx="1194.2" cy="1497.8" r="1.30" fill="#F5EC8E"/>
<circle cx="1282.1" cy="1492.5" r="3.25" fill="#C4357A" stroke="#000" stroke-width="1.5"/>
<circle cx="1259.9" cy="1495.3" r="2.6"/>
<circle cx="1213.5" cy="1596.2" r="5.20" fill="#C4357A" stroke="#000" stroke-width="2.0"/>
<circle cx="1246.9" cy="1610.9" r="3.85" fill="#C4357A" stroke="#000" stroke-width="1.5"/>
<circle cx="1230.8" cy="1619.7" r="3.85" fill="#C4357A" stroke="#000" stroke-width="1.5"/>
<circle cx="1290.5" cy="1618.3" r="3.85" fill="#C4357A" stroke="#000" stroke-width="1.5"/>
<circle cx="1163.3" cy="1601.4" r="4.2"/>
<circle cx="1204.4" cy="1610.9" r="3.0"/><circle cx="1204.4" cy="1610.9" r="1.50" fill="#C4357A"/>
<circle cx="1237.1" cy="1546.3" r="2.6"/>
<circle cx="1190.7" cy="1565.2" r="2.6"/>
<circle cx="1140.4" cy="1579.3" r="2.6"/>
<circle cx="1229.4" cy="1582.1" r="2.6"/>
<circle cx="1237.1" cy="1596.2" r="2.6"/>
<circle cx="1224.1" cy="1608.5" r="2.6"/>
<circle cx="1170.3" cy="1626" r="2.6"/>
<circle cx="1218.8" cy="1633.1" r="2.6"/>
<circle cx="1281" cy="1597.9" r="2.6"/>
<circle cx="1322.1" cy="1610.2" r="2.6"/>
<circle cx="1304.9" cy="1639.4" r="2.6"/>
<circle cx="1117.6" cy="1662.3" r="2.6"/>
<circle cx="1140.4" cy="1667.2" r="2.6"/>
<ellipse cx="1049.4" cy="1161.3" rx="47.8" ry="46.8" transform="rotate(0 1049.4 1161.3)" fill="none" stroke="#E8202A" stroke-width="4.2"/>
<ellipse cx="1305.2" cy="1285.3" rx="99.4" ry="164.5" transform="rotate(-26.6 1305.2 1285.3)" fill="none" stroke="#E8202A" stroke-width="4.2"/>
<ellipse cx="941.5" cy="1467.5" rx="72" ry="50" transform="rotate(30 941.5 1467.5)" fill="none" stroke="#E8202A" stroke-width="4.2"/>
<ellipse cx="1335" cy="1499" rx="38" ry="57" transform="rotate(12 1335 1499)" fill="none" stroke="#E8202A" stroke-width="4.2"/>
<ellipse cx="1227.7" cy="1598" rx="106" ry="58" transform="rotate(8 1227.7 1598)" fill="none" stroke="#E8202A" stroke-width="4.2"/>
<path d="M1004.6 1141.3L979.5 1133.7" stroke="#E8202A" stroke-width="4.2" fill="none"/>
<path d="M962.3 1128.4L988.9 1123.4L979.5 1133.7L981.6 1147.4Z" fill="#E8202A"/>
<path d="M1419.6 1336.1L1476.9 1219.3" stroke="#E8202A" stroke-width="4.2" fill="none"/>
<path d="M1484.8 1203.1L1485.5 1230.2L1476.9 1219.3L1463.0 1219.1Z" fill="#E8202A"/>
<path d="M912.2 1511.5L891.3 1525.2" stroke="#E8202A" stroke-width="4.2" fill="none"/>
<path d="M876.2 1535.0L889.5 1511.4L891.3 1525.2L903.1 1532.3Z" fill="#E8202A"/>
<path d="M1368.9 1452.0L1420.8 1473.3" stroke="#E8202A" stroke-width="4.2" fill="none"/>
<path d="M1437.4 1480.2L1410.4 1482.6L1420.8 1473.3L1420.0 1459.5Z" fill="#E8202A"/>
<path d="M1265.2 1655.9L1332.7 1681.3" stroke="#E8202A" stroke-width="4.2" fill="none"/>
<path d="M1349.6 1687.6L1322.7 1690.9L1332.7 1681.3L1331.5 1667.5Z" fill="#E8202A"/>
<circle cx="683.5" cy="1259.7" r="7.8" fill="#000"/>
<text x="702.3" y="1265.9" font-size="18.5">1-3 months</text>
<circle cx="683.5" cy="1287" r="7.8" fill="#C4357A"/>
<text x="702.3" y="1293.2" font-size="18.5">1-3 months, 3-4 years</text>
<circle cx="683.5" cy="1311" r="7.8" fill="#F8F0A0"/>
<text x="702.3" y="1317.2" font-size="18.5">3-4 years</text>
<text x="681.3" y="1346.4" font-size="18.3">chemistry</text>
<rect x="681.3" y="1360.2" width="15.7" height="15.7" fill="#D62839"/>
<text x="704.5" y="1371.5" font-size="18.2">Acidic</text>
<rect x="775.3" y="1360.2" width="15.7" height="15.7" fill="#255C99"/>
<text x="798.5" y="1371.5" font-size="18.2">Basic</text>
<rect x="681.3" y="1382.1" width="15.7" height="15.7" fill="#5E239D"/>
<text x="704.5" y="1393.4" font-size="18.2">Neutral</text>
<rect x="775.3" y="1382.1" width="15.7" height="15.7" fill="#109648"/>
<text x="798.5" y="1393.4" font-size="18.2">Polar</text>
<rect x="681.3" y="1405" width="15.7" height="15.7" fill="#221E22"/>
<text x="704.5" y="1416.3" font-size="18.2">Hydrophobic</text>
<text x="725.2" y="1074.2" font-size="26.5">S</text>
<text x="744.0" y="1084.6" font-size="16">866-880</text>
<text x="802.5" y="1074.2" font-size="21.5">: TRAV26−1 − TRAJ15</text>
<text transform="matrix(0.1853 0 0 0.9463 775.33 1162.55)" font-size="100" font-weight="bold" fill="#109648">C</text>
<text x="782.1" y="1176.0" font-size="10" text-anchor="middle">1</text>
<path d="M788.58 1096.50h12.12v11.58H796.64V1149.24H800.70V1160.82H788.58V1149.24H792.64V1108.08H788.58Z" fill="#221E22"/>
<text transform="matrix(0.1853 0 0 0.0379 787.82 1163.46)" font-size="100" font-weight="bold" fill="#109648">C</text>
<text x="794.6" y="1176.0" font-size="10" text-anchor="middle">2</text>
<text transform="matrix(0.1856 0 0 0.9057 800.94 1160.15)" font-size="100" font-weight="bold" fill="#221E22">V</text>
<text transform="matrix(0.1795 0 0 0.0473 800.34 1163.45)" font-size="100" font-weight="bold" fill="#109648">G</text>
<text x="807.1" y="1176.0" font-size="10" text-anchor="middle">3</text>
<text transform="matrix(0.1911 0 0 0.9738 812.29 1163.50)" font-size="100" font-weight="bold" fill="#255C99">R</text>
<text x="819.6" y="1176.0" font-size="10" text-anchor="middle">4</text>
<text transform="matrix(0.1795 0 0 0.5394 825.32 1135.49)" font-size="100" font-weight="bold" fill="#109648">G</text>
<text transform="matrix(0.1806 0 0 0.2240 825.61 1151.44)" font-size="100" font-weight="bold" fill="#221E22">A</text>
<text transform="matrix(0.2141 0 0 0.1461 824.63 1161.49)" font-size="100" font-weight="bold" fill="#221E22">P</text>
<text transform="matrix(0.2023 0 0 0.0284 825.47 1163.47)" font-size="100" font-weight="bold" fill="#109648">S</text>
<text x="832.1" y="1176.0" font-size="10" text-anchor="middle">5</text>
<text transform="matrix(0.1806 0 0 0.9738 838.10 1163.50)" font-size="100" font-weight="bold" fill="#221E22">A</text>
<text x="844.6" y="1176.0" font-size="10" text-anchor="middle">6</text>
<text transform="matrix(0.2061 0 0 0.9738 849.67 1163.50)" font-size="100" font-weight="bold" fill="#5E239D">N</text>
<text x="857.1" y="1176.0" font-size="10" text-anchor="middle">7</text>
<text transform="matrix(0.1744 0 0 0.7486 862.83 1148.75)" font-size="100" font-weight="bold" fill="#5E239D">Q</text>
<text x="869.6" y="1176.0" font-size="10" text-anchor="middle">8</text>
<text transform="matrix(0.1806 0 0 0.9738 875.58 1163.50)" font-size="100" font-weight="bold" fill="#221E22">A</text>
<text x="882.1" y="1176.0" font-size="10" text-anchor="middle">9</text>
<text transform="matrix(0.1795 0 0 0.9463 887.79 1162.55)" font-size="100" font-weight="bold" fill="#109648">G</text>
<text x="894.6" y="1176.0" font-size="10" text-anchor="middle">10</text>
<text transform="matrix(0.2057 0 0 0.9738 900.79 1163.50)" font-size="100" font-weight="bold" fill="#109648">T</text>
<text x="907.1" y="1176.0" font-size="10" text-anchor="middle">11</text>
<text transform="matrix(0.1806 0 0 0.9738 913.06 1163.50)" font-size="100" font-weight="bold" fill="#221E22">A</text>
<text x="919.6" y="1176.0" font-size="10" text-anchor="middle">12</text>
<text transform="matrix(0.2362 0 0 0.9738 924.42 1163.50)" font-size="100" font-weight="bold" fill="#221E22">L</text>
<text x="932.1" y="1176.0" font-size="10" text-anchor="middle">13</text>
<path d="M938.50 1096.50h12.12v12.06H946.56V1151.44H950.62V1163.50H938.50V1151.44H942.56V1108.56H938.50Z" fill="#221E22"/>
<text x="944.6" y="1176.0" font-size="10" text-anchor="middle">14</text>
<text transform="matrix(0.2390 0 0 0.9446 949.39 1161.49)" font-size="100" font-weight="bold" fill="#221E22">F</text>
<text transform="matrix(0.2023 0 0 0.0284 950.41 1163.47)" font-size="100" font-weight="bold" fill="#109648">S</text>
<text x="957.1" y="1176.0" font-size="10" text-anchor="middle">15</text>
<path d="M775.9 1164.0H963.3" stroke="#ccc" stroke-width="0.8"/>
<text x="764.3" y="1166.9" font-size="9.8" text-anchor="end">0.00</text>
<text x="764.3" y="1150.2" font-size="9.8" text-anchor="end">0.25</text>
<text x="764.3" y="1133.4" font-size="9.8" text-anchor="end">0.50</text>
<text x="764.3" y="1116.7" font-size="9.8" text-anchor="end">0.75</text>
<text x="764.3" y="1099.9" font-size="9.8" text-anchor="end">1.00</text>
<text transform="translate(734.8,1126.0) rotate(-90)" font-size="12.5" text-anchor="middle">Probability</text>
<text x="1364.4" y="1097.8" font-size="26.5">S</text>
<text x="1384.5" y="1106.3" font-size="16">166-180</text>
<text x="1442.2" y="1097.8" font-size="21.5">: TRAV35 − TRAJ42</text>
<text transform="matrix(0.1911 0 0 0.9732 1420.71 1185.63)" font-size="100" font-weight="bold" fill="#109648">C</text>
<text x="1427.7" y="1200.7" font-size="10" text-anchor="middle">1</text>
<text transform="matrix(0.1863 0 0 1.0015 1433.91 1186.60)" font-size="100" font-weight="bold" fill="#221E22">A</text>
<text x="1440.6" y="1200.7" font-size="10" text-anchor="middle">2</text>
<text transform="matrix(0.1852 0 0 0.7007 1446.51 1170.05)" font-size="100" font-weight="bold" fill="#109648">G</text>
<text transform="matrix(0.1863 0 0 0.1302 1446.80 1179.71)" font-size="100" font-weight="bold" fill="#221E22">A</text>
<text transform="matrix(0.2087 0 0 0.0584 1446.66 1183.79)" font-size="100" font-weight="bold" fill="#109648">S</text>
<text transform="matrix(0.2122 0 0 0.0401 1447.03 1186.60)" font-size="100" font-weight="bold" fill="#109648">T</text>
<text x="1453.5" y="1200.7" font-size="10" text-anchor="middle">3</text>
<text transform="matrix(0.1799 0 0 0.2540 1459.42 1142.32)" font-size="100" font-weight="bold" fill="#5E239D">Q</text>
<text transform="matrix(0.2437 0 0 0.3004 1458.52 1168.00)" font-size="100" font-weight="bold" fill="#221E22">L</text>
<text transform="matrix(0.1788 0 0 0.1702 1458.96 1179.71)" font-size="100" font-weight="bold" fill="#221E22">M</text>
<text transform="matrix(0.1972 0 0 0.0601 1458.83 1183.84)" font-size="100" font-weight="bold" fill="#255C99">R</text>
<text transform="matrix(0.2087 0 0 0.0389 1459.55 1186.56)" font-size="100" font-weight="bold" fill="#109648">S</text>
<text x="1466.4" y="1200.7" font-size="10" text-anchor="middle">4</text>
<text transform="matrix(0.2126 0 0 0.9113 1471.62 1181.78)" font-size="100" font-weight="bold" fill="#5E239D">N</text>
<text transform="matrix(0.2437 0 0 0.0701 1471.41 1186.60)" font-size="100" font-weight="bold" fill="#221E22">L</text>
<text x="1479.3" y="1200.7" font-size="10" text-anchor="middle">5</text>
<text transform="matrix(0.1972 0 0 0.9514 1485.59 1184.53)" font-size="100" font-weight="bold" fill="#109648">Y</text>
<text transform="matrix(0.1972 0 0 0.0300 1484.61 1186.60)" font-size="100" font-weight="bold" fill="#255C99">R</text>
<text x="1492.2" y="1200.7" font-size="10" text-anchor="middle">6</text>
<text transform="matrix(0.1852 0 0 0.9732 1498.05 1185.63)" font-size="100" font-weight="bold" fill="#109648">G</text>
<text x="1505.1" y="1200.7" font-size="10" text-anchor="middle">7</text>
<text transform="matrix(0.1852 0 0 0.9732 1510.94 1185.63)" font-size="100" font-weight="bold" fill="#109648">G</text>
<text x="1517.9" y="1200.7" font-size="10" text-anchor="middle">8</text>
<text transform="matrix(0.2087 0 0 0.9440 1523.98 1184.28)" font-size="100" font-weight="bold" fill="#109648">S</text>
<text transform="matrix(0.2126 0 0 0.0200 1523.16 1186.60)" font-size="100" font-weight="bold" fill="#5E239D">N</text>
<text x="1530.8" y="1200.7" font-size="10" text-anchor="middle">9</text>
<text transform="matrix(0.1799 0 0 0.7467 1536.74 1171.89)" font-size="100" font-weight="bold" fill="#5E239D">Q</text>
<text x="1543.7" y="1200.7" font-size="10" text-anchor="middle">10</text>
<text transform="matrix(0.1852 0 0 0.9732 1549.60 1185.63)" font-size="100" font-weight="bold" fill="#109648">G</text>
<text x="1556.6" y="1200.7" font-size="10" text-anchor="middle">11</text>
<text transform="matrix(0.2126 0 0 1.0015 1561.82 1186.60)" font-size="100" font-weight="bold" fill="#5E239D">N</text>
<text x="1569.5" y="1200.7" font-size="10" text-anchor="middle">12</text>
<text transform="matrix(0.2437 0 0 1.0015 1574.50 1186.60)" font-size="100" font-weight="bold" fill="#221E22">L</text>
<text x="1582.4" y="1200.7" font-size="10" text-anchor="middle">13</text>
<path d="M1589.02 1117.70h12.50v12.40H1597.33V1174.20H1601.52V1186.60H1589.02V1174.20H1593.21V1130.10H1589.02Z" fill="#221E22"/>
<text x="1595.3" y="1200.7" font-size="10" text-anchor="middle">14</text>
<text transform="matrix(0.2465 0 0 1.0015 1600.25 1186.60)" font-size="100" font-weight="bold" fill="#221E22">F</text>
<text x="1608.2" y="1200.7" font-size="10" text-anchor="middle">15</text>
<path d="M1421.3 1187.1H1614.6" stroke="#ccc" stroke-width="0.8"/>
<text x="1409.4" y="1190.0" font-size="9.8" text-anchor="end">0.00</text>
<text x="1409.4" y="1172.8" font-size="9.8" text-anchor="end">0.25</text>
<text x="1409.4" y="1155.6" font-size="9.8" text-anchor="end">0.50</text>
<text x="1409.4" y="1138.3" font-size="9.8" text-anchor="end">0.75</text>
<text x="1409.4" y="1121.1" font-size="9.8" text-anchor="end">1.00</text>
<text transform="translate(1385.3,1149.8) rotate(-90)" font-size="12.5" text-anchor="middle">Probability</text>
<text x="686.6" y="1558.5" font-size="26.5">S</text>
<text x="703.9" y="1567.9" font-size="16">866-880</text>
<text x="763.4" y="1558.5" font-size="21.5">: TRAV26−1 − TRAJ21</text>
<text transform="matrix(0.1998 0 0 0.9237 740.18 1646.78)" font-size="100" font-weight="bold" fill="#109648">C</text>
<text x="747.5" y="1660.3" font-size="10" text-anchor="middle">1</text>
<path d="M754.47 1584.26h13.07v11.42H763.16V1636.28H767.54V1647.70H754.47V1636.28H758.85V1595.68H754.47Z" fill="#221E22"/>
<text x="761.0" y="1660.3" font-size="10" text-anchor="middle">2</text>
<text transform="matrix(0.2001 0 0 0.9506 767.80 1647.70)" font-size="100" font-weight="bold" fill="#221E22">V</text>
<text x="774.5" y="1660.3" font-size="10" text-anchor="middle">3</text>
<text transform="matrix(0.2061 0 0 0.8935 780.04 1645.08)" font-size="100" font-weight="bold" fill="#255C99">R</text>
<text transform="matrix(0.2182 0 0 0.0369 780.78 1647.66)" font-size="100" font-weight="bold" fill="#109648">S</text>
<text x="787.9" y="1660.3" font-size="10" text-anchor="middle">4</text>
<text transform="matrix(0.2001 0 0 0.9506 794.75 1647.70)" font-size="100" font-weight="bold" fill="#221E22">V</text>
<text x="801.4" y="1660.3" font-size="10" text-anchor="middle">5</text>
<text transform="matrix(0.2182 0 0 0.4803 807.73 1619.75)" font-size="100" font-weight="bold" fill="#109648">S</text>
<text transform="matrix(0.2329 0 0 0.1901 806.80 1633.31)" font-size="100" font-weight="bold" fill="#D62839">E</text>
<text transform="matrix(0.1947 0 0 0.0951 807.87 1639.85)" font-size="100" font-weight="bold" fill="#221E22">A</text>
<text transform="matrix(0.2061 0 0 0.0665 806.98 1644.43)" font-size="100" font-weight="bold" fill="#255C99">R</text>
<text transform="matrix(0.2219 0 0 0.0475 808.12 1647.70)" font-size="100" font-weight="bold" fill="#109648">T</text>
<text x="814.9" y="1660.3" font-size="10" text-anchor="middle">6</text>
<text transform="matrix(0.2061 0 0 0.8745 821.48 1643.12)" font-size="100" font-weight="bold" fill="#109648">Y</text>
<text transform="matrix(0.1387 0 0 0.0665 821.82 1647.70)" font-size="100" font-weight="bold" fill="#221E22">W</text>
<text x="828.4" y="1660.3" font-size="10" text-anchor="middle">7</text>
<text transform="matrix(0.2222 0 0 0.9506 833.81 1647.70)" font-size="100" font-weight="bold" fill="#5E239D">N</text>
<text x="841.8" y="1660.3" font-size="10" text-anchor="middle">8</text>
<text transform="matrix(0.2577 0 0 0.9506 847.05 1647.70)" font-size="100" font-weight="bold" fill="#221E22">F</text>
<text x="855.3" y="1660.3" font-size="10" text-anchor="middle">9</text>
<text transform="matrix(0.2222 0 0 0.9506 860.76 1647.70)" font-size="100" font-weight="bold" fill="#5E239D">N</text>
<text x="868.8" y="1660.3" font-size="10" text-anchor="middle">10</text>
<text transform="matrix(0.2026 0 0 0.9506 874.36 1647.70)" font-size="100" font-weight="bold" fill="#255C99">K</text>
<text x="882.2" y="1660.3" font-size="10" text-anchor="middle">11</text>
<text transform="matrix(0.2577 0 0 0.9506 887.46 1647.70)" font-size="100" font-weight="bold" fill="#221E22">F</text>
<text x="895.7" y="1660.3" font-size="10" text-anchor="middle">12</text>
<text transform="matrix(0.2061 0 0 0.9506 902.31 1647.70)" font-size="100" font-weight="bold" fill="#109648">Y</text>
<text x="909.2" y="1660.3" font-size="10" text-anchor="middle">13</text>
<text transform="matrix(0.2577 0 0 0.9506 914.40 1647.70)" font-size="100" font-weight="bold" fill="#221E22">F</text>
<text x="922.7" y="1660.3" font-size="10" text-anchor="middle">14</text>
<path d="M740.8 1648.2H929.4" stroke="#ccc" stroke-width="0.8"/>
<text x="729.0" y="1651.1" font-size="9.8" text-anchor="end">0.00</text>
<text x="729.0" y="1634.8" font-size="9.8" text-anchor="end">0.25</text>
<text x="729.0" y="1618.4" font-size="9.8" text-anchor="end">0.50</text>
<text x="729.0" y="1602.1" font-size="9.8" text-anchor="end">0.75</text>
<text x="729.0" y="1585.7" font-size="9.8" text-anchor="end">1.00</text>
<text transform="translate(702.8,1610.8) rotate(-90)" font-size="12.5" text-anchor="middle">Probability</text>
<text x="1375.9" y="1497.7" font-size="26.5">S</text>
<text x="1393.5" y="1506.5" font-size="16">751-765</text>
<text x="1453.3" y="1497.7" font-size="21.5">: TRAV12−1 − TRAJ3</text>
<text transform="matrix(0.1956 0 0 0.9237 1421.00 1583.98)" font-size="100" font-weight="bold" fill="#109648">C</text>
<text x="1428.2" y="1596.2" font-size="10" text-anchor="middle">1</text>
<text transform="matrix(0.1959 0 0 0.9316 1434.85 1583.59)" font-size="100" font-weight="bold" fill="#221E22">V</text>
<text transform="matrix(0.1906 0 0 0.0190 1434.51 1584.90)" font-size="100" font-weight="bold" fill="#221E22">A</text>
<text x="1441.4" y="1596.2" font-size="10" text-anchor="middle">2</text>
<text transform="matrix(0.1959 0 0 0.9506 1448.03 1584.90)" font-size="100" font-weight="bold" fill="#221E22">V</text>
<text x="1454.6" y="1596.2" font-size="10" text-anchor="middle">3</text>
<text transform="matrix(0.2175 0 0 0.9506 1459.90 1584.90)" font-size="100" font-weight="bold" fill="#5E239D">N</text>
<text x="1467.8" y="1596.2" font-size="10" text-anchor="middle">4</text>
<text transform="matrix(0.1983 0 0 0.5703 1473.21 1565.28)" font-size="100" font-weight="bold" fill="#255C99">K</text>
<path d="M1474.54 1565.28h12.79v1.77H1483.05V1573.32H1487.33V1575.09H1474.54V1573.32H1478.83V1567.05H1474.54Z" fill="#221E22"/>
<text transform="matrix(0.2017 0 0 0.0951 1473.19 1581.63)" font-size="100" font-weight="bold" fill="#255C99">R</text>
<text transform="matrix(0.2135 0 0 0.0462 1473.92 1584.85)" font-size="100" font-weight="bold" fill="#109648">S</text>
<text x="1480.9" y="1596.2" font-size="10" text-anchor="middle">5</text>
<text transform="matrix(0.1895 0 0 0.9237 1486.95 1583.98)" font-size="100" font-weight="bold" fill="#109648">G</text>
<text x="1494.1" y="1596.2" font-size="10" text-anchor="middle">6</text>
<text transform="matrix(0.2135 0 0 0.9237 1500.29 1583.98)" font-size="100" font-weight="bold" fill="#109648">S</text>
<text x="1507.3" y="1596.2" font-size="10" text-anchor="middle">7</text>
<text transform="matrix(0.2135 0 0 0.8960 1513.48 1582.70)" font-size="100" font-weight="bold" fill="#109648">S</text>
<text transform="matrix(0.2175 0 0 0.0190 1512.64 1584.90)" font-size="100" font-weight="bold" fill="#5E239D">N</text>
<text x="1520.5" y="1596.2" font-size="10" text-anchor="middle">8</text>
<text transform="matrix(0.1906 0 0 0.9506 1526.81 1584.90)" font-size="100" font-weight="bold" fill="#221E22">A</text>
<text x="1533.7" y="1596.2" font-size="10" text-anchor="middle">9</text>
<text transform="matrix(0.2135 0 0 0.9237 1539.85 1583.98)" font-size="100" font-weight="bold" fill="#109648">S</text>
<text x="1546.9" y="1596.2" font-size="10" text-anchor="middle">10</text>
<text transform="matrix(0.1983 0 0 0.9506 1552.33 1584.90)" font-size="100" font-weight="bold" fill="#255C99">K</text>
<text x="1560.0" y="1596.2" font-size="10" text-anchor="middle">11</text>
<path d="M1566.84 1519.50h12.79v11.77H1575.35V1573.13H1579.63V1584.90H1566.84V1573.13H1571.13V1531.27H1566.84Z" fill="#221E22"/>
<text x="1573.2" y="1596.2" font-size="10" text-anchor="middle">12</text>
<path d="M1580.03 1519.50h12.79v11.77H1588.53V1573.13H1592.82V1584.90H1580.03V1573.13H1584.31V1531.27H1580.03Z" fill="#221E22"/>
<text x="1586.4" y="1596.2" font-size="10" text-anchor="middle">13</text>
<text transform="matrix(0.2523 0 0 0.9506 1591.52 1584.90)" font-size="100" font-weight="bold" fill="#221E22">F</text>
<text x="1599.6" y="1596.2" font-size="10" text-anchor="middle">14</text>
<path d="M1421.6 1585.4H1606.2" stroke="#ccc" stroke-width="0.8"/>
<text x="1410.0" y="1588.3" font-size="9.8" text-anchor="end">0.00</text>
<text x="1410.0" y="1572.0" font-size="9.8" text-anchor="end">0.25</text>
<text x="1410.0" y="1555.6" font-size="9.8" text-anchor="end">0.50</text>
<text x="1410.0" y="1539.2" font-size="9.8" text-anchor="end">0.75</text>
<text x="1410.0" y="1522.9" font-size="9.8" text-anchor="end">1.00</text>
<text transform="translate(1386.7,1553.0) rotate(-90)" font-size="12.5" text-anchor="middle">Probability</text>
<text x="1348.9" y="1629.6" font-size="26.5">S</text>
<text x="1367.1" y="1638.3" font-size="16">751-765</text>
<text x="1426.2" y="1629.6" font-size="21.5">: TRAV12−1 − TRAJ37</text>
<text transform="matrix(0.1929 0 0 0.9718 1399.90 1719.23)" font-size="100" font-weight="bold" fill="#109648">C</text>
<text x="1407.0" y="1732.5" font-size="10" text-anchor="middle">1</text>
<text transform="matrix(0.1932 0 0 1.0000 1413.57 1720.20)" font-size="100" font-weight="bold" fill="#221E22">V</text>
<text x="1420.0" y="1732.5" font-size="10" text-anchor="middle">2</text>
<text transform="matrix(0.1932 0 0 1.0000 1426.57 1720.20)" font-size="100" font-weight="bold" fill="#221E22">V</text>
<text x="1433.0" y="1732.5" font-size="10" text-anchor="middle">3</text>
<text transform="matrix(0.2146 0 0 1.0000 1438.28 1720.20)" font-size="100" font-weight="bold" fill="#5E239D">N</text>
<text x="1446.0" y="1732.5" font-size="10" text-anchor="middle">4</text>
<text transform="matrix(0.1805 0 0 0.2000 1451.51 1677.54)" font-size="100" font-weight="bold" fill="#221E22">M</text>
<text transform="matrix(0.1869 0 0 0.2429 1451.96 1694.50)" font-size="100" font-weight="bold" fill="#109648">G</text>
<text transform="matrix(0.1956 0 0 0.1200 1451.41 1703.00)" font-size="100" font-weight="bold" fill="#255C99">K</text>
<text transform="matrix(0.1990 0 0 0.1000 1451.39 1709.88)" font-size="100" font-weight="bold" fill="#255C99">R</text>
<text transform="matrix(0.1880 0 0 0.0800 1452.25 1715.38)" font-size="100" font-weight="bold" fill="#221E22">A</text>
<text transform="matrix(0.2249 0 0 0.0400 1451.21 1718.14)" font-size="100" font-weight="bold" fill="#D62839">E</text>
<text transform="matrix(0.2142 0 0 0.0300 1452.49 1720.20)" font-size="100" font-weight="bold" fill="#109648">T</text>
<text x="1459.0" y="1732.5" font-size="10" text-anchor="middle">5</text>
<text transform="matrix(0.1990 0 0 0.5500 1464.40 1696.81)" font-size="100" font-weight="bold" fill="#255C99">R</text>
<text transform="matrix(0.1990 0 0 0.1500 1465.39 1707.13)" font-size="100" font-weight="bold" fill="#109648">Y</text>
<text transform="matrix(0.2459 0 0 0.1200 1464.08 1715.38)" font-size="100" font-weight="bold" fill="#221E22">L</text>
<text transform="matrix(0.2106 0 0 0.0389 1465.12 1718.10)" font-size="100" font-weight="bold" fill="#109648">S</text>
<text transform="matrix(0.1956 0 0 0.0300 1464.42 1720.20)" font-size="100" font-weight="bold" fill="#255C99">K</text>
<text x="1472.0" y="1732.5" font-size="10" text-anchor="middle">6</text>
<text transform="matrix(0.2106 0 0 0.9718 1478.12 1719.23)" font-size="100" font-weight="bold" fill="#109648">S</text>
<text x="1485.0" y="1732.5" font-size="10" text-anchor="middle">7</text>
<text transform="matrix(0.2106 0 0 0.9718 1491.13 1719.23)" font-size="100" font-weight="bold" fill="#109648">S</text>
<text x="1498.0" y="1732.5" font-size="10" text-anchor="middle">8</text>
<text transform="matrix(0.2146 0 0 1.0000 1503.31 1720.20)" font-size="100" font-weight="bold" fill="#5E239D">N</text>
<text x="1511.1" y="1732.5" font-size="10" text-anchor="middle">9</text>
<text transform="matrix(0.2142 0 0 1.0000 1517.52 1720.20)" font-size="100" font-weight="bold" fill="#109648">T</text>
<text x="1524.1" y="1732.5" font-size="10" text-anchor="middle">10</text>
<text transform="matrix(0.1869 0 0 0.9718 1530.00 1719.23)" font-size="100" font-weight="bold" fill="#109648">G</text>
<text x="1537.1" y="1732.5" font-size="10" text-anchor="middle">11</text>
<text transform="matrix(0.1956 0 0 1.0000 1542.46 1720.20)" font-size="100" font-weight="bold" fill="#255C99">K</text>
<text x="1550.1" y="1732.5" font-size="10" text-anchor="middle">12</text>
<text transform="matrix(0.2459 0 0 1.0000 1555.13 1720.20)" font-size="100" font-weight="bold" fill="#221E22">L</text>
<text x="1563.1" y="1732.5" font-size="10" text-anchor="middle">13</text>
<path d="M1569.78 1651.40h12.62v12.38H1578.17V1707.82H1582.40V1720.20H1569.78V1707.82H1574.01V1663.78H1569.78Z" fill="#221E22"/>
<text x="1576.1" y="1732.5" font-size="10" text-anchor="middle">14</text>
<text transform="matrix(0.2488 0 0 1.0000 1581.12 1720.20)" font-size="100" font-weight="bold" fill="#221E22">F</text>
<text x="1589.1" y="1732.5" font-size="10" text-anchor="middle">15</text>
<path d="M1400.5 1720.7H1595.6" stroke="#ccc" stroke-width="0.8"/>
<text x="1388.2" y="1723.6" font-size="9.8" text-anchor="end">0.00</text>
<text x="1388.2" y="1706.4" font-size="9.8" text-anchor="end">0.25</text>
<text x="1388.2" y="1689.2" font-size="9.8" text-anchor="end">0.50</text>
<text x="1388.2" y="1672.0" font-size="9.8" text-anchor="end">0.75</text>
<text x="1388.2" y="1654.8" font-size="9.8" text-anchor="end">1.00</text>
<text transform="translate(1361.4,1686.5) rotate(-90)" font-size="12.5" text-anchor="middle">Probability</text>
<text x="8.2" y="1838.6" font-size="56">e</text>
<text x="502.0" y="1841.5" font-size="56">f</text>
<text x="974.0" y="1820.0" font-size="56">g</text>
<path d="M84.1 2306.3H460.2" stroke="#EBEBEB" stroke-width="2.4"/>
<path d="M84.1 2286.1H460.2" stroke="#EEEEEE" stroke-width="1.5"/>
<path d="M84.1 2265.9H460.2" stroke="#EBEBEB" stroke-width="2.4"/>
<path d="M84.1 2245.6H460.2" stroke="#EEEEEE" stroke-width="1.5"/>
<path d="M84.1 2225.4H460.2" stroke="#EBEBEB" stroke-width="2.4"/>
<path d="M84.1 2205.2H460.2" stroke="#EEEEEE" stroke-width="1.5"/>
<path d="M84.1 2185.0H460.2" stroke="#EBEBEB" stroke-width="2.4"/>
<path d="M84.1 2164.7H460.2" stroke="#EEEEEE" stroke-width="1.5"/>
<path d="M84.1 2144.5H460.2" stroke="#EBEBEB" stroke-width="2.4"/>
<path d="M84.1 2124.3H460.2" stroke="#EEEEEE" stroke-width="1.5"/>
<path d="M84.1 2104.1H460.2" stroke="#EBEBEB" stroke-width="2.4"/>
<path d="M84.1 2083.8H460.2" stroke="#EEEEEE" stroke-width="1.5"/>
<path d="M84.1 2063.6H460.2" stroke="#EBEBEB" stroke-width="2.4"/>
<path d="M84.1 2043.4H460.2" stroke="#EEEEEE" stroke-width="1.5"/>
<path d="M84.1 2023.2H460.2" stroke="#EBEBEB" stroke-width="2.4"/>
<path d="M84.1 2002.9H460.2" stroke="#EEEEEE" stroke-width="1.5"/>
<path d="M84.1 1982.7H460.2" stroke="#EBEBEB" stroke-width="2.4"/>
<path d="M84.1 1962.5H460.2" stroke="#EEEEEE" stroke-width="1.5"/>
<path d="M84.1 1942.2H460.2" stroke="#EBEBEB" stroke-width="2.4"/>
<path d="M84.1 1922.0H460.2" stroke="#EEEEEE" stroke-width="1.5"/>
<path d="M84.1 1901.8H460.2" stroke="#EBEBEB" stroke-width="2.4"/>
<rect x="108.9" y="2265.9" width="155.8" height="40.5" fill="#F8766D"/>
<rect x="108.9" y="2228.2" width="155.8" height="37.6" fill="#F8766D"/>
<rect x="108.9" y="2169.2" width="155.8" height="59.1" fill="#F8766D"/>
<rect x="108.9" y="2074.5" width="155.8" height="94.7" fill="#00BFC4"/>
<rect x="108.9" y="1977.0" width="155.8" height="97.5" fill="#00BFC4"/>
<rect x="108.9" y="1901.8" width="155.8" height="75.2" fill="#00BFC4"/>
<text x="186.8" y="1946.3" text-anchor="middle" font-size="18">S<tspan font-size="12.8" dy="3.5">166−180</tspan><tspan dy="-3.5"> : 55.84%</tspan></text>
<text x="186.8" y="2031.1" text-anchor="middle" font-size="18">S<tspan font-size="12.8" dy="3.5">866−880</tspan><tspan dy="-3.5"> : 72.46%</tspan></text>
<text x="186.8" y="2131.3" text-anchor="middle" font-size="18">S<tspan font-size="12.8" dy="3.5">751−765</tspan><tspan dy="-3.5"> : 69.93%</tspan></text>
<text x="186.8" y="2207.1" text-anchor="middle" font-size="18">S<tspan font-size="12.8" dy="3.5">166−180</tspan><tspan dy="-3.5"> : 44.16%</tspan></text>
<text x="186.8" y="2256.7" text-anchor="middle" font-size="18">S<tspan font-size="12.8" dy="3.5">866−880</tspan><tspan dy="-3.5"> : 27.54%</tspan></text>
<text x="186.8" y="2294.3" text-anchor="middle" font-size="18">S<tspan font-size="12.8" dy="3.5">751−765</tspan><tspan dy="-3.5"> : 30.07%</tspan></text>
<path d="M108.9 2265.9H264.7M108.9 2228.2H264.7M108.9 2169.2H264.7M108.9 2074.5H264.7M108.9 1977.0H264.7M108.9 1901.8H264.7" stroke="#000" stroke-width="2.9" fill="none"/>
<rect x="108.9" y="1901.8" width="155.8" height="404.5" fill="none" stroke="#000" stroke-width="2.9"/>
<rect x="280.3" y="2262.6" width="156.4" height="43.7" fill="#F8766D"/>
<rect x="280.3" y="2230.3" width="156.4" height="32.4" fill="#F8766D"/>
<rect x="280.3" y="2131.2" width="156.4" height="99.1" fill="#F8766D"/>
<rect x="280.3" y="2040.1" width="156.4" height="91.0" fill="#00BFC4"/>
<rect x="280.3" y="1936.6" width="156.4" height="103.6" fill="#00BFC4"/>
<rect x="280.3" y="1901.8" width="156.4" height="34.8" fill="#00BFC4"/>
<text x="358.5" y="1923.8" text-anchor="middle" font-size="18">S<tspan font-size="12.8" dy="3.5">166−180</tspan><tspan dy="-3.5"> : 26.13%</tspan></text>
<text x="358.5" y="1995.9" text-anchor="middle" font-size="18">S<tspan font-size="12.8" dy="3.5">866−880</tspan><tspan dy="-3.5"> : 76.81%</tspan></text>
<text x="358.5" y="2092.8" text-anchor="middle" font-size="18">S<tspan font-size="12.8" dy="3.5">751−765</tspan><tspan dy="-3.5"> : 67.09%</tspan></text>
<text x="358.5" y="2186.0" text-anchor="middle" font-size="18">S<tspan font-size="12.8" dy="3.5">166−180</tspan><tspan dy="-3.5"> : 73.87%</tspan></text>
<text x="358.5" y="2250.7" text-anchor="middle" font-size="18">S<tspan font-size="12.8" dy="3.5">866−880</tspan><tspan dy="-3.5"> : 23.19%</tspan></text>
<text x="358.5" y="2288.3" text-anchor="middle" font-size="18">S<tspan font-size="12.8" dy="3.5">751−765</tspan><tspan dy="-3.5"> : 32.91%</tspan></text>
<path d="M280.3 2262.6H436.7M280.3 2230.3H436.7M280.3 2131.2H436.7M280.3 2040.1H436.7M280.3 1936.6H436.7M280.3 1901.8H436.7" stroke="#000" stroke-width="2.9" fill="none"/>
<rect x="280.3" y="1901.8" width="156.4" height="404.5" fill="none" stroke="#000" stroke-width="2.9"/>
<rect x="84.1" y="1881.9" width="376.1" height="442.7" fill="none" stroke="#333" stroke-width="3"/>
<path d="M80.1 2306.3H84.1" stroke="#333" stroke-width="2.2"/>
<text x="76.7" y="2313.5" font-size="20.7" text-anchor="end">0</text>
<path d="M80.1 2225.4H84.1" stroke="#333" stroke-width="2.2"/>
<text x="76.7" y="2232.6" font-size="20.7" text-anchor="end">20</text>
<path d="M80.1 2144.5H84.1" stroke="#333" stroke-width="2.2"/>
<text x="76.7" y="2151.7" font-size="20.7" text-anchor="end">40</text>
<path d="M80.1 2063.6H84.1" stroke="#333" stroke-width="2.2"/>
<text x="76.7" y="2070.8" font-size="20.7" text-anchor="end">60</text>
<path d="M80.1 1982.7H84.1" stroke="#333" stroke-width="2.2"/>
<text x="76.7" y="1989.9" font-size="20.7" text-anchor="end">80</text>
<path d="M80.1 1901.8H84.1" stroke="#333" stroke-width="2.2"/>
<text x="76.7" y="1909.0" font-size="20.7" text-anchor="end">100</text>
<path d="M186.8 2324.6V2328.6" stroke="#333" stroke-width="2.2"/>
<path d="M358.5 2324.6V2328.6" stroke="#333" stroke-width="2.2"/>
<text x="194.7" y="2350.0" font-size="24.4" text-anchor="middle">1-3 months</text>
<text x="361.6" y="2350.0" font-size="24.4" text-anchor="middle">3-4 years</text>
<text transform="translate(33.6,2070.0) rotate(-90)" font-size="24.7" text-anchor="middle">Proportion (%)</text>
<text x="277.5" y="1834.7" font-size="23" text-anchor="middle">TCRα</text>
<text transform="translate(103.2,1867.0) scale(1.3,1)" font-size="23" font-family="Liberation Serif">χ</text>
<text x="116.1" y="1858.0" font-size="11">2</text>
<text x="128.1" y="1867.0" font-size="21.5">(1, N=1,408) = 55.12, p=1.14e-13</text>
<path d="M571.7 2310.8H946.8" stroke="#EBEBEB" stroke-width="2.4"/>
<path d="M571.7 2290.6H946.8" stroke="#EEEEEE" stroke-width="1.5"/>
<path d="M571.7 2270.4H946.8" stroke="#EBEBEB" stroke-width="2.4"/>
<path d="M571.7 2250.1H946.8" stroke="#EEEEEE" stroke-width="1.5"/>
<path d="M571.7 2229.9H946.8" stroke="#EBEBEB" stroke-width="2.4"/>
<path d="M571.7 2209.7H946.8" stroke="#EEEEEE" stroke-width="1.5"/>
<path d="M571.7 2189.5H946.8" stroke="#EBEBEB" stroke-width="2.4"/>
<path d="M571.7 2169.2H946.8" stroke="#EEEEEE" stroke-width="1.5"/>
<path d="M571.7 2149.0H946.8" stroke="#EBEBEB" stroke-width="2.4"/>
<path d="M571.7 2128.8H946.8" stroke="#EEEEEE" stroke-width="1.5"/>
<path d="M571.7 2108.6H946.8" stroke="#EBEBEB" stroke-width="2.4"/>
<path d="M571.7 2088.3H946.8" stroke="#EEEEEE" stroke-width="1.5"/>
<path d="M571.7 2068.1H946.8" stroke="#EBEBEB" stroke-width="2.4"/>
<path d="M571.7 2047.9H946.8" stroke="#EEEEEE" stroke-width="1.5"/>
<path d="M571.7 2027.7H946.8" stroke="#EBEBEB" stroke-width="2.4"/>
<path d="M571.7 2007.4H946.8" stroke="#EEEEEE" stroke-width="1.5"/>
<path d="M571.7 1987.2H946.8" stroke="#EBEBEB" stroke-width="2.4"/>
<path d="M571.7 1967.0H946.8" stroke="#EEEEEE" stroke-width="1.5"/>
<path d="M571.7 1946.8H946.8" stroke="#EBEBEB" stroke-width="2.4"/>
<path d="M571.7 1926.5H946.8" stroke="#EEEEEE" stroke-width="1.5"/>
<path d="M571.7 1906.3H946.8" stroke="#EBEBEB" stroke-width="2.4"/>
<rect x="594.9" y="2289.4" width="155.2" height="21.4" fill="#F8766D"/>
<rect x="594.9" y="2265.1" width="155.2" height="24.3" fill="#F8766D"/>
<rect x="594.9" y="2260.2" width="155.2" height="4.9" fill="#F8766D"/>
<rect x="594.9" y="2147.0" width="155.2" height="113.3" fill="#00BFC4"/>
<rect x="594.9" y="2036.1" width="155.2" height="110.8" fill="#00BFC4"/>
<rect x="594.9" y="1906.3" width="155.2" height="129.8" fill="#00BFC4"/>
<text x="672.5" y="1981.5" text-anchor="middle" font-size="18">S<tspan font-size="12.8" dy="3.5">166−180</tspan><tspan dy="-3.5"> : 96.14%</tspan></text>
<text x="672.5" y="2099.4" text-anchor="middle" font-size="18">S<tspan font-size="12.8" dy="3.5">866−880</tspan><tspan dy="-3.5"> : 82.32%</tspan></text>
<text x="672.5" y="2207.1" text-anchor="middle" font-size="18">S<tspan font-size="12.8" dy="3.5">751−765</tspan><tspan dy="-3.5"> : 84.18%</tspan></text>
<text x="672.5" y="2264.8" text-anchor="middle" font-size="13">S<tspan font-size="9.5" dy="2.5">166−180</tspan><tspan dy="-2.5"> : 3.86%</tspan></text>
<text x="672.5" y="2282.9" text-anchor="middle" font-size="14">S<tspan font-size="10" dy="2.6">866−880</tspan><tspan dy="-2.6"> : 17.68%</tspan></text>
<text x="672.5" y="2303.9" text-anchor="middle" font-size="14">S<tspan font-size="10" dy="2.6">751−765</tspan><tspan dy="-2.6"> : 15.82%</tspan></text>
<path d="M594.9 2289.4H750.1M594.9 2265.1H750.1M594.9 2260.2H750.1M594.9 2147.0H750.1M594.9 2036.1H750.1M594.9 1906.3H750.1" stroke="#000" stroke-width="2.9" fill="none"/>
<rect x="594.9" y="1906.3" width="155.2" height="404.5" fill="none" stroke="#000" stroke-width="2.9"/>
<rect x="766.3" y="2297.5" width="155.2" height="13.3" fill="#F8766D"/>
<rect x="766.3" y="2276.4" width="155.2" height="21.0" fill="#F8766D"/>
<rect x="766.3" y="2268.7" width="155.2" height="7.7" fill="#F8766D"/>
<rect x="766.3" y="2147.4" width="155.2" height="121.4" fill="#00BFC4"/>
<rect x="766.3" y="2034.1" width="155.2" height="113.3" fill="#00BFC4"/>
<rect x="766.3" y="1906.3" width="155.2" height="127.8" fill="#00BFC4"/>
<text x="843.9" y="1980.0" text-anchor="middle" font-size="18">S<tspan font-size="12.8" dy="3.5">166−180</tspan><tspan dy="-3.5"> : 94.41%</tspan></text>
<text x="843.9" y="2097.3" text-anchor="middle" font-size="18">S<tspan font-size="12.8" dy="3.5">866−880</tspan><tspan dy="-3.5"> : 84.29%</tspan></text>
<text x="843.9" y="2211.6" text-anchor="middle" font-size="18">S<tspan font-size="12.8" dy="3.5">751−765</tspan><tspan dy="-3.5"> : 90.28%</tspan></text>
<text x="843.9" y="2273.2" text-anchor="middle" font-size="13">S<tspan font-size="9.5" dy="2.5">166−180</tspan><tspan dy="-2.5"> : 5.59%</tspan></text>
<text x="843.9" y="2291.3" text-anchor="middle" font-size="14">S<tspan font-size="10" dy="2.6">866−880</tspan><tspan dy="-2.6"> : 15.71%</tspan></text>
<text x="843.9" y="2307.8" text-anchor="middle" font-size="12.5">S<tspan font-size="9" dy="2.4">751−765</tspan><tspan dy="-2.4"> : 9.72%</tspan></text>
<path d="M766.3 2297.5H921.5M766.3 2276.4H921.5M766.3 2268.7H921.5M766.3 2147.4H921.5M766.3 2034.1H921.5M766.3 1906.3H921.5" stroke="#000" stroke-width="2.9" fill="none"/>
<rect x="766.3" y="1906.3" width="155.2" height="404.5" fill="none" stroke="#000" stroke-width="2.9"/>
<rect x="571.7" y="1886.8" width="375.1" height="443.6" fill="none" stroke="#333" stroke-width="3"/>
<path d="M567.7 2310.8H571.7" stroke="#333" stroke-width="2.2"/>
<text x="562.7" y="2318.0" font-size="20.7" text-anchor="end">0</text>
<path d="M567.7 2229.9H571.7" stroke="#333" stroke-width="2.2"/>
<text x="562.7" y="2237.1" font-size="20.7" text-anchor="end">20</text>
<path d="M567.7 2149.0H571.7" stroke="#333" stroke-width="2.2"/>
<text x="562.7" y="2156.2" font-size="20.7" text-anchor="end">40</text>
<path d="M567.7 2068.1H571.7" stroke="#333" stroke-width="2.2"/>
<text x="562.7" y="2075.3" font-size="20.7" text-anchor="end">60</text>
<path d="M567.7 1987.2H571.7" stroke="#333" stroke-width="2.2"/>
<text x="562.7" y="1994.4" font-size="20.7" text-anchor="end">80</text>
<path d="M567.7 1906.3H571.7" stroke="#333" stroke-width="2.2"/>
<text x="562.7" y="1913.5" font-size="20.7" text-anchor="end">100</text>
<path d="M672.5 2330.4V2334.4" stroke="#333" stroke-width="2.2"/>
<path d="M843.9 2330.4V2334.4" stroke="#333" stroke-width="2.2"/>
<text x="674.7" y="2352.9" font-size="24.4" text-anchor="middle">1-3 months</text>
<text x="855.6" y="2352.9" font-size="24.4" text-anchor="middle">3-4 years</text>
<text transform="translate(522.0,2074.0) rotate(-90)" font-size="24.7" text-anchor="middle">Proportion (%)</text>
<text x="763.5" y="1837.7" font-size="23" text-anchor="middle">TCRβ</text>
<text transform="translate(607.7,1871.4) scale(1.3,1)" font-size="23" font-family="Liberation Serif">χ</text>
<text x="620.6" y="1862.4" font-size="11">2</text>
<text x="632.6" y="1871.4" font-size="21.5">(1, N=1,642) = 4.73, p=0.0297</text>
<rect x="378.7" y="2367.2" width="35" height="35.4" fill="#F8766D"/>
<text x="422.0" y="2393.2" font-size="24.3">Public</text>
<rect x="529.9" y="2367.2" width="35" height="35.4" fill="#00BFC4"/>
<text x="573.2" y="2393.2" font-size="24.3">Private</text>
<text x="1018.5" y="1828.1" font-size="24.3">TCRα:</text>
<text x="1096.5" y="1828.4" font-size="28">S</text>
<text x="1115.9" y="1836.7" font-size="15.8">166-180</text>
<text x="1246.9" y="1828.1" font-size="24.3">TCRα:</text>
<text x="1324.9" y="1828.4" font-size="28">S</text>
<text x="1344.3" y="1836.7" font-size="15.8">751-765</text>
<text x="1481.8" y="1828.1" font-size="24.3">TCRα:</text>
<text x="1559.0" y="1828.4" font-size="28">S</text>
<text x="1578.4" y="1836.7" font-size="15.8">866-880</text>
<text x="1020.7" y="2097.3" font-size="24.3">TCRβ:</text>
<text x="1099.6" y="2097.6" font-size="28">S</text>
<text x="1119.0" y="2105.9" font-size="15.8">166-180</text>
<text x="1257.0" y="2097.3" font-size="24.3">TCRβ:</text>
<text x="1333.6" y="2097.6" font-size="28">S</text>
<text x="1353.0" y="2105.9" font-size="15.8">751-765</text>
<text x="1490.6" y="2097.3" font-size="24.3">TCRβ:</text>
<text x="1567.7" y="2097.6" font-size="28">S</text>
<text x="1587.1" y="2105.9" font-size="15.8">866-880</text>
<path d="M1090.40 1931.56L1092.81 1850.58A91 91 0 0 1 1110.40 1853.05Z" fill="#3953A4"/>
<path d="M1100.10 1906.31L1114.28 1856.17A89 89 0 0 1 1117.24 1857.10Z" fill="#3953A4"/>
<path d="M1094.51 1929.89L1121.18 1858.52A89 89 0 0 1 1132.96 1864.11Z" fill="#3953A4"/>
<path d="M1127.77 1895.29L1146.88 1871.66A90.7 90.7 0 0 1 1147.72 1872.38Z" fill="#3953A4"/>
<path d="M1134.83 1902.35L1157.53 1882.24A90.6 90.6 0 0 1 1158.25 1883.08Z" fill="#3953A4"/>
<path d="M1098.98 1935.00L1160.21 1886.46A90 90 0 0 1 1168.09 1898.56Z" fill="#3953A4"/>
<path d="M1091.44 1941.55L1171.47 1903.04A91 91 0 0 1 1169.86 1983.24Z" fill="#3953A4"/>
<path d="M1093.42 1945.29L1167.49 1987.55A91 91 0 0 1 1146.51 2012.02Z" fill="#3953A4"/>
<path d="M1123.46 1990.63L1141.14 2014.86A90 90 0 0 1 1140.24 2015.49Z" fill="#3953A4"/>
<path d="M1118.55 1993.73L1133.80 2019.56A90 90 0 0 1 1132.84 2020.10Z" fill="#3953A4"/>
<path d="M1091.04 1948.54L1126.57 2025.48A92 92 0 0 1 1102.12 2032.56Z" fill="#3953A4"/>
<path d="M1094.73 2002.12L1098.22 2033.04A92 92 0 0 1 1097.10 2033.14Z" fill="#3953A4"/>
<path d="M1088.12 1944.57L1094.62 2033.33A92 92 0 0 1 1035.71 2016.49Z" fill="#3953A4"/>
<path d="M1076.01 1956.50L1031.23 2014.38A93 93 0 0 1 1025.10 2009.07Z" fill="#3953A4"/>
<path d="M1063.06 1941.25L996.32 1943.44A92.7 92.7 0 0 1 996.37 1937.78Z" fill="#EC2027"/>
<path d="M1296.18 1899.85L1271.23 1867.53A95 95 0 0 1 1272.56 1866.54Z" fill="#EC2027"/>
<path d="M1316.62 1920.76L1282.40 1861.43A94 94 0 0 1 1287.64 1858.70Z" fill="#EC2027"/>
<path d="M1314.63 1908.27L1292.58 1856.49A94 94 0 0 1 1295.63 1855.30Z" fill="#EC2027"/>
<path d="M1316.20 1886.00L1308.32 1852.08A93.5 93.5 0 0 1 1309.60 1851.81Z" fill="#EC2027"/>
<path d="M1322.08 1885.26L1317.71 1851.02A93 93 0 0 1 1319.00 1850.88Z" fill="#EC2027"/>
<path d="M1295.22 1943.83L1231.46 1946.79A97 97 0 0 1 1231.40 1942.55Z" fill="#EC2027"/>
<path d="M1311.93 1958.68L1260.52 2011.28A96 96 0 0 1 1255.62 2006.00Z" fill="#EC2027"/>
<path d="M1296.51 1979.26L1266.07 2015.10A95 95 0 0 1 1264.46 2013.66Z" fill="#EC2027"/>
<path d="M1298.96 1994.39L1281.97 2025.13A94 94 0 0 1 1280.83 2024.48Z" fill="#EC2027"/>
<path d="M1329.75 1915.23L1330.33 1851.42A92 92 0 0 1 1335.30 1851.66Z" fill="#3953A4"/>
<path d="M1342.51 1884.62L1349.10 1854.79A91 91 0 0 1 1350.18 1855.05Z" fill="#3953A4"/>
<path d="M1367.00 1898.04L1385.67 1875.27A89 89 0 0 1 1386.50 1875.98Z" fill="#3953A4"/>
<path d="M1336.76 1940.86L1407.33 1909.25A86 86 0 0 1 1412.99 1927.88Z" fill="#3953A4"/>
<path d="M1357.29 1941.81L1414.62 1936.46A86.5 86.5 0 0 1 1414.86 1940.83Z" fill="#3953A4"/>
<path d="M1355.45 1944.49L1414.89 1944.46A86.5 86.5 0 0 1 1414.70 1949.28Z" fill="#3953A4"/>
<path d="M1331.65 1944.86L1414.75 1954.00A87 87 0 0 1 1393.56 2001.05Z" fill="#3953A4"/>
<path d="M1338.38 1954.78L1390.30 2005.95A88 88 0 0 1 1382.34 2012.93Z" fill="#3953A4"/>
<path d="M1348.94 1973.85L1378.87 2015.49A88 88 0 0 1 1376.33 2017.20Z" fill="#3953A4"/>
<path d="M1336.89 1959.84L1372.90 2020.48A89 89 0 0 1 1365.45 2024.32Z" fill="#3953A4"/>
<path d="M1344.22 2000.83L1352.56 2029.06A89 89 0 0 1 1351.51 2029.35Z" fill="#3953A4"/>
<path d="M1332.45 1966.39L1347.11 2031.43A90 90 0 0 1 1340.93 2032.52Z" fill="#3953A4"/>
<path d="M1329.33 1976.69L1332.85 2034.29A91 91 0 0 1 1329.04 2034.40Z" fill="#3953A4"/>
<path d="M1320.59 1985.12L1312.74 2034.06A92 92 0 0 1 1310.22 2033.58Z" fill="#3953A4"/>
<path d="M1563.21 1881.76L1565.74 1851.31A91 91 0 0 1 1566.85 1851.42Z" fill="#3953A4"/>
<path d="M1563.15 1922.48L1580.24 1854.93A90 90 0 0 1 1587.44 1857.17Z" fill="#3953A4"/>
<path d="M1585.57 1888.57L1599.47 1861.37A91 91 0 0 1 1600.45 1861.89Z" fill="#3953A4"/>
<path d="M1603.25 1906.62L1629.79 1885.51A92 92 0 0 1 1630.57 1886.53Z" fill="#3953A4"/>
<path d="M1568.13 1935.95L1634.52 1892.20A92 92 0 0 1 1641.15 1904.48Z" fill="#3953A4"/>
<path d="M1566.49 1939.31L1642.87 1908.63A92 92 0 0 1 1647.81 1926.56Z" fill="#3953A4"/>
<path d="M1588.01 1939.93L1648.75 1933.88A92 92 0 0 1 1649.03 1938.21Z" fill="#3953A4"/>
<path d="M1617.97 1943.49L1649.08 1943.75A92 92 0 0 1 1649.05 1944.87Z" fill="#3953A4"/>
<path d="M1582.91 1947.62L1647.47 1959.14A92 92 0 0 1 1646.29 1964.47Z" fill="#3953A4"/>
<path d="M1564.11 1946.31L1640.34 1981.07A92 92 0 0 1 1628.50 1999.92Z" fill="#3953A4"/>
<path d="M1591.77 1991.96L1609.93 2017.22A92 92 0 0 1 1609.01 2017.86Z" fill="#EC2027"/>
<path d="M1572.24 1998.39L1581.80 2031.56A93 93 0 0 1 1580.54 2031.90Z" fill="#EC2027"/>
<path d="M1553.25 1999.86L1551.64 2033.74A92 92 0 0 1 1550.36 2033.65Z" fill="#EC2027"/>
<path d="M1549.79 1976.60L1539.67 2033.25A93 93 0 0 1 1536.18 2032.52Z" fill="#EC2027"/>
<path d="M1534.67 1951.47L1473.72 1980.78A92 92 0 0 1 1471.33 1975.17Z" fill="#EC2027"/>
<path d="M1533.11 1946.30L1467.21 1961.50A92 92 0 0 1 1466.11 1955.50Z" fill="#EC2027"/>
<path d="M1526.23 1944.52L1465.64 1951.84A92 92 0 0 1 1465.27 1947.52Z" fill="#EC2027"/>
<path d="M1497.08 1931.64L1466.32 1926.95A92 92 0 0 1 1466.51 1925.85Z" fill="#EC2027"/>
<path d="M1499.88 1921.07L1470.46 1910.96A92 92 0 0 1 1470.84 1909.91Z" fill="#EC2027"/>
<path d="M1503.14 1913.69L1475.31 1899.78A92 92 0 0 1 1475.83 1898.78Z" fill="#EC2027"/>
<path d="M1531.40 1924.60L1479.59 1892.33A92 92 0 0 1 1482.02 1888.74Z" fill="#EC2027"/>
<path d="M1542.60 1926.46L1490.77 1876.72A93 93 0 0 1 1496.21 1871.61Z" fill="#EC2027"/>
<path d="M1533.19 1886.38L1520.60 1858.54A91 91 0 0 1 1521.62 1858.10Z" fill="#EC2027"/>
<path d="M1550.58 1920.64L1526.84 1855.02A92 92 0 0 1 1533.44 1852.99Z" fill="#EC2027"/>
<path d="M1082.60 2200.60L1016.93 2148.32A93 93 0 0 1 1031.36 2134.12Z" fill="#EC2027"/>
<path d="M1058.23 2155.07L1042.20 2129.06A91 91 0 0 1 1043.16 2128.49Z" fill="#EC2027"/>
<path d="M1111.48 2210.26L1181.51 2216.66A93 93 0 0 1 1180.56 2223.41Z" fill="#EC2027"/>
<path d="M1106.41 2217.90L1170.02 2252.75A93 93 0 0 1 1165.92 2259.37Z" fill="#EC2027"/>
<path d="M1107.88 2228.18L1152.90 2274.67A93 93 0 0 1 1149.15 2278.03Z" fill="#EC2027"/>
<path d="M1092.57 2216.93L1128.32 2290.28A92 92 0 0 1 1112.19 2296.13Z" fill="#EC2027"/>
<path d="M1094.31 2267.76L1097.58 2298.70A92 92 0 0 1 1096.46 2298.80Z" fill="#EC2027"/>
<path d="M1074.62 2226.22L1036.23 2282.46A92 92 0 0 1 1031.23 2278.70Z" fill="#EC2027"/>
<path d="M1068.52 2218.59L1010.39 2254.90A92 92 0 0 1 1007.25 2249.30Z" fill="#EC2027"/>
<path d="M1096.37 2147.10L1099.54 2116.71A91 91 0 0 1 1100.64 2116.85Z" fill="#3953A4"/>
<path d="M1325.27 2201.55L1327.69 2115.77A92 92 0 0 1 1357.12 2121.87Z" fill="#3953A4"/>
<path d="M1331.85 2191.96L1360.83 2123.39A92 92 0 0 1 1369.16 2127.55Z" fill="#3953A4"/>
<path d="M1339.47 2185.57L1374.51 2130.81A92 92 0 0 1 1378.85 2133.84Z" fill="#3953A4"/>
<path d="M1364.61 2162.92L1384.71 2139.91A91 91 0 0 1 1385.54 2140.66Z" fill="#3953A4"/>
<path d="M1346.64 2189.82L1394.68 2148.81A92 92 0 0 1 1397.67 2152.59Z" fill="#3953A4"/>
<path d="M1363.15 2195.32L1411.30 2178.66A92 92 0 0 1 1412.12 2181.26Z" fill="#EC2027"/>
<path d="M1376.67 2200.30L1414.99 2194.10A92 92 0 0 1 1415.21 2195.69Z" fill="#EC2027"/>
<path d="M1376.98 2203.06L1415.58 2198.88A92 92 0 0 1 1415.72 2200.48Z" fill="#EC2027"/>
<path d="M1352.18 2208.86L1415.99 2208.98A92 92 0 0 1 1415.79 2213.96Z" fill="#EC2027"/>
<path d="M1380.92 2228.08L1409.86 2237.85A91 91 0 0 1 1409.48 2238.90Z" fill="#EC2027"/>
<path d="M1379.48 2231.71L1407.73 2243.33A91 91 0 0 1 1407.29 2244.35Z" fill="#EC2027"/>
<path d="M1350.21 2222.77L1404.85 2251.60A92 92 0 0 1 1402.61 2255.50Z" fill="#EC2027"/>
<path d="M1358.93 2257.58L1377.23 2282.74A92 92 0 0 1 1376.31 2283.38Z" fill="#EC2027"/>
<path d="M1327.62 2251.24L1332.72 2298.28A91 91 0 0 1 1330.35 2298.48Z" fill="#EC2027"/>
<path d="M1311.95 2266.94L1306.40 2296.98A91 91 0 0 1 1305.31 2296.76Z" fill="#EC2027"/>
<path d="M1269.79 2227.43L1238.71 2239.42A91 91 0 0 1 1238.27 2238.23Z" fill="#EC2027"/>
<path d="M1301.58 2213.06L1235.35 2232.29A92 92 0 0 1 1233.82 2225.88Z" fill="#EC2027"/>
<path d="M1263.31 2212.69L1232.36 2215.80A92 92 0 0 1 1232.27 2214.68Z" fill="#EC2027"/>
<path d="M1290.12 2186.53L1244.37 2159.66A93 93 0 0 1 1245.92 2157.18Z" fill="#EC2027"/>
<path d="M1294.11 2154.65L1278.35 2127.83A92 92 0 0 1 1279.33 2127.27Z" fill="#EC2027"/>
<path d="M1300.01 2151.73L1287.24 2123.36A92 92 0 0 1 1288.27 2122.92Z" fill="#EC2027"/>
<path d="M1303.57 2150.34L1292.61 2121.22A92 92 0 0 1 1293.67 2120.84Z" fill="#EC2027"/>
<path d="M1311.96 2148.01L1305.26 2117.63A92 92 0 0 1 1306.37 2117.41Z" fill="#EC2027"/>
<path d="M1560.68 2183.32L1563.15 2116.21A91 91 0 0 1 1569.32 2116.72Z" fill="#3953A4"/>
<path d="M1565.02 2185.00L1580.56 2118.76A91 91 0 0 1 1586.82 2120.55Z" fill="#3953A4"/>
<path d="M1570.57 2176.90L1590.12 2121.70A91 91 0 0 1 1593.82 2123.15Z" fill="#3953A4"/>
<path d="M1561.58 2203.35L1596.87 2124.49A91 91 0 0 1 1628.72 2148.97Z" fill="#3953A4"/>
<path d="M1584.52 2191.58L1635.53 2158.34A91 91 0 0 1 1637.82 2162.15Z" fill="#3953A4"/>
<path d="M1586.61 2193.94L1640.07 2166.35A91 91 0 0 1 1641.90 2170.23Z" fill="#EC2027"/>
<path d="M1596.77 2202.26L1648.77 2194.12A91 91 0 0 1 1649.15 2197.11Z" fill="#EC2027"/>
<path d="M1596.03 2209.51L1650.60 2211.43A92 92 0 0 1 1650.39 2214.64Z" fill="#EC2027"/>
<path d="M1617.70 2220.29L1647.63 2226.41A91 91 0 0 1 1647.39 2227.49Z" fill="#EC2027"/>
<path d="M1616.45 2224.98L1645.79 2233.48A91 91 0 0 1 1645.46 2234.54Z" fill="#EC2027"/>
<path d="M1568.52 2212.05L1643.25 2240.75A91 91 0 0 1 1636.04 2255.05Z" fill="#EC2027"/>
<path d="M1590.91 2230.42L1634.06 2259.87A92 92 0 0 1 1632.37 2262.21Z" fill="#EC2027"/>
<path d="M1603.20 2244.44L1629.59 2265.74A92 92 0 0 1 1628.76 2266.73Z" fill="#EC2027"/>
<path d="M1602.58 2249.32L1625.38 2270.49A92 92 0 0 1 1624.60 2271.30Z" fill="#EC2027"/>
<path d="M1553.45 2249.22L1548.60 2298.54A92 92 0 0 1 1546.06 2298.23Z" fill="#EC2027"/>
<path d="M1556.26 2267.94L1555.57 2299.05A92 92 0 0 1 1554.45 2299.00Z" fill="#EC2027"/>
<path d="M1528.35 2259.89L1513.33 2287.13A92 92 0 0 1 1512.35 2286.57Z" fill="#EC2027"/>
<path d="M1510.59 2242.96L1486.87 2261.33A90 90 0 0 1 1486.21 2260.44Z" fill="#EC2027"/>
<path d="M1497.37 2207.10L1465.70 2207.67A93 93 0 0 1 1465.70 2206.53Z" fill="#EC2027"/>
<path d="M1517.76 2187.22L1475.46 2167.93A92 92 0 0 1 1476.44 2165.91Z" fill="#EC2027"/>
<path d="M1535.46 2192.24L1479.84 2159.72A92 92 0 0 1 1482.61 2155.39Z" fill="#EC2027"/>
<path d="M1510.39 2170.03L1485.37 2151.54A92 92 0 0 1 1486.05 2150.65Z" fill="#EC2027"/>
<path d="M1533.84 2177.63L1498.22 2137.77A92 92 0 0 1 1500.55 2135.81Z" fill="#EC2027"/>
<path d="M1522.39 2158.21L1503.40 2133.58A92 92 0 0 1 1504.30 2132.91Z" fill="#EC2027"/>
<path d="M1531.62 2152.56L1517.29 2124.95A92 92 0 0 1 1518.30 2124.45Z" fill="#EC2027"/>
<path d="M1539.85 2161.82L1522.46 2122.54A92 92 0 0 1 1524.24 2121.80Z" fill="#EC2027"/>
<path d="M1541.61 2148.65L1532.34 2118.96A92 92 0 0 1 1533.42 2118.64Z" fill="#EC2027"/>
<path d="M1554.81 2187.37L1537.07 2117.68A92 92 0 0 1 1544.78 2116.16Z" fill="#EC2027"/>
<path d="M1553.76 2146.41L1550.68 2115.45A92 92 0 0 1 1551.80 2115.36Z" fill="#EC2027"/>
<path d="M1557.00 2146.23L1555.57 2115.15A92 92 0 0 1 1556.69 2115.12Z" fill="#EC2027"/>
<rect x="1163.3" y="2325.7" width="35.2" height="35.1" fill="#3953A4"/>
<text x="1206.8" y="2352.0" font-size="24.3">In the OTS</text>
<rect x="1350.9" y="2324.8" width="34.2" height="35.1" fill="#EC2027"/>
<text x="1392.6" y="2352.0" font-size="24.3">Not in the OTS</text>
</svg>
</body></html>
